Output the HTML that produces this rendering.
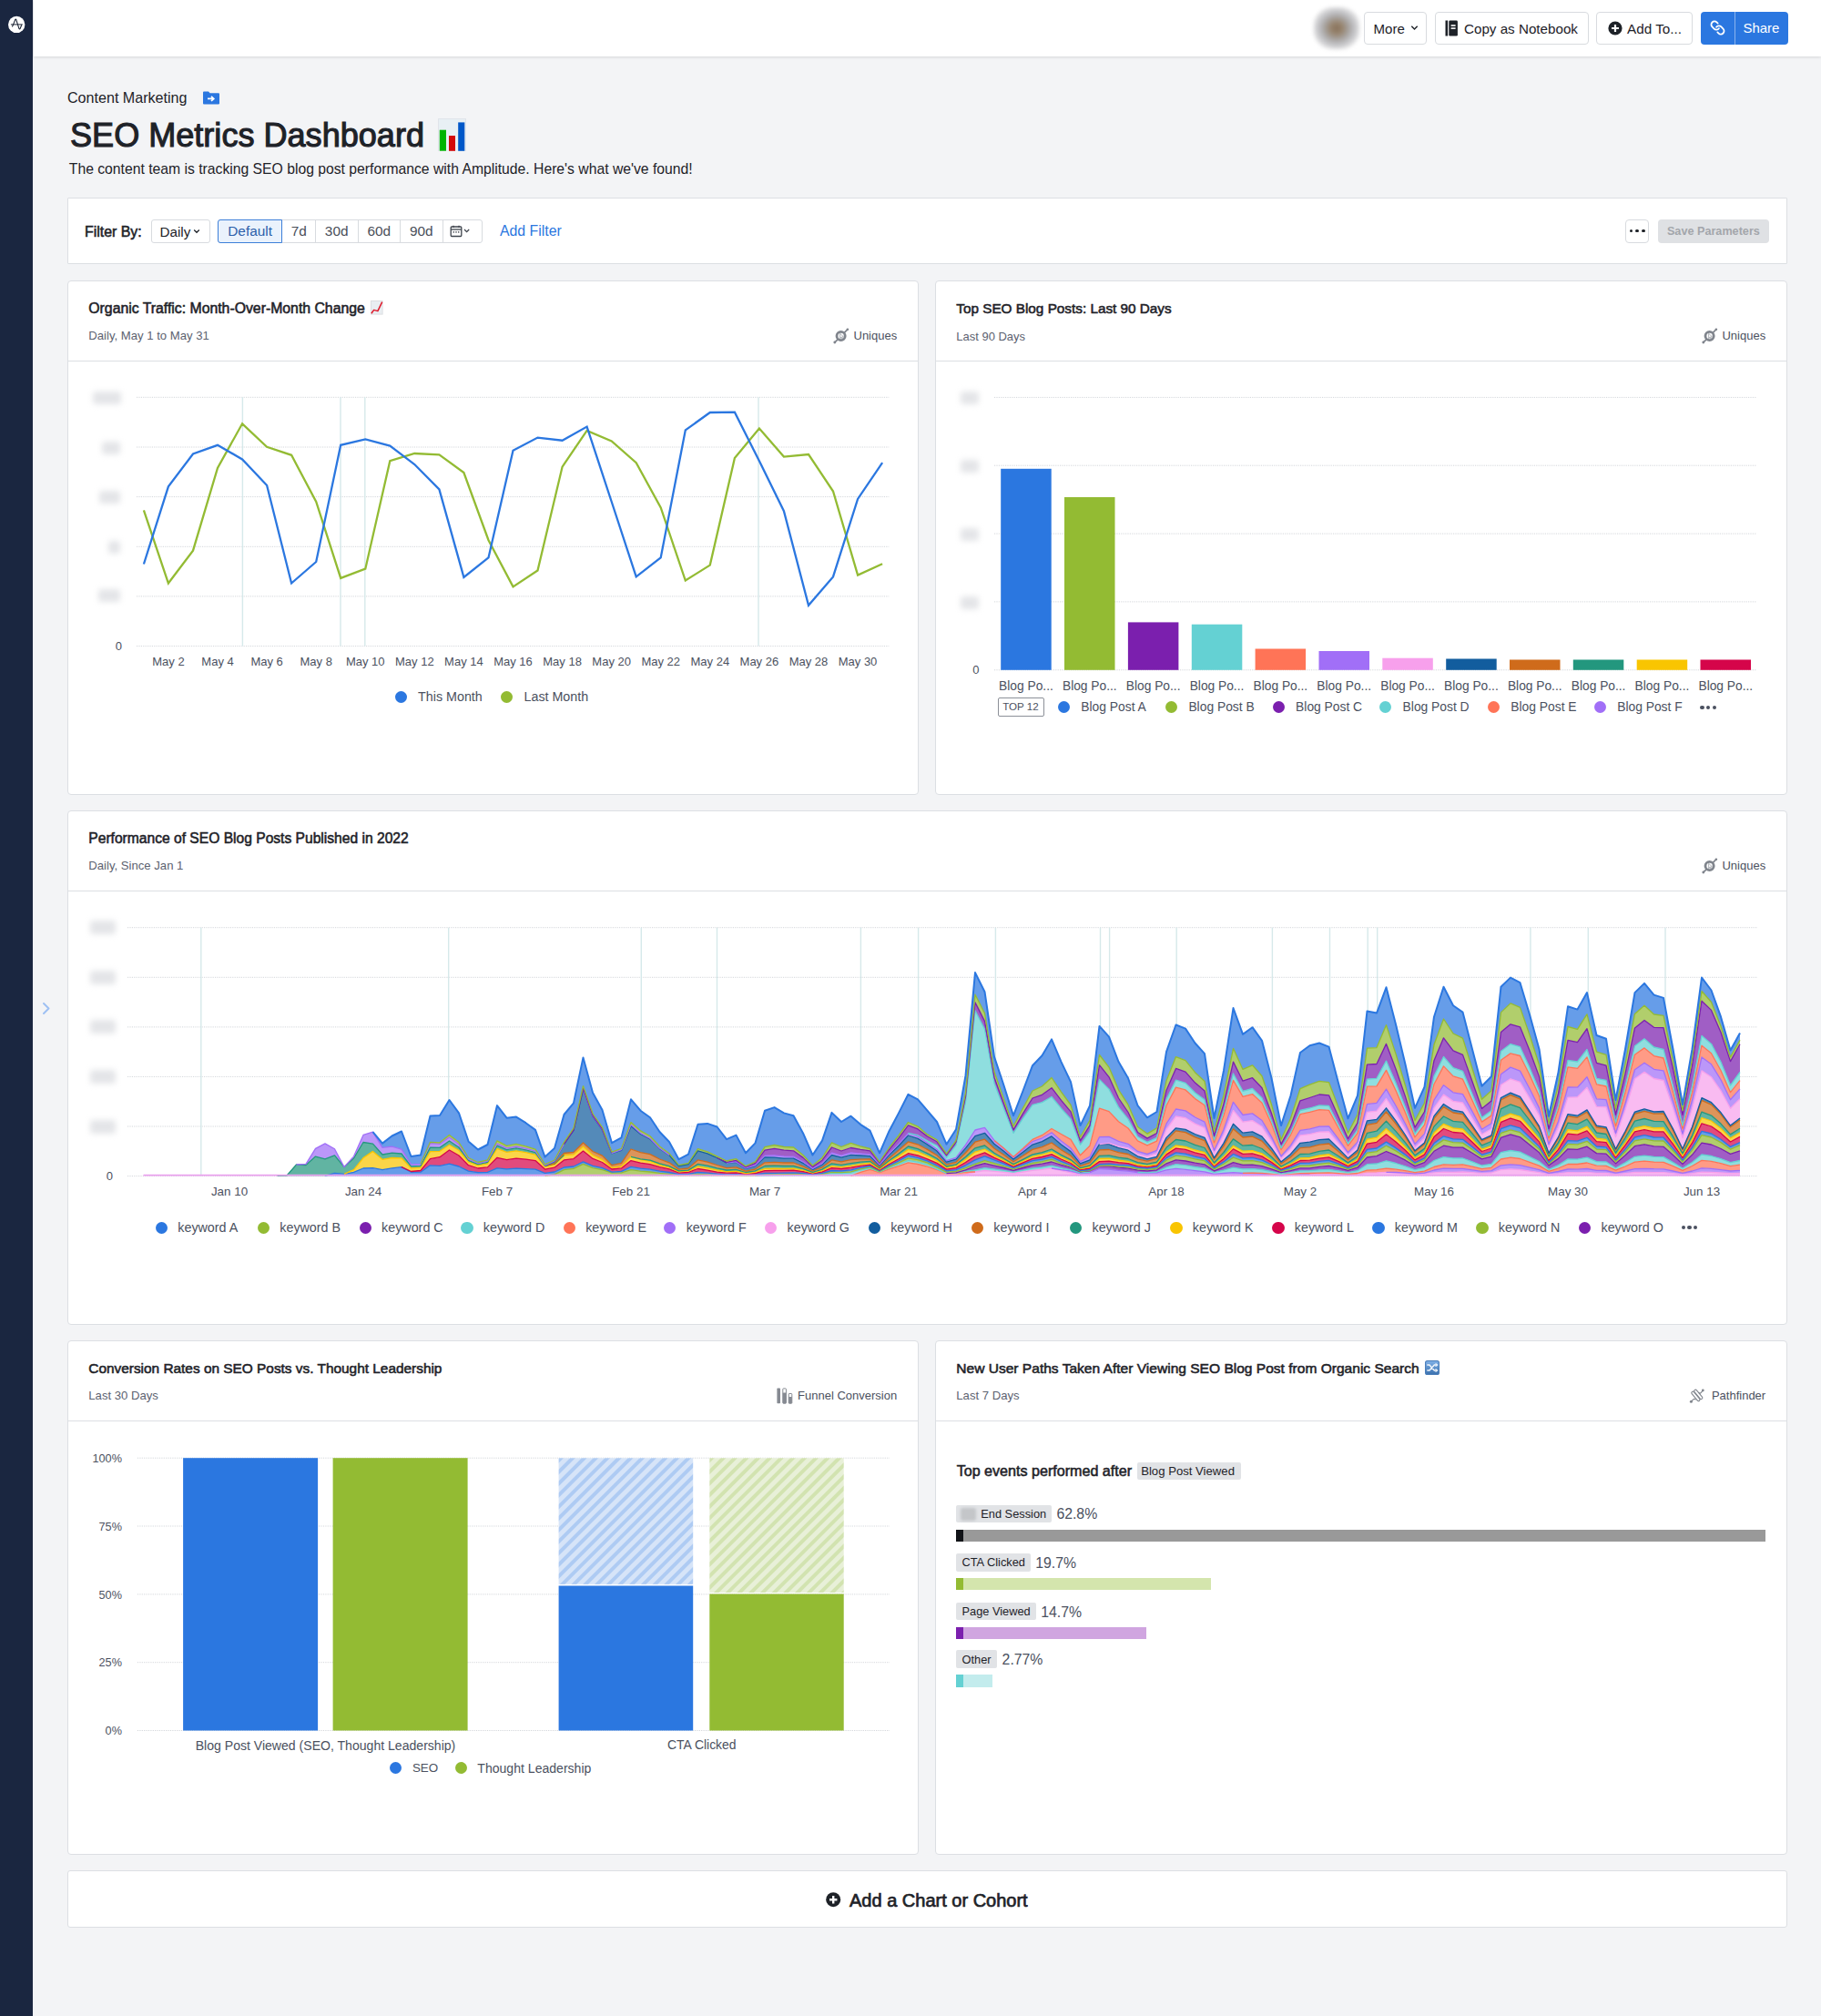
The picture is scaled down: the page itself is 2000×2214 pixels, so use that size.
<!DOCTYPE html>
<html><head><meta charset="utf-8"><title>SEO Metrics Dashboard</title>
<style>
html,body{margin:0;padding:0;}
body{width:2000px;height:2214px;position:relative;overflow:hidden;background:#f3f4f6;font-family:"Liberation Sans", sans-serif;}
.t{position:absolute;white-space:nowrap;font-family:"Liberation Sans", sans-serif;}
.b{position:absolute;}
</style></head><body>
<div class="b" style="left:0.00px;top:0.00px;width:36.00px;height:2214.00px;background:#1a2640;"></div><div class="b" style="left:36.00px;top:0.00px;width:1.00px;height:2214.00px;background:#eef0f3;"></div><svg class="b" style="left:8px;top:17px" width="21" height="21" viewBox="0 0 21 21"><circle cx="10.2" cy="9.9" r="9.2" fill="#fff"/><path d="M5.3 12.4 Q6.2 11.2 6.8 9.4 L8.7 4.6 Q9.2 3.6 9.8 4.6 L12.9 14.3 Q13.5 15.6 14.2 14.3 L15.8 10.2" fill="none" stroke="#1c2535" stroke-width="1.1" stroke-linejoin="round"/><path d="M3.9 9.9 H16.8" stroke="#1c2535" stroke-width="1.0"/></svg><svg class="b" style="left:46px;top:1100px" width="10" height="15" viewBox="0 0 10 15"><path d="M2 2 L7.5 7.5 L2 13" fill="none" stroke="#9ec0f3" stroke-width="2" stroke-linecap="round" stroke-linejoin="round"/></svg><div class="b" style="left:37.00px;top:0.00px;width:1963.00px;height:62.00px;background:#fff;box-shadow:0 1px 3px rgba(0,0,0,0.12);"></div><div class="b" style="left:1443.00px;top:8.00px;width:50.00px;height:46.00px;border-radius:42%;background:radial-gradient(ellipse at 50% 50%,#85705a 0%,#98846e 18%,#a39d97 34%,#b9b9bc 50%,#d6d6d8 66%,#f0f0f1 82%,#ffffff 100%);filter:blur(2px);"></div><div class="b" style="left:1498.00px;top:13.00px;width:69.00px;height:36.00px;background:#fff;border:1px solid #d8dbdf;border-radius:4px;box-sizing:border-box;"></div><div class="t" style="top:23.77px;font-size:15.04px;line-height:15.04px;font-weight:400;color:#1e2228;left:1508.50px;">More</div><svg class="b" style="left:1549px;top:27px" width="9" height="7" viewBox="0 0 9 7"><path d="M1.3 1.8 L4.5 5 L7.7 1.8" fill="none" stroke="#1e2228" stroke-width="1.4"/></svg><div class="b" style="left:1575.50px;top:13.00px;width:169.00px;height:36.00px;background:#fff;border:1px solid #d8dbdf;border-radius:4px;box-sizing:border-box;"></div><svg class="b" style="left:1587px;top:22px" width="15" height="18" viewBox="0 0 15 18"><rect x="0.5" y="0.5" width="2.6" height="17" fill="#1e2228"/><rect x="4.3" y="0.5" width="9.6" height="17" rx="1.3" fill="#1e2228"/><rect x="6.6" y="5.2" width="5" height="1.6" fill="#fff"/><rect x="6.6" y="8.3" width="5" height="1.6" fill="#fff"/></svg><div class="t" style="top:23.63px;font-size:15.2px;line-height:15.2px;font-weight:400;color:#1e2228;left:1608.00px;">Copy as Notebook</div><div class="b" style="left:1753.00px;top:13.00px;width:105.70px;height:36.00px;background:#fff;border:1px solid #d8dbdf;border-radius:4px;box-sizing:border-box;"></div><svg class="b" style="left:1766px;top:23px" width="16" height="16" viewBox="0 0 16 16"><circle cx="8" cy="8" r="7.6" fill="#1e2228"/><path d="M8 4 V12 M4 8 H12" stroke="#fff" stroke-width="2.2"/></svg><div class="t" style="top:23.57px;font-size:15.27px;line-height:15.27px;font-weight:400;color:#1e2228;left:1787.00px;">Add To...</div><div class="b" style="left:1868.00px;top:13.00px;width:96.00px;height:36.00px;background:#2b77e0;border-radius:4px;"></div><div class="b" style="left:1905.00px;top:13.00px;width:1.00px;height:36.00px;background:rgba(255,255,255,0.45);"></div><svg class="b" style="left:1878px;top:22px" width="17" height="17" viewBox="0 0 24 24"><g transform="translate(24 0) scale(-1 1)" fill="none" stroke="#fff" stroke-width="2.5" stroke-linecap="round" stroke-linejoin="round"><path d="M10 13a5 5 0 0 0 7.54.54l3-3a5 5 0 0 0-7.07-7.07l-1.72 1.71"/><path d="M14 11a5 5 0 0 0-7.54-.54l-3 3a5 5 0 0 0 7.07 7.07l1.71-1.71"/></g></svg><div class="t" style="top:23.84px;font-size:14.95px;line-height:14.95px;font-weight:400;color:#fff;left:1914.50px;">Share</div><div class="t" style="top:98.87px;font-size:16.1px;line-height:16.1px;font-weight:400;color:#1e2228;left:74.00px;">Content Marketing</div><svg class="b" style="left:222px;top:100px" width="20" height="15" viewBox="0 0 20 15"><path d="M1 1.5 Q1 0.5 2 0.5 H7 L8.6 2.3 H18 Q19 2.3 19 3.3 V13.5 Q19 14.5 18 14.5 H2 Q1 14.5 1 13.5 Z" fill="#2b77e0"/><path d="M6 8.4 H12.5 M10 5.8 L12.8 8.4 L10 11" fill="none" stroke="#fff" stroke-width="1.7"/></svg><div class="t" style="top:130.93px;font-size:36.1px;line-height:36.1px;font-weight:400;color:#1e2228;-webkit-text-stroke:1.1px #1e2228;left:77.00px;">SEO Metrics Dashboard</div><svg class="b" style="left:481px;top:130px" width="31" height="36" viewBox="0 0 31 36"><rect x="0" y="0" width="31" height="36" fill="#e0e4ea"/><rect x="1" y="1" width="29" height="35" fill="#e8f0f4"/><rect x="1.8" y="12.7" width="7.2" height="23" fill="#00b400"/><rect x="12" y="19" width="7" height="16.8" fill="#d40a0a"/><rect x="22.2" y="4.4" width="7.1" height="31.4" fill="#0057c8"/></svg><div class="t" style="top:177.69px;font-size:15.72px;line-height:15.72px;font-weight:400;color:#1e2228;left:75.80px;">The content team is tracking SEO blog post performance with Amplitude. Here's what we've found!</div><div class="b" style="left:74.00px;top:217.00px;width:1889.00px;height:73.00px;background:#fff;border:1px solid #dcdfe3;border-radius:1px;box-sizing:border-box;"></div><div class="t" style="top:246.54px;font-size:15.9px;line-height:15.9px;font-weight:400;color:#1e2228;-webkit-text-stroke:0.55px #1e2228;left:93.00px;">Filter By:</div><div class="b" style="left:165.50px;top:241.00px;width:65.20px;height:25.50px;border:1px solid #d8dbdf;border-radius:3px;box-sizing:border-box;"></div><div class="t" style="top:246.63px;font-size:15.2px;line-height:15.2px;font-weight:400;color:#1e2228;left:175.50px;">Daily</div><svg class="b" style="left:212px;top:251px" width="8" height="6" viewBox="0 0 8 6"><path d="M1.2 1.5 L4 4.3 L6.8 1.5" fill="none" stroke="#1e2228" stroke-width="1.3"/></svg><div class="b" style="left:239.30px;top:241.00px;width:290.70px;height:25.50px;border:1px solid #d8dbdf;border-radius:3px;box-sizing:border-box;"></div><div class="b" style="left:239.30px;top:241.00px;width:70.70px;height:25.50px;background:#eaf2fc;border:1px solid #3d7fd9;border-radius:3px 0 0 3px;box-sizing:border-box;"></div><div class="b" style="left:345.80px;top:241.00px;width:1.00px;height:25.50px;background:#d8dbdf;"></div><div class="b" style="left:392.50px;top:241.00px;width:1.00px;height:25.50px;background:#d8dbdf;"></div><div class="b" style="left:439.10px;top:241.00px;width:1.00px;height:25.50px;background:#d8dbdf;"></div><div class="b" style="left:485.50px;top:241.00px;width:1.00px;height:25.50px;background:#d8dbdf;"></div><div class="t" style="top:246.46px;font-size:15.4px;line-height:15.4px;font-weight:400;color:#2c5faa;left:-475.40px;width:1500px;text-align:center;">Default</div><div class="t" style="top:246.46px;font-size:15.4px;line-height:15.4px;font-weight:400;color:#4a4f59;left:-421.80px;width:1500px;text-align:center;">7d</div><div class="t" style="top:246.46px;font-size:15.4px;line-height:15.4px;font-weight:400;color:#4a4f59;left:-380.30px;width:1500px;text-align:center;">30d</div><div class="t" style="top:246.46px;font-size:15.4px;line-height:15.4px;font-weight:400;color:#4a4f59;left:-333.70px;width:1500px;text-align:center;">60d</div><div class="t" style="top:246.46px;font-size:15.4px;line-height:15.4px;font-weight:400;color:#4a4f59;left:-287.20px;width:1500px;text-align:center;">90d</div><svg class="b" style="left:494px;top:247px" width="28" height="14" viewBox="0 0 28 14"><rect x="1.2" y="2" width="11.6" height="10.5" rx="1" fill="none" stroke="#3f444d" stroke-width="1.3"/><path d="M1.2 5 H12.8" stroke="#3f444d" stroke-width="1.3"/><path d="M4 0.8 V3 M10 0.8 V3" stroke="#3f444d" stroke-width="1.2"/><rect x="3.6" y="7.2" width="1.4" height="1.4" fill="#3f444d"/><rect x="6.3" y="7.2" width="1.4" height="1.4" fill="#3f444d"/><rect x="9" y="7.2" width="1.4" height="1.4" fill="#3f444d"/><path d="M16 5 L18.6 7.6 L21.2 5" fill="none" stroke="#3f444d" stroke-width="1.3"/></svg><div class="t" style="top:246.09px;font-size:15.84px;line-height:15.84px;font-weight:400;color:#2b77e0;left:549.00px;">Add Filter</div><div class="b" style="left:1785.00px;top:240.50px;width:26.40px;height:26.00px;border:1px solid #d8dbdf;border-radius:4px;box-sizing:border-box;background:#fff;"></div><div class="b" style="left:1789.70px;top:251.60px;width:3.60px;height:3.60px;background:#1e2228;border-radius:50%;"></div><div class="b" style="left:1796.40px;top:251.60px;width:3.60px;height:3.60px;background:#1e2228;border-radius:50%;"></div><div class="b" style="left:1803.10px;top:251.60px;width:3.60px;height:3.60px;background:#1e2228;border-radius:50%;"></div><div class="b" style="left:1820.60px;top:241.00px;width:122.60px;height:25.50px;background:#dfe1e4;border-radius:4px;"></div><div class="t" style="top:248.09px;font-size:12.65px;line-height:12.65px;font-weight:700;color:#a3a6ab;left:1131.90px;width:1500px;text-align:center;">Save Parameters</div><div class="b" style="left:74.00px;top:308.00px;width:935.00px;height:565.00px;background:#fff;border:1px solid #dcdfe3;border-radius:4px;box-sizing:border-box;"></div><div class="b" style="left:75.00px;top:396.00px;width:933.00px;height:1.00px;background:#dcdfe3;"></div><div class="t" style="top:330.62px;font-size:15.8px;line-height:15.8px;font-weight:400;color:#1e2228;-webkit-text-stroke:0.55px #1e2228;left:97.30px;">Organic Traffic: Month-Over-Month Change</div><div class="t" style="top:362.47px;font-size:13.14px;line-height:13.14px;font-weight:400;color:#5c6270;left:97.30px;">Daily, May 1 to May 31</div><div class="t" style="top:361.79px;font-size:13.0px;line-height:13.0px;font-weight:400;color:#4b5160;left:-514.80px;width:1500px;text-align:right;">Uniques</div><svg class="b" style="left:915.0px;top:359.5px" width="18" height="18" viewBox="0 0 18 18"><circle cx="8.6" cy="9" r="4.6" fill="none" stroke="#80858d" stroke-width="2.8"/><path d="M2.2 15.6 L4.7 13.1 M12.5 5.1 L15.6 2.1" stroke="#80858d" stroke-width="1.7" stroke-linecap="round"/><circle cx="1.8" cy="16" r="1.4" fill="#80858d"/><circle cx="15.9" cy="1.8" r="1.3" fill="#80858d"/><path d="M7.6 6.2 L11.4 9.9 L9.5 10 L10.4 12 L9.5 12.4 L8.6 10.4 L7.6 11.6 Z" fill="#fff" stroke="#80858d" stroke-width="0.6"/></svg><div class="b" style="left:1027.00px;top:308.00px;width:936.00px;height:565.00px;background:#fff;border:1px solid #dcdfe3;border-radius:4px;box-sizing:border-box;"></div><div class="b" style="left:1028.00px;top:396.00px;width:934.00px;height:1.00px;background:#dcdfe3;"></div><div class="t" style="top:331.05px;font-size:15.3px;line-height:15.3px;font-weight:400;color:#1e2228;-webkit-text-stroke:0.55px #1e2228;left:1050.30px;">Top SEO Blog Posts: Last 90 Days</div><div class="t" style="top:362.61px;font-size:12.98px;line-height:12.98px;font-weight:400;color:#5c6270;left:1050.30px;">Last 90 Days</div><div class="t" style="top:361.79px;font-size:13.0px;line-height:13.0px;font-weight:400;color:#4b5160;left:439.20px;width:1500px;text-align:right;">Uniques</div><svg class="b" style="left:1869.0px;top:359.5px" width="18" height="18" viewBox="0 0 18 18"><circle cx="8.6" cy="9" r="4.6" fill="none" stroke="#80858d" stroke-width="2.8"/><path d="M2.2 15.6 L4.7 13.1 M12.5 5.1 L15.6 2.1" stroke="#80858d" stroke-width="1.7" stroke-linecap="round"/><circle cx="1.8" cy="16" r="1.4" fill="#80858d"/><circle cx="15.9" cy="1.8" r="1.3" fill="#80858d"/><path d="M7.6 6.2 L11.4 9.9 L9.5 10 L10.4 12 L9.5 12.4 L8.6 10.4 L7.6 11.6 Z" fill="#fff" stroke="#80858d" stroke-width="0.6"/></svg><div class="b" style="left:74.00px;top:890.00px;width:1889.00px;height:565.00px;background:#fff;border:1px solid #dcdfe3;border-radius:4px;box-sizing:border-box;"></div><div class="b" style="left:75.00px;top:978.00px;width:1887.00px;height:1.00px;background:#dcdfe3;"></div><div class="t" style="top:912.77px;font-size:15.62px;line-height:15.62px;font-weight:400;color:#1e2228;-webkit-text-stroke:0.55px #1e2228;left:97.30px;">Performance of SEO Blog Posts Published in 2022</div><div class="t" style="top:944.47px;font-size:13.14px;line-height:13.14px;font-weight:400;color:#5c6270;left:97.30px;">Daily, Since Jan 1</div><div class="t" style="top:943.79px;font-size:13.0px;line-height:13.0px;font-weight:400;color:#4b5160;left:439.20px;width:1500px;text-align:right;">Uniques</div><svg class="b" style="left:1869.0px;top:941.5px" width="18" height="18" viewBox="0 0 18 18"><circle cx="8.6" cy="9" r="4.6" fill="none" stroke="#80858d" stroke-width="2.8"/><path d="M2.2 15.6 L4.7 13.1 M12.5 5.1 L15.6 2.1" stroke="#80858d" stroke-width="1.7" stroke-linecap="round"/><circle cx="1.8" cy="16" r="1.4" fill="#80858d"/><circle cx="15.9" cy="1.8" r="1.3" fill="#80858d"/><path d="M7.6 6.2 L11.4 9.9 L9.5 10 L10.4 12 L9.5 12.4 L8.6 10.4 L7.6 11.6 Z" fill="#fff" stroke="#80858d" stroke-width="0.6"/></svg><div class="b" style="left:74.00px;top:1472.00px;width:935.00px;height:565.00px;background:#fff;border:1px solid #dcdfe3;border-radius:4px;box-sizing:border-box;"></div><div class="b" style="left:75.00px;top:1560.00px;width:933.00px;height:1.00px;background:#dcdfe3;"></div><div class="t" style="top:1494.96px;font-size:15.4px;line-height:15.4px;font-weight:400;color:#1e2228;-webkit-text-stroke:0.55px #1e2228;left:97.30px;">Conversion Rates on SEO Posts vs. Thought Leadership</div><div class="t" style="top:1526.47px;font-size:13.14px;line-height:13.14px;font-weight:400;color:#5c6270;left:97.30px;">Last 30 Days</div><div class="t" style="top:1525.79px;font-size:13.0px;line-height:13.0px;font-weight:400;color:#4b5160;left:-514.80px;width:1500px;text-align:right;">Funnel Conversion</div><svg class="b" style="left:852.5px;top:1523.8px" width="18" height="18" viewBox="0 0 18 18"><rect x="0.4" y="0.6" width="3.6" height="16.6" rx="0.6" fill="#868a92"/><rect x="6.8" y="0.9" width="3.6" height="16.3" rx="0.6" fill="none" stroke="#868a92" stroke-width="1"/><rect x="6.8" y="5.6" width="3.6" height="11.6" rx="0.6" fill="#868a92"/><rect x="13.2" y="6.5" width="3.6" height="10.7" rx="0.6" fill="none" stroke="#868a92" stroke-width="1"/><rect x="13.2" y="10" width="3.6" height="7.2" rx="0.6" fill="#868a92"/></svg><div class="b" style="left:1027.00px;top:1472.00px;width:936.00px;height:565.00px;background:#fff;border:1px solid #dcdfe3;border-radius:4px;box-sizing:border-box;"></div><div class="b" style="left:1028.00px;top:1560.00px;width:934.00px;height:1.00px;background:#dcdfe3;"></div><div class="t" style="top:1494.83px;font-size:15.55px;line-height:15.55px;font-weight:400;color:#1e2228;-webkit-text-stroke:0.55px #1e2228;left:1050.30px;">New User Paths Taken After Viewing SEO Blog Post from Organic Search</div><div class="t" style="top:1526.47px;font-size:13.14px;line-height:13.14px;font-weight:400;color:#5c6270;left:1050.30px;">Last 7 Days</div><div class="t" style="top:1525.79px;font-size:13.0px;line-height:13.0px;font-weight:400;color:#4b5160;left:439.20px;width:1500px;text-align:right;">Pathfinder</div><svg class="b" style="left:1850.0px;top:1520.0px" width="28" height="25" viewBox="0 0 28 25"><g transform="translate(13.9 12.5) rotate(50)" fill="none" stroke="#80858d" stroke-width="1.1"><rect x="-6.3" y="-3.2" width="12.6" height="2.9" rx="1.45"/><rect x="-6.6" y="0.3" width="12.6" height="2.9" rx="1.45"/></g><path d="M7.4 19.2 L10.1 16.6 Q10.8 16 11.5 16.6 L12.4 17.4 M15.5 9.3 L16.5 10 Q17.2 10.4 17.8 9.8 L20.5 6.8" fill="none" stroke="#80858d" stroke-width="1.15"/><circle cx="7.4" cy="19.2" r="1.5" fill="#80858d"/><circle cx="20.3" cy="6.9" r="1.4" fill="#80858d"/></svg><svg class="b" style="left:407px;top:329.5px" width="14" height="16" viewBox="0 0 14 16"><rect x="0" y="0" width="13.6" height="15.6" fill="#dcdee1"/><rect x="1" y="1" width="11.6" height="13.6" fill="#e9eef2"/><path d="M0.9 14.3 L3.6 10.4 L7.9 11.6 L12.7 1.6" fill="none" stroke="#de1a2c" stroke-width="1.5" stroke-linejoin="round"/></svg><svg class="b" style="left:1565px;top:1494px" width="16" height="16" viewBox="0 0 16 16"><defs><linearGradient id="shg" x1="0" y1="0" x2="0" y2="1"><stop offset="0" stop-color="#7fb0e6"/><stop offset="1" stop-color="#3d73b0"/></linearGradient></defs><rect x="0" y="0" width="16" height="16" rx="2.6" fill="#4a7db8"/><rect x="0.9" y="0.9" width="14.2" height="14.2" rx="2" fill="url(#shg)"/><path d="M2.3 5 H5 L10.3 11 H12.8 M2.3 11 H5 L10.3 5 H12.8" fill="none" stroke="#f2f6fb" stroke-width="1.4"/><path d="M11.6 3.4 L13.6 5 L11.6 6.6 M11.6 9.4 L13.6 11 L11.6 12.6" fill="none" stroke="#f2f6fb" stroke-width="1.2"/></svg><div class="b" style="left:74.00px;top:2054.00px;width:1889.00px;height:63.00px;background:#fff;border:1px solid #dcdfe3;border-radius:3px;box-sizing:border-box;"></div><svg class="b" style="left:907px;top:2078px" width="17" height="17" viewBox="0 0 17 17"><circle cx="8.2" cy="8.2" r="8" fill="#1e2228"/><path d="M8.2 4 V12.4 M4 8.2 H12.4" stroke="#fff" stroke-width="2.4"/></svg><div class="t" style="top:2076.77px;font-size:20.0px;line-height:20.0px;font-weight:400;color:#1e2228;-webkit-text-stroke:0.7px #1e2228;left:933.00px;">Add a Chart or Cohort</div><svg class="b" style="left:140px;top:420px" width="850" height="300" viewBox="140 420 850 300"><line x1="150" y1="436.3" x2="976.3" y2="436.3" stroke="#d3d6da" stroke-width="1" stroke-dasharray="1.2 1.2"/><line x1="150" y1="491.0" x2="976.3" y2="491.0" stroke="#d3d6da" stroke-width="1" stroke-dasharray="1.2 1.2"/><line x1="150" y1="545.6" x2="976.3" y2="545.6" stroke="#d3d6da" stroke-width="1" stroke-dasharray="1.2 1.2"/><line x1="150" y1="600.3" x2="976.3" y2="600.3" stroke="#d3d6da" stroke-width="1" stroke-dasharray="1.2 1.2"/><line x1="150" y1="654.9" x2="976.3" y2="654.9" stroke="#d3d6da" stroke-width="1" stroke-dasharray="1.2 1.2"/><line x1="150" y1="709.6" x2="976.3" y2="709.6" stroke="#d3d6da" stroke-width="1" stroke-dasharray="1.2 1.2"/><line x1="266.4" y1="436.3" x2="266.4" y2="709.6" stroke="#d6e9ea" stroke-width="1.4"/><line x1="374" y1="436.3" x2="374" y2="709.6" stroke="#d6e9ea" stroke-width="1.4"/><line x1="400.8" y1="436.3" x2="400.8" y2="709.6" stroke="#d6e9ea" stroke-width="1.4"/><line x1="833" y1="436.3" x2="833" y2="709.6" stroke="#d6e9ea" stroke-width="1.4"/><polyline points="157.9,560.4 184.9,640.5 212.0,604.7 239.0,513.9 266.1,465.3 293.1,490.8 320.1,499.8 347.2,551.0 374.2,634.9 401.3,624.7 428.3,506.2 455.3,498.0 482.4,499.3 509.4,519.0 536.5,593.2 563.5,644.4 590.5,626.5 617.6,512.6 644.6,472.9 671.7,484.4 698.7,508.2 725.7,557.4 752.8,637.5 779.8,620.6 806.9,503.1 833.9,470.6 860.9,501.6 888.0,499.0 915.0,539.5 942.1,631.6 969.1,619.3" fill="none" stroke="#93bb33" stroke-width="2.3" stroke-linejoin="miter"/><polyline points="157.9,619.5 184.9,534.3 212.0,498.5 239.0,488.8 266.1,504.4 293.1,533.0 320.1,640.5 347.2,617.0 374.2,488.8 401.3,482.4 428.3,489.6 455.3,510.0 482.4,537.4 509.4,634.0 536.5,612.4 563.5,494.7 590.5,480.6 617.6,483.7 644.6,468.6 671.7,551.0 698.7,633.4 725.7,612.4 752.8,472.4 779.8,453.0 806.9,452.7 833.9,506.2 860.9,561.2 888.0,664.8 915.0,633.4 942.1,547.9 969.1,508.2" fill="none" stroke="#2b77e0" stroke-width="2.3" stroke-linejoin="miter"/></svg><div class="b" style="left:102.00px;top:430.00px;width:30.50px;height:14.00px;background:#e4e5e8;border-radius:3px;filter:blur(3.2px);"></div><div class="b" style="left:112.30px;top:484.60px;width:20.20px;height:14.00px;background:#e4e5e8;border-radius:3px;filter:blur(3.2px);"></div><div class="b" style="left:109.20px;top:539.40px;width:23.30px;height:14.00px;background:#e4e5e8;border-radius:3px;filter:blur(3.2px);"></div><div class="b" style="left:118.70px;top:593.80px;width:13.80px;height:14.00px;background:#e4e5e8;border-radius:3px;filter:blur(3.2px);"></div><div class="b" style="left:108.40px;top:647.00px;width:24.10px;height:14.00px;background:#e4e5e8;border-radius:3px;filter:blur(3.2px);"></div><div class="t" style="top:702.69px;font-size:13.0px;line-height:13.0px;font-weight:400;color:#4b5160;left:-1366.00px;width:1500px;text-align:right;">0</div><div class="t" style="top:720.39px;font-size:13.0px;line-height:13.0px;font-weight:400;color:#4b5160;left:-565.06px;width:1500px;text-align:center;">May 2</div><div class="t" style="top:720.39px;font-size:13.0px;line-height:13.0px;font-weight:400;color:#4b5160;left:-510.98px;width:1500px;text-align:center;">May 4</div><div class="t" style="top:720.39px;font-size:13.0px;line-height:13.0px;font-weight:400;color:#4b5160;left:-456.90px;width:1500px;text-align:center;">May 6</div><div class="t" style="top:720.39px;font-size:13.0px;line-height:13.0px;font-weight:400;color:#4b5160;left:-402.82px;width:1500px;text-align:center;">May 8</div><div class="t" style="top:720.39px;font-size:13.0px;line-height:13.0px;font-weight:400;color:#4b5160;left:-348.74px;width:1500px;text-align:center;">May 10</div><div class="t" style="top:720.39px;font-size:13.0px;line-height:13.0px;font-weight:400;color:#4b5160;left:-294.66px;width:1500px;text-align:center;">May 12</div><div class="t" style="top:720.39px;font-size:13.0px;line-height:13.0px;font-weight:400;color:#4b5160;left:-240.58px;width:1500px;text-align:center;">May 14</div><div class="t" style="top:720.39px;font-size:13.0px;line-height:13.0px;font-weight:400;color:#4b5160;left:-186.50px;width:1500px;text-align:center;">May 16</div><div class="t" style="top:720.39px;font-size:13.0px;line-height:13.0px;font-weight:400;color:#4b5160;left:-132.42px;width:1500px;text-align:center;">May 18</div><div class="t" style="top:720.39px;font-size:13.0px;line-height:13.0px;font-weight:400;color:#4b5160;left:-78.34px;width:1500px;text-align:center;">May 20</div><div class="t" style="top:720.39px;font-size:13.0px;line-height:13.0px;font-weight:400;color:#4b5160;left:-24.26px;width:1500px;text-align:center;">May 22</div><div class="t" style="top:720.39px;font-size:13.0px;line-height:13.0px;font-weight:400;color:#4b5160;left:29.82px;width:1500px;text-align:center;">May 24</div><div class="t" style="top:720.39px;font-size:13.0px;line-height:13.0px;font-weight:400;color:#4b5160;left:83.90px;width:1500px;text-align:center;">May 26</div><div class="t" style="top:720.39px;font-size:13.0px;line-height:13.0px;font-weight:400;color:#4b5160;left:137.98px;width:1500px;text-align:center;">May 28</div><div class="t" style="top:720.39px;font-size:13.0px;line-height:13.0px;font-weight:400;color:#4b5160;left:192.06px;width:1500px;text-align:center;">May 30</div><div class="b" style="left:434.30px;top:759.20px;width:13.20px;height:13.20px;background:#2b77e0;border-radius:50%;"></div><div class="t" style="top:758.30px;font-size:14.29px;line-height:14.29px;font-weight:400;color:#4b5160;left:459.10px;">This Month</div><div class="b" style="left:550.30px;top:759.20px;width:13.20px;height:13.20px;background:#93bb33;border-radius:50%;"></div><div class="t" style="top:758.30px;font-size:14.29px;line-height:14.29px;font-weight:400;color:#4b5160;left:575.50px;">Last Month</div><svg class="b" style="left:1080px;top:420px" width="870" height="330" viewBox="1080 420 870 330"><line x1="1092" y1="436.4" x2="1929" y2="436.4" stroke="#d3d6da" stroke-width="1" stroke-dasharray="1.2 1.2"/><line x1="1092" y1="511.2" x2="1929" y2="511.2" stroke="#d3d6da" stroke-width="1" stroke-dasharray="1.2 1.2"/><line x1="1092" y1="586.1" x2="1929" y2="586.1" stroke="#d3d6da" stroke-width="1" stroke-dasharray="1.2 1.2"/><line x1="1092" y1="660.9" x2="1929" y2="660.9" stroke="#d3d6da" stroke-width="1" stroke-dasharray="1.2 1.2"/><line x1="1092" y1="735.8" x2="1929" y2="735.8" stroke="#d3d6da" stroke-width="1" stroke-dasharray="1.2 1.2"/><rect x="1099.2" y="514.8" width="55.5" height="221.0" fill="#2b77e0"/><rect x="1169.0" y="546" width="55.5" height="189.8" fill="#93bb33"/><rect x="1238.9" y="683.4" width="55.5" height="52.4" fill="#7b1fae"/><rect x="1308.8" y="685.7" width="55.5" height="50.1" fill="#64d1d3"/><rect x="1378.6" y="712.5" width="55.5" height="23.3" fill="#ff7457"/><rect x="1448.5" y="715" width="55.5" height="20.8" fill="#a16ff7"/><rect x="1518.3" y="722.7" width="55.5" height="13.1" fill="#f7a0ec"/><rect x="1588.2" y="723.5" width="55.5" height="12.3" fill="#125d9e"/><rect x="1658.0" y="724.5" width="55.5" height="11.3" fill="#cf6b1b"/><rect x="1727.8" y="724.5" width="55.5" height="11.3" fill="#23977e"/><rect x="1797.7" y="724.5" width="55.5" height="11.3" fill="#f9c501"/><rect x="1867.5" y="724.5" width="55.5" height="11.3" fill="#d5054a"/></svg><div class="b" style="left:1055.00px;top:430.00px;width:20.00px;height:14.00px;background:#e4e5e8;border-radius:3px;filter:blur(3.2px);"></div><div class="b" style="left:1055.00px;top:504.70px;width:20.00px;height:14.00px;background:#e4e5e8;border-radius:3px;filter:blur(3.2px);"></div><div class="b" style="left:1055.00px;top:580.00px;width:20.00px;height:14.00px;background:#e4e5e8;border-radius:3px;filter:blur(3.2px);"></div><div class="b" style="left:1055.00px;top:654.80px;width:20.00px;height:14.00px;background:#e4e5e8;border-radius:3px;filter:blur(3.2px);"></div><div class="t" style="top:729.29px;font-size:13.0px;line-height:13.0px;font-weight:400;color:#4b5160;left:-424.50px;width:1500px;text-align:right;">0</div><div class="t" style="top:746.54px;font-size:13.77px;line-height:13.77px;font-weight:400;color:#4b5160;left:376.95px;width:1500px;text-align:center;">Blog Po...</div><div class="t" style="top:746.54px;font-size:13.77px;line-height:13.77px;font-weight:400;color:#4b5160;left:446.80px;width:1500px;text-align:center;">Blog Po...</div><div class="t" style="top:746.54px;font-size:13.77px;line-height:13.77px;font-weight:400;color:#4b5160;left:516.65px;width:1500px;text-align:center;">Blog Po...</div><div class="t" style="top:746.54px;font-size:13.77px;line-height:13.77px;font-weight:400;color:#4b5160;left:586.50px;width:1500px;text-align:center;">Blog Po...</div><div class="t" style="top:746.54px;font-size:13.77px;line-height:13.77px;font-weight:400;color:#4b5160;left:656.35px;width:1500px;text-align:center;">Blog Po...</div><div class="t" style="top:746.54px;font-size:13.77px;line-height:13.77px;font-weight:400;color:#4b5160;left:726.20px;width:1500px;text-align:center;">Blog Po...</div><div class="t" style="top:746.54px;font-size:13.77px;line-height:13.77px;font-weight:400;color:#4b5160;left:796.05px;width:1500px;text-align:center;">Blog Po...</div><div class="t" style="top:746.54px;font-size:13.77px;line-height:13.77px;font-weight:400;color:#4b5160;left:865.90px;width:1500px;text-align:center;">Blog Po...</div><div class="t" style="top:746.54px;font-size:13.77px;line-height:13.77px;font-weight:400;color:#4b5160;left:935.75px;width:1500px;text-align:center;">Blog Po...</div><div class="t" style="top:746.54px;font-size:13.77px;line-height:13.77px;font-weight:400;color:#4b5160;left:1005.60px;width:1500px;text-align:center;">Blog Po...</div><div class="t" style="top:746.54px;font-size:13.77px;line-height:13.77px;font-weight:400;color:#4b5160;left:1075.45px;width:1500px;text-align:center;">Blog Po...</div><div class="t" style="top:746.54px;font-size:13.77px;line-height:13.77px;font-weight:400;color:#4b5160;left:1145.30px;width:1500px;text-align:center;">Blog Po...</div><div class="b" style="left:1096.00px;top:766.30px;width:51.00px;height:20.70px;border:1px solid #8c9098;border-radius:2px;box-sizing:border-box;"></div><div class="t" style="top:771.10px;font-size:11.58px;line-height:11.58px;font-weight:400;color:#4b5160;left:370.90px;width:1500px;text-align:center;">TOP 12</div><div class="b" style="left:1162.00px;top:770.00px;width:13.20px;height:13.20px;background:#2b77e0;border-radius:50%;"></div><div class="t" style="top:769.68px;font-size:13.84px;line-height:13.84px;font-weight:400;color:#4b5160;left:1187.30px;">Blog Post A</div><div class="b" style="left:1280.10px;top:770.00px;width:13.20px;height:13.20px;background:#93bb33;border-radius:50%;"></div><div class="t" style="top:769.68px;font-size:13.84px;line-height:13.84px;font-weight:400;color:#4b5160;left:1305.40px;">Blog Post B</div><div class="b" style="left:1397.80px;top:770.00px;width:13.20px;height:13.20px;background:#7b1fae;border-radius:50%;"></div><div class="t" style="top:769.68px;font-size:13.84px;line-height:13.84px;font-weight:400;color:#4b5160;left:1423.10px;">Blog Post C</div><div class="b" style="left:1515.30px;top:770.00px;width:13.20px;height:13.20px;background:#64d1d3;border-radius:50%;"></div><div class="t" style="top:769.68px;font-size:13.84px;line-height:13.84px;font-weight:400;color:#4b5160;left:1540.60px;">Blog Post D</div><div class="b" style="left:1634.00px;top:770.00px;width:13.20px;height:13.20px;background:#ff7457;border-radius:50%;"></div><div class="t" style="top:769.68px;font-size:13.84px;line-height:13.84px;font-weight:400;color:#4b5160;left:1659.30px;">Blog Post E</div><div class="b" style="left:1750.90px;top:770.00px;width:13.20px;height:13.20px;background:#a16ff7;border-radius:50%;"></div><div class="t" style="top:769.68px;font-size:13.84px;line-height:13.84px;font-weight:400;color:#4b5160;left:1776.20px;">Blog Post F</div><div class="b" style="left:1867.40px;top:774.60px;width:4.20px;height:4.20px;background:#4b5160;border-radius:50%;"></div><div class="b" style="left:1874.30px;top:774.60px;width:4.20px;height:4.20px;background:#4b5160;border-radius:50%;"></div><div class="b" style="left:1881.20px;top:774.60px;width:4.20px;height:4.20px;background:#4b5160;border-radius:50%;"></div><svg class="b" style="left:130px;top:1000px" width="1810" height="300" viewBox="130 1000 1810 300"><line x1="140" y1="1018.7" x2="1930.5" y2="1018.7" stroke="#d3d6da" stroke-width="1" stroke-dasharray="1.2 1.2"/><line x1="140" y1="1073.3" x2="1930.5" y2="1073.3" stroke="#d3d6da" stroke-width="1" stroke-dasharray="1.2 1.2"/><line x1="140" y1="1127.9" x2="1930.5" y2="1127.9" stroke="#d3d6da" stroke-width="1" stroke-dasharray="1.2 1.2"/><line x1="140" y1="1182.4" x2="1930.5" y2="1182.4" stroke="#d3d6da" stroke-width="1" stroke-dasharray="1.2 1.2"/><line x1="140" y1="1237.0" x2="1930.5" y2="1237.0" stroke="#d3d6da" stroke-width="1" stroke-dasharray="1.2 1.2"/><line x1="140" y1="1291.6" x2="1930.5" y2="1291.6" stroke="#d3d6da" stroke-width="1" stroke-dasharray="1.2 1.2"/><line x1="220.8" y1="1018.8" x2="220.8" y2="1291.4" stroke="#d6e9ea" stroke-width="1.4"/><line x1="492.7" y1="1018.8" x2="492.7" y2="1291.4" stroke="#d6e9ea" stroke-width="1.4"/><line x1="704.3" y1="1018.8" x2="704.3" y2="1291.4" stroke="#d6e9ea" stroke-width="1.4"/><line x1="787.5" y1="1018.8" x2="787.5" y2="1291.4" stroke="#d6e9ea" stroke-width="1.4"/><line x1="945.4" y1="1018.8" x2="945.4" y2="1291.4" stroke="#d6e9ea" stroke-width="1.4"/><line x1="1008.6" y1="1018.8" x2="1008.6" y2="1291.4" stroke="#d6e9ea" stroke-width="1.4"/><line x1="1093.4" y1="1018.8" x2="1093.4" y2="1291.4" stroke="#d6e9ea" stroke-width="1.4"/><line x1="1208.5" y1="1018.8" x2="1208.5" y2="1291.4" stroke="#d6e9ea" stroke-width="1.4"/><line x1="1218.6" y1="1018.8" x2="1218.6" y2="1291.4" stroke="#d6e9ea" stroke-width="1.4"/><line x1="1292.2" y1="1018.8" x2="1292.2" y2="1291.4" stroke="#d6e9ea" stroke-width="1.4"/><line x1="1397.4" y1="1018.8" x2="1397.4" y2="1291.4" stroke="#d6e9ea" stroke-width="1.4"/><line x1="1460.5" y1="1018.8" x2="1460.5" y2="1291.4" stroke="#d6e9ea" stroke-width="1.4"/><line x1="1502.2" y1="1018.8" x2="1502.2" y2="1291.4" stroke="#d6e9ea" stroke-width="1.4"/><line x1="1512.7" y1="1018.8" x2="1512.7" y2="1291.4" stroke="#d6e9ea" stroke-width="1.4"/><line x1="1680.9" y1="1018.8" x2="1680.9" y2="1291.4" stroke="#d6e9ea" stroke-width="1.4"/><line x1="1744.3" y1="1018.8" x2="1744.3" y2="1291.4" stroke="#d6e9ea" stroke-width="1.4"/><line x1="1829" y1="1018.8" x2="1829" y2="1291.4" stroke="#d6e9ea" stroke-width="1.4"/><polygon points="304.5,1291.4 315.0,1291.4 325.5,1291.4 336.0,1291.4 346.5,1291.4 357.0,1291.4 367.5,1291.4 378.0,1291.4 388.5,1291.4 399.0,1291.4 409.5,1291.4 420.0,1291.4 430.5,1291.4 441.0,1291.4 451.5,1291.4 462.0,1291.4 472.5,1291.4 483.0,1291.4 493.5,1291.4 504.0,1291.4 514.5,1291.4 525.0,1291.4 535.5,1291.4 546.0,1291.4 556.5,1291.4 567.0,1291.4 577.5,1291.4 588.0,1291.4 598.5,1291.4 609.0,1291.4 619.5,1291.4 630.0,1291.4 640.5,1291.4 651.0,1291.4 661.5,1291.4 672.0,1291.4 682.5,1291.4 693.0,1291.4 703.5,1291.4 714.0,1291.4 724.5,1291.4 735.0,1291.4 745.5,1291.4 756.0,1291.4 766.5,1291.4 777.0,1291.4 787.5,1291.4 798.0,1291.4 808.5,1291.4 819.0,1291.4 829.5,1291.4 840.0,1291.4 850.5,1291.4 861.0,1291.4 871.5,1291.4 882.0,1291.4 892.5,1291.4 903.0,1291.4 913.5,1291.4 924.0,1291.4 934.5,1291.4 945.0,1291.4 955.5,1291.4 966.0,1291.4 976.5,1291.4 987.0,1291.4 997.5,1291.4 1008.0,1291.4 1018.5,1291.4 1029.0,1291.4 1039.5,1291.4 1050.0,1291.1 1060.5,1290.0 1071.0,1287.0 1081.5,1285.5 1092.0,1286.4 1102.5,1287.3 1113.0,1288.5 1123.5,1287.0 1134.0,1285.3 1144.5,1284.4 1155.0,1283.0 1165.5,1285.7 1176.0,1287.9 1186.5,1290.1 1197.0,1290.5 1207.5,1291.4 1218.0,1291.4 1228.5,1291.4 1239.0,1291.4 1249.5,1291.4 1260.0,1291.4 1270.5,1291.4 1281.0,1291.4 1291.5,1291.4 1302.0,1291.4 1312.5,1291.4 1323.0,1291.4 1333.5,1291.4 1344.0,1291.4 1354.5,1291.4 1365.0,1291.2 1375.5,1291.0 1386.0,1290.8 1396.5,1290.9 1407.0,1291.1 1417.5,1290.7 1428.0,1290.2 1438.5,1290.0 1449.0,1289.8 1459.5,1289.6 1470.0,1290.0 1480.5,1290.5 1491.0,1290.0 1501.5,1288.2 1512.0,1288.0 1522.5,1287.3 1533.0,1288.1 1543.5,1289.0 1554.0,1289.9 1564.5,1289.4 1575.0,1287.9 1585.5,1287.2 1596.0,1287.3 1606.5,1287.0 1617.0,1287.7 1627.5,1288.6 1638.0,1288.0 1648.5,1284.6 1659.0,1283.8 1669.5,1284.5 1680.0,1286.1 1690.5,1287.6 1701.0,1289.8 1711.5,1288.9 1722.0,1287.7 1732.5,1287.8 1743.0,1287.4 1753.5,1288.4 1764.0,1288.5 1774.5,1289.8 1785.0,1288.7 1795.5,1287.5 1806.0,1287.3 1816.5,1287.6 1827.0,1287.6 1837.5,1288.7 1848.0,1289.9 1858.5,1288.7 1869.0,1287.1 1879.5,1287.4 1890.0,1288.0 1900.5,1288.7 1911.0,1288.3 1911.0,1291.4 1900.5,1291.4 1890.0,1291.4 1879.5,1291.4 1869.0,1291.4 1858.5,1291.4 1848.0,1291.4 1837.5,1291.4 1827.0,1291.4 1816.5,1291.4 1806.0,1291.4 1795.5,1291.4 1785.0,1291.4 1774.5,1291.4 1764.0,1291.4 1753.5,1291.4 1743.0,1291.4 1732.5,1291.4 1722.0,1291.4 1711.5,1291.4 1701.0,1291.4 1690.5,1291.4 1680.0,1291.4 1669.5,1291.4 1659.0,1291.4 1648.5,1291.4 1638.0,1291.4 1627.5,1291.4 1617.0,1291.4 1606.5,1291.4 1596.0,1291.4 1585.5,1291.4 1575.0,1291.4 1564.5,1291.4 1554.0,1291.4 1543.5,1291.4 1533.0,1291.4 1522.5,1291.4 1512.0,1291.4 1501.5,1291.4 1491.0,1291.4 1480.5,1291.4 1470.0,1291.4 1459.5,1291.4 1449.0,1291.4 1438.5,1291.4 1428.0,1291.4 1417.5,1291.4 1407.0,1291.4 1396.5,1291.4 1386.0,1291.4 1375.5,1291.4 1365.0,1291.4 1354.5,1291.4 1344.0,1291.4 1333.5,1291.4 1323.0,1291.4 1312.5,1291.4 1302.0,1291.4 1291.5,1291.4 1281.0,1291.4 1270.5,1291.4 1260.0,1291.4 1249.5,1291.4 1239.0,1291.4 1228.5,1291.4 1218.0,1291.4 1207.5,1291.4 1197.0,1291.4 1186.5,1291.4 1176.0,1291.4 1165.5,1291.4 1155.0,1291.4 1144.5,1291.4 1134.0,1291.4 1123.5,1291.4 1113.0,1291.4 1102.5,1291.4 1092.0,1291.4 1081.5,1291.4 1071.0,1291.4 1060.5,1291.4 1050.0,1291.4 1039.5,1291.4 1029.0,1291.4 1018.5,1291.4 1008.0,1291.4 997.5,1291.4 987.0,1291.4 976.5,1291.4 966.0,1291.4 955.5,1291.4 945.0,1291.4 934.5,1291.4 924.0,1291.4 913.5,1291.4 903.0,1291.4 892.5,1291.4 882.0,1291.4 871.5,1291.4 861.0,1291.4 850.5,1291.4 840.0,1291.4 829.5,1291.4 819.0,1291.4 808.5,1291.4 798.0,1291.4 787.5,1291.4 777.0,1291.4 766.5,1291.4 756.0,1291.4 745.5,1291.4 735.0,1291.4 724.5,1291.4 714.0,1291.4 703.5,1291.4 693.0,1291.4 682.5,1291.4 672.0,1291.4 661.5,1291.4 651.0,1291.4 640.5,1291.4 630.0,1291.4 619.5,1291.4 609.0,1291.4 598.5,1291.4 588.0,1291.4 577.5,1291.4 567.0,1291.4 556.5,1291.4 546.0,1291.4 535.5,1291.4 525.0,1291.4 514.5,1291.4 504.0,1291.4 493.5,1291.4 483.0,1291.4 472.5,1291.4 462.0,1291.4 451.5,1291.4 441.0,1291.4 430.5,1291.4 420.0,1291.4 409.5,1291.4 399.0,1291.4 388.5,1291.4 378.0,1291.4 367.5,1291.4 357.0,1291.4 346.5,1291.4 336.0,1291.4 325.5,1291.4 315.0,1291.4 304.5,1291.4" fill="#f9bbf1"/><polygon points="304.5,1291.4 315.0,1291.4 325.5,1291.4 336.0,1291.4 346.5,1291.4 357.0,1291.4 367.5,1291.4 378.0,1291.4 388.5,1291.4 399.0,1291.4 409.5,1291.4 420.0,1291.4 430.5,1291.4 441.0,1291.4 451.5,1291.4 462.0,1291.4 472.5,1291.4 483.0,1291.4 493.5,1291.4 504.0,1291.4 514.5,1291.4 525.0,1291.4 535.5,1291.4 546.0,1291.4 556.5,1291.4 567.0,1291.4 577.5,1291.4 588.0,1291.4 598.5,1291.4 609.0,1291.4 619.5,1291.4 630.0,1291.4 640.5,1291.4 651.0,1291.4 661.5,1291.4 672.0,1291.4 682.5,1291.4 693.0,1291.4 703.5,1291.4 714.0,1291.4 724.5,1291.4 735.0,1291.4 745.5,1291.4 756.0,1291.4 766.5,1291.4 777.0,1291.4 787.5,1291.4 798.0,1291.4 808.5,1291.4 819.0,1291.4 829.5,1291.4 840.0,1291.4 850.5,1291.4 861.0,1291.4 871.5,1291.4 882.0,1291.4 892.5,1291.4 903.0,1291.4 913.5,1291.4 924.0,1291.4 934.5,1291.4 945.0,1291.4 955.5,1291.4 966.0,1291.4 976.5,1291.4 987.0,1291.4 997.5,1291.4 1008.0,1291.4 1018.5,1291.4 1029.0,1291.4 1039.5,1291.4 1050.0,1291.1 1060.5,1290.0 1071.0,1287.0 1081.5,1285.5 1092.0,1286.4 1102.5,1287.3 1113.0,1288.5 1123.5,1287.0 1134.0,1285.3 1144.5,1284.4 1155.0,1283.0 1165.5,1284.6 1176.0,1285.9 1186.5,1288.6 1197.0,1287.6 1207.5,1283.5 1218.0,1284.0 1228.5,1285.3 1239.0,1286.1 1249.5,1287.5 1260.0,1288.2 1270.5,1287.9 1281.0,1284.8 1291.5,1283.4 1302.0,1284.4 1312.5,1285.7 1323.0,1286.8 1333.5,1289.5 1344.0,1288.5 1354.5,1287.7 1365.0,1288.5 1375.5,1288.5 1386.0,1289.0 1396.5,1289.8 1407.0,1290.6 1417.5,1290.3 1428.0,1289.9 1438.5,1290.0 1449.0,1289.8 1459.5,1289.6 1470.0,1290.0 1480.5,1290.5 1491.0,1290.0 1501.5,1288.2 1512.0,1288.0 1522.5,1287.3 1533.0,1287.5 1543.5,1288.1 1554.0,1289.2 1564.5,1288.1 1575.0,1285.0 1585.5,1283.1 1596.0,1283.4 1606.5,1283.3 1617.0,1284.8 1627.5,1286.4 1638.0,1285.6 1648.5,1279.9 1659.0,1278.8 1669.5,1279.7 1680.0,1282.2 1690.5,1284.6 1701.0,1288.4 1711.5,1286.5 1722.0,1284.0 1732.5,1284.2 1743.0,1283.5 1753.5,1285.3 1764.0,1285.5 1774.5,1288.2 1785.0,1286.0 1795.5,1283.6 1806.0,1283.3 1816.5,1283.7 1827.0,1283.8 1837.5,1286.0 1848.0,1288.4 1858.5,1286.0 1869.0,1282.9 1879.5,1283.4 1890.0,1284.6 1900.5,1286.0 1911.0,1285.3 1911.0,1288.3 1900.5,1288.7 1890.0,1288.0 1879.5,1287.4 1869.0,1287.1 1858.5,1288.7 1848.0,1289.9 1837.5,1288.7 1827.0,1287.6 1816.5,1287.6 1806.0,1287.3 1795.5,1287.5 1785.0,1288.7 1774.5,1289.8 1764.0,1288.5 1753.5,1288.4 1743.0,1287.4 1732.5,1287.8 1722.0,1287.7 1711.5,1288.9 1701.0,1289.8 1690.5,1287.6 1680.0,1286.1 1669.5,1284.5 1659.0,1283.8 1648.5,1284.6 1638.0,1288.0 1627.5,1288.6 1617.0,1287.7 1606.5,1287.0 1596.0,1287.3 1585.5,1287.2 1575.0,1287.9 1564.5,1289.4 1554.0,1289.9 1543.5,1289.0 1533.0,1288.1 1522.5,1287.3 1512.0,1288.0 1501.5,1288.2 1491.0,1290.0 1480.5,1290.5 1470.0,1290.0 1459.5,1289.6 1449.0,1289.8 1438.5,1290.0 1428.0,1290.2 1417.5,1290.7 1407.0,1291.1 1396.5,1290.9 1386.0,1290.8 1375.5,1291.0 1365.0,1291.2 1354.5,1291.4 1344.0,1291.4 1333.5,1291.4 1323.0,1291.4 1312.5,1291.4 1302.0,1291.4 1291.5,1291.4 1281.0,1291.4 1270.5,1291.4 1260.0,1291.4 1249.5,1291.4 1239.0,1291.4 1228.5,1291.4 1218.0,1291.4 1207.5,1291.4 1197.0,1290.5 1186.5,1290.1 1176.0,1287.9 1165.5,1285.7 1155.0,1283.0 1144.5,1284.4 1134.0,1285.3 1123.5,1287.0 1113.0,1288.5 1102.5,1287.3 1092.0,1286.4 1081.5,1285.5 1071.0,1287.0 1060.5,1290.0 1050.0,1291.1 1039.5,1291.4 1029.0,1291.4 1018.5,1291.4 1008.0,1291.4 997.5,1291.4 987.0,1291.4 976.5,1291.4 966.0,1291.4 955.5,1291.4 945.0,1291.4 934.5,1291.4 924.0,1291.4 913.5,1291.4 903.0,1291.4 892.5,1291.4 882.0,1291.4 871.5,1291.4 861.0,1291.4 850.5,1291.4 840.0,1291.4 829.5,1291.4 819.0,1291.4 808.5,1291.4 798.0,1291.4 787.5,1291.4 777.0,1291.4 766.5,1291.4 756.0,1291.4 745.5,1291.4 735.0,1291.4 724.5,1291.4 714.0,1291.4 703.5,1291.4 693.0,1291.4 682.5,1291.4 672.0,1291.4 661.5,1291.4 651.0,1291.4 640.5,1291.4 630.0,1291.4 619.5,1291.4 609.0,1291.4 598.5,1291.4 588.0,1291.4 577.5,1291.4 567.0,1291.4 556.5,1291.4 546.0,1291.4 535.5,1291.4 525.0,1291.4 514.5,1291.4 504.0,1291.4 493.5,1291.4 483.0,1291.4 472.5,1291.4 462.0,1291.4 451.5,1291.4 441.0,1291.4 430.5,1291.4 420.0,1291.4 409.5,1291.4 399.0,1291.4 388.5,1291.4 378.0,1291.4 367.5,1291.4 357.0,1291.4 346.5,1291.4 336.0,1291.4 325.5,1291.4 315.0,1291.4 304.5,1291.4" fill="#bb97f9"/><polygon points="304.5,1291.4 315.0,1291.4 325.5,1291.4 336.0,1291.4 346.5,1291.4 357.0,1291.4 367.5,1291.4 378.0,1291.4 388.5,1291.4 399.0,1291.4 409.5,1291.4 420.0,1291.4 430.5,1291.4 441.0,1291.4 451.5,1291.4 462.0,1291.4 472.5,1291.4 483.0,1291.4 493.5,1291.4 504.0,1291.4 514.5,1291.4 525.0,1291.4 535.5,1291.4 546.0,1291.4 556.5,1291.4 567.0,1291.4 577.5,1291.4 588.0,1291.4 598.5,1291.4 609.0,1291.4 619.5,1291.4 630.0,1291.4 640.5,1291.4 651.0,1291.4 661.5,1291.4 672.0,1291.4 682.5,1291.4 693.0,1291.4 703.5,1291.4 714.0,1291.4 724.5,1291.4 735.0,1291.4 745.5,1291.4 756.0,1291.4 766.5,1291.4 777.0,1291.4 787.5,1291.4 798.0,1291.4 808.5,1291.4 819.0,1291.4 829.5,1291.4 840.0,1291.4 850.5,1291.4 861.0,1291.4 871.5,1291.4 882.0,1291.4 892.5,1291.4 903.0,1291.4 913.5,1291.4 924.0,1291.4 934.5,1291.4 945.0,1287.3 955.5,1284.3 966.0,1287.7 976.5,1283.9 987.0,1280.6 997.5,1276.9 1008.0,1278.5 1018.5,1281.1 1029.0,1284.7 1039.5,1288.6 1050.0,1288.4 1060.5,1287.0 1071.0,1287.0 1081.5,1285.5 1092.0,1286.4 1102.5,1287.3 1113.0,1288.5 1123.5,1287.0 1134.0,1285.3 1144.5,1284.4 1155.0,1283.0 1165.5,1284.6 1176.0,1285.9 1186.5,1288.6 1197.0,1287.6 1207.5,1283.5 1218.0,1284.0 1228.5,1285.3 1239.0,1286.1 1249.5,1287.5 1260.0,1288.2 1270.5,1287.9 1281.0,1284.8 1291.5,1283.4 1302.0,1284.4 1312.5,1285.7 1323.0,1286.8 1333.5,1289.5 1344.0,1288.5 1354.5,1287.7 1365.0,1288.3 1375.5,1288.1 1386.0,1288.4 1396.5,1289.3 1407.0,1290.3 1417.5,1289.6 1428.0,1288.7 1438.5,1288.5 1449.0,1288.1 1459.5,1287.9 1470.0,1288.6 1480.5,1289.5 1491.0,1288.5 1501.5,1285.1 1512.0,1284.7 1522.5,1283.1 1533.0,1284.2 1543.5,1285.7 1554.0,1287.7 1564.5,1286.2 1575.0,1281.5 1585.5,1278.9 1596.0,1279.3 1606.5,1278.9 1617.0,1281.1 1627.5,1283.6 1638.0,1282.3 1648.5,1273.0 1659.0,1271.1 1669.5,1272.5 1680.0,1276.3 1690.5,1280.1 1701.0,1286.3 1711.5,1283.0 1722.0,1278.5 1732.5,1278.5 1743.0,1277.0 1753.5,1280.2 1764.0,1280.4 1774.5,1285.2 1785.0,1281.0 1795.5,1276.1 1806.0,1275.2 1816.5,1276.1 1827.0,1276.3 1837.5,1280.6 1848.0,1285.3 1858.5,1280.5 1869.0,1274.4 1879.5,1275.4 1890.0,1277.7 1900.5,1280.6 1911.0,1279.1 1911.0,1285.3 1900.5,1286.0 1890.0,1284.6 1879.5,1283.4 1869.0,1282.9 1858.5,1286.0 1848.0,1288.4 1837.5,1286.0 1827.0,1283.8 1816.5,1283.7 1806.0,1283.3 1795.5,1283.6 1785.0,1286.0 1774.5,1288.2 1764.0,1285.5 1753.5,1285.3 1743.0,1283.5 1732.5,1284.2 1722.0,1284.0 1711.5,1286.5 1701.0,1288.4 1690.5,1284.6 1680.0,1282.2 1669.5,1279.7 1659.0,1278.8 1648.5,1279.9 1638.0,1285.6 1627.5,1286.4 1617.0,1284.8 1606.5,1283.3 1596.0,1283.4 1585.5,1283.1 1575.0,1285.0 1564.5,1288.1 1554.0,1289.2 1543.5,1288.1 1533.0,1287.5 1522.5,1287.3 1512.0,1288.0 1501.5,1288.2 1491.0,1290.0 1480.5,1290.5 1470.0,1290.0 1459.5,1289.6 1449.0,1289.8 1438.5,1290.0 1428.0,1289.9 1417.5,1290.3 1407.0,1290.6 1396.5,1289.8 1386.0,1289.0 1375.5,1288.5 1365.0,1288.5 1354.5,1287.7 1344.0,1288.5 1333.5,1289.5 1323.0,1286.8 1312.5,1285.7 1302.0,1284.4 1291.5,1283.4 1281.0,1284.8 1270.5,1287.9 1260.0,1288.2 1249.5,1287.5 1239.0,1286.1 1228.5,1285.3 1218.0,1284.0 1207.5,1283.5 1197.0,1287.6 1186.5,1288.6 1176.0,1285.9 1165.5,1284.6 1155.0,1283.0 1144.5,1284.4 1134.0,1285.3 1123.5,1287.0 1113.0,1288.5 1102.5,1287.3 1092.0,1286.4 1081.5,1285.5 1071.0,1287.0 1060.5,1290.0 1050.0,1291.1 1039.5,1291.4 1029.0,1291.4 1018.5,1291.4 1008.0,1291.4 997.5,1291.4 987.0,1291.4 976.5,1291.4 966.0,1291.4 955.5,1291.4 945.0,1291.4 934.5,1291.4 924.0,1291.4 913.5,1291.4 903.0,1291.4 892.5,1291.4 882.0,1291.4 871.5,1291.4 861.0,1291.4 850.5,1291.4 840.0,1291.4 829.5,1291.4 819.0,1291.4 808.5,1291.4 798.0,1291.4 787.5,1291.4 777.0,1291.4 766.5,1291.4 756.0,1291.4 745.5,1291.4 735.0,1291.4 724.5,1291.4 714.0,1291.4 703.5,1291.4 693.0,1291.4 682.5,1291.4 672.0,1291.4 661.5,1291.4 651.0,1291.4 640.5,1291.4 630.0,1291.4 619.5,1291.4 609.0,1291.4 598.5,1291.4 588.0,1291.4 577.5,1291.4 567.0,1291.4 556.5,1291.4 546.0,1291.4 535.5,1291.4 525.0,1291.4 514.5,1291.4 504.0,1291.4 493.5,1291.4 483.0,1291.4 472.5,1291.4 462.0,1291.4 451.5,1291.4 441.0,1291.4 430.5,1291.4 420.0,1291.4 409.5,1291.4 399.0,1291.4 388.5,1291.4 378.0,1291.4 367.5,1291.4 357.0,1291.4 346.5,1291.4 336.0,1291.4 325.5,1291.4 315.0,1291.4 304.5,1291.4" fill="#ff9b86"/><polygon points="304.5,1291.4 315.0,1291.4 325.5,1291.4 336.0,1291.4 346.5,1291.4 357.0,1291.4 367.5,1291.4 378.0,1291.4 388.5,1291.4 399.0,1291.4 409.5,1291.4 420.0,1291.4 430.5,1291.4 441.0,1291.4 451.5,1291.4 462.0,1291.4 472.5,1291.4 483.0,1291.4 493.5,1291.4 504.0,1291.4 514.5,1291.4 525.0,1291.4 535.5,1291.4 546.0,1291.4 556.5,1291.4 567.0,1291.4 577.5,1291.4 588.0,1291.4 598.5,1291.4 609.0,1291.4 619.5,1291.4 630.0,1291.4 640.5,1291.4 651.0,1291.4 661.5,1291.4 672.0,1291.4 682.5,1291.4 693.0,1291.4 703.5,1291.4 714.0,1291.4 724.5,1291.4 735.0,1291.4 745.5,1291.4 756.0,1291.4 766.5,1291.4 777.0,1291.4 787.5,1291.4 798.0,1291.3 808.5,1291.3 819.0,1291.3 829.5,1291.2 840.0,1290.8 850.5,1290.6 861.0,1290.4 871.5,1290.1 882.0,1290.2 892.5,1290.7 903.0,1290.0 913.5,1288.6 924.0,1288.7 934.5,1288.1 945.0,1285.0 955.5,1282.9 966.0,1287.0 976.5,1282.5 987.0,1278.6 997.5,1274.3 1008.0,1276.1 1018.5,1279.0 1029.0,1283.8 1039.5,1288.6 1050.0,1288.2 1060.5,1286.3 1071.0,1284.8 1081.5,1282.6 1092.0,1283.9 1102.5,1285.4 1113.0,1287.2 1123.5,1285.2 1134.0,1283.0 1144.5,1281.9 1155.0,1280.2 1165.5,1282.7 1176.0,1284.8 1186.5,1288.1 1197.0,1287.3 1207.5,1283.5 1218.0,1284.0 1228.5,1285.3 1239.0,1286.1 1249.5,1287.5 1260.0,1287.8 1270.5,1286.9 1281.0,1281.8 1291.5,1278.6 1302.0,1279.7 1312.5,1281.5 1323.0,1282.8 1333.5,1287.6 1344.0,1285.1 1354.5,1282.2 1365.0,1283.8 1375.5,1283.6 1386.0,1284.5 1396.5,1286.6 1407.0,1289.0 1417.5,1287.7 1428.0,1285.8 1438.5,1285.7 1449.0,1284.8 1459.5,1284.3 1470.0,1285.8 1480.5,1287.6 1491.0,1285.7 1501.5,1278.7 1512.0,1278.0 1522.5,1274.8 1533.0,1277.5 1543.5,1280.8 1554.0,1284.7 1564.5,1282.3 1575.0,1274.5 1585.5,1270.6 1596.0,1271.9 1606.5,1272.0 1617.0,1275.8 1627.5,1280.0 1638.0,1278.3 1648.5,1265.6 1659.0,1263.5 1669.5,1265.2 1680.0,1270.4 1690.5,1275.6 1701.0,1284.3 1711.5,1279.6 1722.0,1272.9 1732.5,1273.1 1743.0,1271.1 1753.5,1275.7 1764.0,1276.0 1774.5,1282.8 1785.0,1276.9 1795.5,1270.3 1806.0,1269.1 1816.5,1270.3 1827.0,1270.6 1837.5,1276.6 1848.0,1283.0 1858.5,1276.5 1869.0,1268.0 1879.5,1269.5 1890.0,1272.6 1900.5,1276.6 1911.0,1274.5 1911.0,1279.1 1900.5,1280.6 1890.0,1277.7 1879.5,1275.4 1869.0,1274.4 1858.5,1280.5 1848.0,1285.3 1837.5,1280.6 1827.0,1276.3 1816.5,1276.1 1806.0,1275.2 1795.5,1276.1 1785.0,1281.0 1774.5,1285.2 1764.0,1280.4 1753.5,1280.2 1743.0,1277.0 1732.5,1278.5 1722.0,1278.5 1711.5,1283.0 1701.0,1286.3 1690.5,1280.1 1680.0,1276.3 1669.5,1272.5 1659.0,1271.1 1648.5,1273.0 1638.0,1282.3 1627.5,1283.6 1617.0,1281.1 1606.5,1278.9 1596.0,1279.3 1585.5,1278.9 1575.0,1281.5 1564.5,1286.2 1554.0,1287.7 1543.5,1285.7 1533.0,1284.2 1522.5,1283.1 1512.0,1284.7 1501.5,1285.1 1491.0,1288.5 1480.5,1289.5 1470.0,1288.6 1459.5,1287.9 1449.0,1288.1 1438.5,1288.5 1428.0,1288.7 1417.5,1289.6 1407.0,1290.3 1396.5,1289.3 1386.0,1288.4 1375.5,1288.1 1365.0,1288.3 1354.5,1287.7 1344.0,1288.5 1333.5,1289.5 1323.0,1286.8 1312.5,1285.7 1302.0,1284.4 1291.5,1283.4 1281.0,1284.8 1270.5,1287.9 1260.0,1288.2 1249.5,1287.5 1239.0,1286.1 1228.5,1285.3 1218.0,1284.0 1207.5,1283.5 1197.0,1287.6 1186.5,1288.6 1176.0,1285.9 1165.5,1284.6 1155.0,1283.0 1144.5,1284.4 1134.0,1285.3 1123.5,1287.0 1113.0,1288.5 1102.5,1287.3 1092.0,1286.4 1081.5,1285.5 1071.0,1287.0 1060.5,1287.0 1050.0,1288.4 1039.5,1288.6 1029.0,1284.7 1018.5,1281.1 1008.0,1278.5 997.5,1276.9 987.0,1280.6 976.5,1283.9 966.0,1287.7 955.5,1284.3 945.0,1287.3 934.5,1291.4 924.0,1291.4 913.5,1291.4 903.0,1291.4 892.5,1291.4 882.0,1291.4 871.5,1291.4 861.0,1291.4 850.5,1291.4 840.0,1291.4 829.5,1291.4 819.0,1291.4 808.5,1291.4 798.0,1291.4 787.5,1291.4 777.0,1291.4 766.5,1291.4 756.0,1291.4 745.5,1291.4 735.0,1291.4 724.5,1291.4 714.0,1291.4 703.5,1291.4 693.0,1291.4 682.5,1291.4 672.0,1291.4 661.5,1291.4 651.0,1291.4 640.5,1291.4 630.0,1291.4 619.5,1291.4 609.0,1291.4 598.5,1291.4 588.0,1291.4 577.5,1291.4 567.0,1291.4 556.5,1291.4 546.0,1291.4 535.5,1291.4 525.0,1291.4 514.5,1291.4 504.0,1291.4 493.5,1291.4 483.0,1291.4 472.5,1291.4 462.0,1291.4 451.5,1291.4 441.0,1291.4 430.5,1291.4 420.0,1291.4 409.5,1291.4 399.0,1291.4 388.5,1291.4 378.0,1291.4 367.5,1291.4 357.0,1291.4 346.5,1291.4 336.0,1291.4 325.5,1291.4 315.0,1291.4 304.5,1291.4" fill="#8fdedf"/><polygon points="304.5,1291.4 315.0,1291.4 325.5,1291.4 336.0,1291.4 346.5,1291.4 357.0,1291.4 367.5,1291.4 378.0,1291.4 388.5,1291.4 399.0,1291.4 409.5,1291.4 420.0,1291.4 430.5,1291.4 441.0,1291.4 451.5,1291.4 462.0,1291.4 472.5,1291.4 483.0,1291.4 493.5,1291.4 504.0,1291.4 514.5,1291.4 525.0,1291.4 535.5,1291.4 546.0,1291.4 556.5,1291.4 567.0,1291.4 577.5,1291.4 588.0,1291.4 598.5,1291.4 609.0,1291.4 619.5,1291.4 630.0,1291.4 640.5,1291.4 651.0,1291.4 661.5,1291.4 672.0,1291.4 682.5,1291.4 693.0,1291.4 703.5,1291.4 714.0,1291.4 724.5,1291.4 735.0,1291.4 745.5,1291.4 756.0,1291.4 766.5,1291.4 777.0,1291.4 787.5,1291.4 798.0,1291.3 808.5,1291.3 819.0,1291.3 829.5,1291.2 840.0,1290.8 850.5,1290.6 861.0,1290.4 871.5,1290.1 882.0,1290.2 892.5,1290.7 903.0,1290.0 913.5,1288.6 924.0,1288.7 934.5,1288.1 945.0,1285.0 955.5,1282.9 966.0,1287.0 976.5,1282.5 987.0,1278.6 997.5,1274.3 1008.0,1276.1 1018.5,1279.0 1029.0,1283.8 1039.5,1288.6 1050.0,1287.8 1060.5,1284.9 1071.0,1280.5 1081.5,1277.7 1092.0,1280.1 1102.5,1282.5 1113.0,1285.3 1123.5,1282.5 1134.0,1279.6 1144.5,1278.2 1155.0,1276.0 1165.5,1279.4 1176.0,1282.2 1186.5,1286.9 1197.0,1285.6 1207.5,1280.3 1218.0,1280.7 1228.5,1282.2 1239.0,1283.2 1249.5,1285.2 1260.0,1285.8 1270.5,1284.8 1281.0,1277.8 1291.5,1273.9 1302.0,1275.0 1312.5,1277.2 1323.0,1278.9 1333.5,1285.8 1344.0,1281.6 1354.5,1276.7 1365.0,1279.3 1375.5,1279.2 1386.0,1280.6 1396.5,1283.9 1407.0,1287.7 1417.5,1285.7 1428.0,1282.9 1438.5,1282.8 1449.0,1281.4 1459.5,1280.4 1470.0,1282.6 1480.5,1285.4 1491.0,1282.2 1501.5,1271.0 1512.0,1269.7 1522.5,1264.5 1533.0,1268.9 1543.5,1274.2 1554.0,1280.6 1564.5,1276.7 1575.0,1264.3 1585.5,1258.2 1596.0,1260.1 1606.5,1260.1 1617.0,1266.2 1627.5,1272.9 1638.0,1270.1 1648.5,1249.4 1659.0,1245.8 1669.5,1248.8 1680.0,1257.3 1690.5,1265.8 1701.0,1279.9 1711.5,1272.4 1722.0,1261.8 1732.5,1262.3 1743.0,1259.2 1753.5,1266.6 1764.0,1267.1 1774.5,1277.9 1785.0,1268.8 1795.5,1258.7 1806.0,1256.9 1816.5,1258.9 1827.0,1259.3 1837.5,1268.5 1848.0,1278.5 1858.5,1268.3 1869.0,1255.2 1879.5,1257.0 1890.0,1261.5 1900.5,1267.4 1911.0,1263.8 1911.0,1274.5 1900.5,1276.6 1890.0,1272.6 1879.5,1269.5 1869.0,1268.0 1858.5,1276.5 1848.0,1283.0 1837.5,1276.6 1827.0,1270.6 1816.5,1270.3 1806.0,1269.1 1795.5,1270.3 1785.0,1276.9 1774.5,1282.8 1764.0,1276.0 1753.5,1275.7 1743.0,1271.1 1732.5,1273.1 1722.0,1272.9 1711.5,1279.6 1701.0,1284.3 1690.5,1275.6 1680.0,1270.4 1669.5,1265.2 1659.0,1263.5 1648.5,1265.6 1638.0,1278.3 1627.5,1280.0 1617.0,1275.8 1606.5,1272.0 1596.0,1271.9 1585.5,1270.6 1575.0,1274.5 1564.5,1282.3 1554.0,1284.7 1543.5,1280.8 1533.0,1277.5 1522.5,1274.8 1512.0,1278.0 1501.5,1278.7 1491.0,1285.7 1480.5,1287.6 1470.0,1285.8 1459.5,1284.3 1449.0,1284.8 1438.5,1285.7 1428.0,1285.8 1417.5,1287.7 1407.0,1289.0 1396.5,1286.6 1386.0,1284.5 1375.5,1283.6 1365.0,1283.8 1354.5,1282.2 1344.0,1285.1 1333.5,1287.6 1323.0,1282.8 1312.5,1281.5 1302.0,1279.7 1291.5,1278.6 1281.0,1281.8 1270.5,1286.9 1260.0,1287.8 1249.5,1287.5 1239.0,1286.1 1228.5,1285.3 1218.0,1284.0 1207.5,1283.5 1197.0,1287.3 1186.5,1288.1 1176.0,1284.8 1165.5,1282.7 1155.0,1280.2 1144.5,1281.9 1134.0,1283.0 1123.5,1285.2 1113.0,1287.2 1102.5,1285.4 1092.0,1283.9 1081.5,1282.6 1071.0,1284.8 1060.5,1286.3 1050.0,1288.2 1039.5,1288.6 1029.0,1283.8 1018.5,1279.0 1008.0,1276.1 997.5,1274.3 987.0,1278.6 976.5,1282.5 966.0,1287.0 955.5,1282.9 945.0,1285.0 934.5,1288.1 924.0,1288.7 913.5,1288.6 903.0,1290.0 892.5,1290.7 882.0,1290.2 871.5,1290.1 861.0,1290.4 850.5,1290.6 840.0,1290.8 829.5,1291.2 819.0,1291.3 808.5,1291.3 798.0,1291.3 787.5,1291.4 777.0,1291.4 766.5,1291.4 756.0,1291.4 745.5,1291.4 735.0,1291.4 724.5,1291.4 714.0,1291.4 703.5,1291.4 693.0,1291.4 682.5,1291.4 672.0,1291.4 661.5,1291.4 651.0,1291.4 640.5,1291.4 630.0,1291.4 619.5,1291.4 609.0,1291.4 598.5,1291.4 588.0,1291.4 577.5,1291.4 567.0,1291.4 556.5,1291.4 546.0,1291.4 535.5,1291.4 525.0,1291.4 514.5,1291.4 504.0,1291.4 493.5,1291.4 483.0,1291.4 472.5,1291.4 462.0,1291.4 451.5,1291.4 441.0,1291.4 430.5,1291.4 420.0,1291.4 409.5,1291.4 399.0,1291.4 388.5,1291.4 378.0,1291.4 367.5,1291.4 357.0,1291.4 346.5,1291.4 336.0,1291.4 325.5,1291.4 315.0,1291.4 304.5,1291.4" fill="#a05ec5"/><polygon points="304.5,1291.4 315.0,1291.4 325.5,1291.4 336.0,1291.4 346.5,1291.4 357.0,1291.4 367.5,1291.4 378.0,1291.4 388.5,1291.4 399.0,1291.4 409.5,1291.4 420.0,1291.4 430.5,1291.4 441.0,1291.4 451.5,1291.4 462.0,1291.4 472.5,1291.4 483.0,1291.4 493.5,1291.4 504.0,1291.4 514.5,1291.4 525.0,1291.4 535.5,1291.4 546.0,1291.4 556.5,1291.4 567.0,1291.4 577.5,1291.4 588.0,1291.4 598.5,1291.4 609.0,1289.9 619.5,1284.7 630.0,1283.4 640.5,1278.4 651.0,1282.6 661.5,1284.7 672.0,1288.2 682.5,1287.9 693.0,1284.7 703.5,1286.1 714.0,1287.0 724.5,1288.4 735.0,1289.3 745.5,1290.5 756.0,1290.4 766.5,1289.4 777.0,1289.8 787.5,1290.3 798.0,1290.6 808.5,1290.5 819.0,1290.9 829.5,1290.7 840.0,1290.0 850.5,1289.9 861.0,1289.6 871.5,1289.2 882.0,1289.6 892.5,1290.4 903.0,1289.4 913.5,1287.4 924.0,1287.6 934.5,1286.8 945.0,1283.9 955.5,1281.9 966.0,1286.4 976.5,1281.3 987.0,1276.8 997.5,1271.8 1008.0,1273.7 1018.5,1276.9 1029.0,1281.8 1039.5,1287.2 1050.0,1286.3 1060.5,1282.7 1071.0,1278.3 1081.5,1274.7 1092.0,1277.6 1102.5,1280.6 1113.0,1284.0 1123.5,1280.8 1134.0,1277.3 1144.5,1275.7 1155.0,1273.2 1165.5,1277.5 1176.0,1281.1 1186.5,1286.5 1197.0,1285.3 1207.5,1280.3 1218.0,1279.9 1228.5,1281.0 1239.0,1281.6 1249.5,1283.7 1260.0,1284.4 1270.5,1283.1 1281.0,1274.2 1291.5,1269.1 1302.0,1270.3 1312.5,1272.9 1323.0,1274.9 1333.5,1283.9 1344.0,1278.2 1354.5,1271.1 1365.0,1274.9 1375.5,1274.7 1386.0,1276.7 1396.5,1281.2 1407.0,1286.4 1417.5,1283.7 1428.0,1280.1 1438.5,1280.0 1449.0,1278.3 1459.5,1277.2 1470.0,1280.2 1480.5,1283.8 1491.0,1279.9 1501.5,1266.1 1512.0,1264.6 1522.5,1258.3 1533.0,1263.9 1543.5,1270.6 1554.0,1278.4 1564.5,1273.8 1575.0,1259.1 1585.5,1251.9 1596.0,1254.7 1606.5,1255.1 1617.0,1262.4 1627.5,1270.3 1638.0,1267.4 1648.5,1244.4 1659.0,1240.8 1669.5,1243.7 1680.0,1252.8 1690.5,1262.1 1701.0,1278.1 1711.5,1269.1 1722.0,1256.3 1732.5,1256.8 1743.0,1253.3 1753.5,1262.1 1764.0,1262.7 1774.5,1275.5 1785.0,1264.8 1795.5,1252.8 1806.0,1250.8 1816.5,1252.8 1827.0,1253.0 1837.5,1263.7 1848.0,1275.7 1858.5,1263.1 1869.0,1246.6 1879.5,1249.0 1890.0,1254.6 1900.5,1262.1 1911.0,1257.6 1911.0,1263.8 1900.5,1267.4 1890.0,1261.5 1879.5,1257.0 1869.0,1255.2 1858.5,1268.3 1848.0,1278.5 1837.5,1268.5 1827.0,1259.3 1816.5,1258.9 1806.0,1256.9 1795.5,1258.7 1785.0,1268.8 1774.5,1277.9 1764.0,1267.1 1753.5,1266.6 1743.0,1259.2 1732.5,1262.3 1722.0,1261.8 1711.5,1272.4 1701.0,1279.9 1690.5,1265.8 1680.0,1257.3 1669.5,1248.8 1659.0,1245.8 1648.5,1249.4 1638.0,1270.1 1627.5,1272.9 1617.0,1266.2 1606.5,1260.1 1596.0,1260.1 1585.5,1258.2 1575.0,1264.3 1564.5,1276.7 1554.0,1280.6 1543.5,1274.2 1533.0,1268.9 1522.5,1264.5 1512.0,1269.7 1501.5,1271.0 1491.0,1282.2 1480.5,1285.4 1470.0,1282.6 1459.5,1280.4 1449.0,1281.4 1438.5,1282.8 1428.0,1282.9 1417.5,1285.7 1407.0,1287.7 1396.5,1283.9 1386.0,1280.6 1375.5,1279.2 1365.0,1279.3 1354.5,1276.7 1344.0,1281.6 1333.5,1285.8 1323.0,1278.9 1312.5,1277.2 1302.0,1275.0 1291.5,1273.9 1281.0,1277.8 1270.5,1284.8 1260.0,1285.8 1249.5,1285.2 1239.0,1283.2 1228.5,1282.2 1218.0,1280.7 1207.5,1280.3 1197.0,1285.6 1186.5,1286.9 1176.0,1282.2 1165.5,1279.4 1155.0,1276.0 1144.5,1278.2 1134.0,1279.6 1123.5,1282.5 1113.0,1285.3 1102.5,1282.5 1092.0,1280.1 1081.5,1277.7 1071.0,1280.5 1060.5,1284.9 1050.0,1287.8 1039.5,1288.6 1029.0,1283.8 1018.5,1279.0 1008.0,1276.1 997.5,1274.3 987.0,1278.6 976.5,1282.5 966.0,1287.0 955.5,1282.9 945.0,1285.0 934.5,1288.1 924.0,1288.7 913.5,1288.6 903.0,1290.0 892.5,1290.7 882.0,1290.2 871.5,1290.1 861.0,1290.4 850.5,1290.6 840.0,1290.8 829.5,1291.2 819.0,1291.3 808.5,1291.3 798.0,1291.3 787.5,1291.4 777.0,1291.4 766.5,1291.4 756.0,1291.4 745.5,1291.4 735.0,1291.4 724.5,1291.4 714.0,1291.4 703.5,1291.4 693.0,1291.4 682.5,1291.4 672.0,1291.4 661.5,1291.4 651.0,1291.4 640.5,1291.4 630.0,1291.4 619.5,1291.4 609.0,1291.4 598.5,1291.4 588.0,1291.4 577.5,1291.4 567.0,1291.4 556.5,1291.4 546.0,1291.4 535.5,1291.4 525.0,1291.4 514.5,1291.4 504.0,1291.4 493.5,1291.4 483.0,1291.4 472.5,1291.4 462.0,1291.4 451.5,1291.4 441.0,1291.4 430.5,1291.4 420.0,1291.4 409.5,1291.4 399.0,1291.4 388.5,1291.4 378.0,1291.4 367.5,1291.4 357.0,1291.4 346.5,1291.4 336.0,1291.4 325.5,1291.4 315.0,1291.4 304.5,1291.4" fill="#b1ce6c"/><polygon points="304.5,1291.4 315.0,1291.4 325.5,1291.4 336.0,1291.4 346.5,1291.4 357.0,1291.4 367.5,1288.4 378.0,1289.4 388.5,1287.3 399.0,1283.0 409.5,1282.7 420.0,1284.7 430.5,1282.9 441.0,1281.6 451.5,1287.3 462.0,1287.2 472.5,1279.8 483.0,1280.3 493.5,1278.1 504.0,1281.0 514.5,1286.1 525.0,1287.6 535.5,1287.3 546.0,1282.9 556.5,1283.9 567.0,1283.2 577.5,1283.6 588.0,1284.2 598.5,1288.3 609.0,1287.0 619.5,1282.0 630.0,1281.0 640.5,1275.8 651.0,1280.4 661.5,1282.7 672.0,1287.1 682.5,1286.3 693.0,1281.3 703.5,1283.1 714.0,1284.2 724.5,1286.2 735.0,1287.5 745.5,1289.6 756.0,1289.4 766.5,1287.4 777.0,1288.2 787.5,1289.2 798.0,1289.8 808.5,1289.6 819.0,1290.4 829.5,1290.0 840.0,1288.5 850.5,1288.4 861.0,1288.1 871.5,1287.8 882.0,1288.5 892.5,1289.8 903.0,1288.4 913.5,1285.5 924.0,1285.9 934.5,1284.8 945.0,1282.3 955.5,1280.5 966.0,1285.7 976.5,1279.9 987.0,1274.8 997.5,1269.2 1008.0,1271.3 1018.5,1274.9 1029.0,1279.8 1039.5,1285.8 1050.0,1284.6 1060.5,1279.8 1071.0,1273.9 1081.5,1269.8 1092.0,1273.8 1102.5,1277.9 1113.0,1282.4 1123.5,1278.6 1134.0,1274.6 1144.5,1273.0 1155.0,1270.4 1165.5,1275.4 1176.0,1279.5 1186.5,1285.7 1197.0,1284.5 1207.5,1278.7 1218.0,1278.1 1228.5,1279.1 1239.0,1279.7 1249.5,1282.1 1260.0,1283.1 1270.5,1281.7 1281.0,1271.6 1291.5,1265.9 1302.0,1267.1 1312.5,1270.1 1323.0,1272.3 1333.5,1282.6 1344.0,1275.9 1354.5,1267.4 1365.0,1271.8 1375.5,1271.4 1386.0,1273.8 1396.5,1279.0 1407.0,1285.2 1417.5,1281.9 1428.0,1277.4 1438.5,1277.1 1449.0,1275.4 1459.5,1274.4 1470.0,1278.2 1480.5,1282.6 1491.0,1278.2 1501.5,1262.4 1512.0,1261.0 1522.5,1254.1 1533.0,1260.6 1543.5,1268.1 1554.0,1276.9 1564.5,1271.8 1575.0,1255.6 1585.5,1247.8 1596.0,1250.9 1606.5,1251.3 1617.0,1259.5 1627.5,1268.1 1638.0,1264.9 1648.5,1239.7 1659.0,1235.8 1669.5,1238.9 1680.0,1248.9 1690.5,1259.1 1701.0,1276.7 1711.5,1266.8 1722.0,1252.6 1732.5,1253.2 1743.0,1249.3 1753.5,1259.0 1764.0,1259.8 1774.5,1273.9 1785.0,1262.1 1795.5,1249.0 1806.0,1246.7 1816.5,1249.0 1827.0,1249.2 1837.5,1261.1 1848.0,1274.1 1858.5,1260.4 1869.0,1242.4 1879.5,1245.0 1890.0,1251.2 1900.5,1259.4 1911.0,1254.6 1911.0,1257.6 1900.5,1262.1 1890.0,1254.6 1879.5,1249.0 1869.0,1246.6 1858.5,1263.1 1848.0,1275.7 1837.5,1263.7 1827.0,1253.0 1816.5,1252.8 1806.0,1250.8 1795.5,1252.8 1785.0,1264.8 1774.5,1275.5 1764.0,1262.7 1753.5,1262.1 1743.0,1253.3 1732.5,1256.8 1722.0,1256.3 1711.5,1269.1 1701.0,1278.1 1690.5,1262.1 1680.0,1252.8 1669.5,1243.7 1659.0,1240.8 1648.5,1244.4 1638.0,1267.4 1627.5,1270.3 1617.0,1262.4 1606.5,1255.1 1596.0,1254.7 1585.5,1251.9 1575.0,1259.1 1564.5,1273.8 1554.0,1278.4 1543.5,1270.6 1533.0,1263.9 1522.5,1258.3 1512.0,1264.6 1501.5,1266.1 1491.0,1279.9 1480.5,1283.8 1470.0,1280.2 1459.5,1277.2 1449.0,1278.3 1438.5,1280.0 1428.0,1280.1 1417.5,1283.7 1407.0,1286.4 1396.5,1281.2 1386.0,1276.7 1375.5,1274.7 1365.0,1274.9 1354.5,1271.1 1344.0,1278.2 1333.5,1283.9 1323.0,1274.9 1312.5,1272.9 1302.0,1270.3 1291.5,1269.1 1281.0,1274.2 1270.5,1283.1 1260.0,1284.4 1249.5,1283.7 1239.0,1281.6 1228.5,1281.0 1218.0,1279.9 1207.5,1280.3 1197.0,1285.3 1186.5,1286.5 1176.0,1281.1 1165.5,1277.5 1155.0,1273.2 1144.5,1275.7 1134.0,1277.3 1123.5,1280.8 1113.0,1284.0 1102.5,1280.6 1092.0,1277.6 1081.5,1274.7 1071.0,1278.3 1060.5,1282.7 1050.0,1286.3 1039.5,1287.2 1029.0,1281.8 1018.5,1276.9 1008.0,1273.7 997.5,1271.8 987.0,1276.8 976.5,1281.3 966.0,1286.4 955.5,1281.9 945.0,1283.9 934.5,1286.8 924.0,1287.6 913.5,1287.4 903.0,1289.4 892.5,1290.4 882.0,1289.6 871.5,1289.2 861.0,1289.6 850.5,1289.9 840.0,1290.0 829.5,1290.7 819.0,1290.9 808.5,1290.5 798.0,1290.6 787.5,1290.3 777.0,1289.8 766.5,1289.4 756.0,1290.4 745.5,1290.5 735.0,1289.3 724.5,1288.4 714.0,1287.0 703.5,1286.1 693.0,1284.7 682.5,1287.9 672.0,1288.2 661.5,1284.7 651.0,1282.6 640.5,1278.4 630.0,1283.4 619.5,1284.7 609.0,1289.9 598.5,1291.4 588.0,1291.4 577.5,1291.4 567.0,1291.4 556.5,1291.4 546.0,1291.4 535.5,1291.4 525.0,1291.4 514.5,1291.4 504.0,1291.4 493.5,1291.4 483.0,1291.4 472.5,1291.4 462.0,1291.4 451.5,1291.4 441.0,1291.4 430.5,1291.4 420.0,1291.4 409.5,1291.4 399.0,1291.4 388.5,1291.4 378.0,1291.4 367.5,1291.4 357.0,1291.4 346.5,1291.4 336.0,1291.4 325.5,1291.4 315.0,1291.4 304.5,1291.4" fill="#669de9"/><polygon points="304.5,1291.4 315.0,1291.4 325.5,1291.4 336.0,1291.4 346.5,1291.4 357.0,1291.4 367.5,1288.4 378.0,1289.4 388.5,1287.3 399.0,1283.0 409.5,1282.7 420.0,1284.7 430.5,1282.9 441.0,1281.6 451.5,1286.5 462.0,1285.5 472.5,1272.7 483.0,1270.7 493.5,1263.0 504.0,1269.0 514.5,1279.7 525.0,1283.0 535.5,1281.9 546.0,1271.3 556.5,1273.7 567.0,1272.2 577.5,1273.1 588.0,1274.6 598.5,1284.1 609.0,1282.2 619.5,1273.9 630.0,1272.6 640.5,1264.1 651.0,1272.4 661.5,1276.5 672.0,1284.0 682.5,1282.9 693.0,1274.6 703.5,1277.1 714.0,1278.6 724.5,1281.7 735.0,1283.9 745.5,1287.8 756.0,1287.4 766.5,1283.5 777.0,1285.1 787.5,1287.1 798.0,1288.2 808.5,1287.8 819.0,1289.4 829.5,1288.5 840.0,1285.7 850.5,1285.4 861.0,1285.4 871.5,1285.1 882.0,1286.6 892.5,1288.9 903.0,1286.8 913.5,1282.7 924.0,1283.5 934.5,1282.2 945.0,1280.4 955.5,1279.1 966.0,1285.0 976.5,1278.5 987.0,1272.8 997.5,1266.7 1008.0,1268.9 1018.5,1272.8 1029.0,1277.4 1039.5,1284.1 1050.0,1282.6 1060.5,1276.5 1071.0,1269.5 1081.5,1265.9 1092.0,1271.3 1102.5,1276.0 1113.0,1281.1 1123.5,1276.8 1134.0,1272.3 1144.5,1270.5 1155.0,1267.6 1165.5,1273.0 1176.0,1277.5 1186.5,1284.7 1197.0,1283.0 1207.5,1275.6 1218.0,1275.1 1228.5,1276.7 1239.0,1277.6 1249.5,1280.6 1260.0,1281.7 1270.5,1280.0 1281.0,1267.9 1291.5,1261.1 1302.0,1262.4 1312.5,1265.8 1323.0,1268.4 1333.5,1280.7 1344.0,1272.4 1354.5,1261.9 1365.0,1267.3 1375.5,1266.9 1386.0,1269.9 1396.5,1276.4 1407.0,1283.9 1417.5,1279.9 1428.0,1274.5 1438.5,1274.2 1449.0,1272.1 1459.5,1270.8 1470.0,1275.4 1480.5,1280.7 1491.0,1275.3 1501.5,1256.1 1512.0,1254.3 1522.5,1245.8 1533.0,1253.9 1543.5,1263.2 1554.0,1273.9 1564.5,1267.9 1575.0,1248.6 1585.5,1239.5 1596.0,1243.5 1606.5,1244.4 1617.0,1254.2 1627.5,1264.5 1638.0,1261.0 1648.5,1232.3 1659.0,1228.2 1669.5,1231.3 1680.0,1242.5 1690.5,1253.9 1701.0,1274.2 1711.5,1262.4 1722.0,1245.2 1732.5,1246.2 1743.0,1241.9 1753.5,1253.6 1764.0,1254.7 1774.5,1271.1 1785.0,1257.7 1795.5,1242.9 1806.0,1240.7 1816.5,1242.9 1827.0,1242.9 1837.5,1256.3 1848.0,1271.4 1858.5,1255.2 1869.0,1233.9 1879.5,1237.0 1890.0,1244.4 1900.5,1254.0 1911.0,1248.4 1911.0,1254.6 1900.5,1259.4 1890.0,1251.2 1879.5,1245.0 1869.0,1242.4 1858.5,1260.4 1848.0,1274.1 1837.5,1261.1 1827.0,1249.2 1816.5,1249.0 1806.0,1246.7 1795.5,1249.0 1785.0,1262.1 1774.5,1273.9 1764.0,1259.8 1753.5,1259.0 1743.0,1249.3 1732.5,1253.2 1722.0,1252.6 1711.5,1266.8 1701.0,1276.7 1690.5,1259.1 1680.0,1248.9 1669.5,1238.9 1659.0,1235.8 1648.5,1239.7 1638.0,1264.9 1627.5,1268.1 1617.0,1259.5 1606.5,1251.3 1596.0,1250.9 1585.5,1247.8 1575.0,1255.6 1564.5,1271.8 1554.0,1276.9 1543.5,1268.1 1533.0,1260.6 1522.5,1254.1 1512.0,1261.0 1501.5,1262.4 1491.0,1278.2 1480.5,1282.6 1470.0,1278.2 1459.5,1274.4 1449.0,1275.4 1438.5,1277.1 1428.0,1277.4 1417.5,1281.9 1407.0,1285.2 1396.5,1279.0 1386.0,1273.8 1375.5,1271.4 1365.0,1271.8 1354.5,1267.4 1344.0,1275.9 1333.5,1282.6 1323.0,1272.3 1312.5,1270.1 1302.0,1267.1 1291.5,1265.9 1281.0,1271.6 1270.5,1281.7 1260.0,1283.1 1249.5,1282.1 1239.0,1279.7 1228.5,1279.1 1218.0,1278.1 1207.5,1278.7 1197.0,1284.5 1186.5,1285.7 1176.0,1279.5 1165.5,1275.4 1155.0,1270.4 1144.5,1273.0 1134.0,1274.6 1123.5,1278.6 1113.0,1282.4 1102.5,1277.9 1092.0,1273.8 1081.5,1269.8 1071.0,1273.9 1060.5,1279.8 1050.0,1284.6 1039.5,1285.8 1029.0,1279.8 1018.5,1274.9 1008.0,1271.3 997.5,1269.2 987.0,1274.8 976.5,1279.9 966.0,1285.7 955.5,1280.5 945.0,1282.3 934.5,1284.8 924.0,1285.9 913.5,1285.5 903.0,1288.4 892.5,1289.8 882.0,1288.5 871.5,1287.8 861.0,1288.1 850.5,1288.4 840.0,1288.5 829.5,1290.0 819.0,1290.4 808.5,1289.6 798.0,1289.8 787.5,1289.2 777.0,1288.2 766.5,1287.4 756.0,1289.4 745.5,1289.6 735.0,1287.5 724.5,1286.2 714.0,1284.2 703.5,1283.1 693.0,1281.3 682.5,1286.3 672.0,1287.1 661.5,1282.7 651.0,1280.4 640.5,1275.8 630.0,1281.0 619.5,1282.0 609.0,1287.0 598.5,1288.3 588.0,1284.2 577.5,1283.6 567.0,1283.2 556.5,1283.9 546.0,1282.9 535.5,1287.3 525.0,1287.6 514.5,1286.1 504.0,1281.0 493.5,1278.1 483.0,1280.3 472.5,1279.8 462.0,1287.2 451.5,1287.3 441.0,1281.6 430.5,1282.9 420.0,1284.7 409.5,1282.7 399.0,1283.0 388.5,1287.3 378.0,1289.4 367.5,1288.4 357.0,1291.4 346.5,1291.4 336.0,1291.4 325.5,1291.4 315.0,1291.4 304.5,1291.4" fill="#e14b7d"/><polygon points="304.5,1291.4 315.0,1291.4 325.5,1291.4 336.0,1291.4 346.5,1291.4 357.0,1291.4 367.5,1288.4 378.0,1289.4 388.5,1284.6 399.0,1271.6 409.5,1264.4 420.0,1273.3 430.5,1271.5 441.0,1271.8 451.5,1282.8 462.0,1282.1 472.5,1264.7 483.0,1264.3 493.5,1257.2 504.0,1263.3 514.5,1276.1 525.0,1279.9 535.5,1277.8 546.0,1261.3 556.5,1265.4 567.0,1263.8 577.5,1265.6 588.0,1268.1 598.5,1281.4 609.0,1279.0 619.5,1268.5 630.0,1267.8 640.5,1258.9 651.0,1268.5 661.5,1273.3 672.0,1282.4 682.5,1280.9 693.0,1270.4 703.5,1273.5 714.0,1275.4 724.5,1279.3 735.0,1282.1 745.5,1286.8 756.0,1286.2 766.5,1280.9 777.0,1282.6 787.5,1284.9 798.0,1286.6 808.5,1286.2 819.0,1288.5 829.5,1287.3 840.0,1283.4 850.5,1283.1 861.0,1283.3 871.5,1283.1 882.0,1285.2 892.5,1288.2 903.0,1285.7 913.5,1280.6 924.0,1281.7 934.5,1280.2 945.0,1278.4 955.5,1277.2 966.0,1284.0 976.5,1276.4 987.0,1269.7 997.5,1262.4 1008.0,1264.8 1018.5,1269.3 1029.0,1274.5 1039.5,1282.4 1050.0,1280.6 1060.5,1273.3 1071.0,1265.1 1081.5,1262.0 1092.0,1268.8 1102.5,1274.1 1113.0,1279.8 1123.5,1275.0 1134.0,1270.1 1144.5,1268.0 1155.0,1264.8 1165.5,1270.7 1176.0,1275.6 1186.5,1283.6 1197.0,1281.5 1207.5,1272.4 1218.0,1272.1 1228.5,1274.2 1239.0,1275.4 1249.5,1279.0 1260.0,1280.5 1270.5,1278.6 1281.0,1265.3 1291.5,1257.9 1302.0,1259.3 1312.5,1263.0 1323.0,1265.7 1333.5,1279.5 1344.0,1270.1 1354.5,1258.2 1365.0,1264.2 1375.5,1263.7 1386.0,1266.9 1396.5,1274.2 1407.0,1282.8 1417.5,1278.2 1428.0,1271.8 1438.5,1271.4 1449.0,1269.0 1459.5,1267.6 1470.0,1272.9 1480.5,1279.1 1491.0,1273.0 1501.5,1251.1 1512.0,1249.2 1522.5,1239.6 1533.0,1249.1 1543.5,1259.8 1554.0,1271.8 1564.5,1265.3 1575.0,1244.1 1585.5,1234.3 1596.0,1238.9 1606.5,1240.0 1617.0,1250.8 1627.5,1262.1 1638.0,1258.4 1648.5,1227.5 1659.0,1223.2 1669.5,1226.3 1680.0,1238.3 1690.5,1250.6 1701.0,1272.6 1711.5,1259.6 1722.0,1240.6 1732.5,1241.8 1743.0,1237.1 1753.5,1250.1 1764.0,1251.3 1774.5,1269.4 1785.0,1254.9 1795.5,1238.9 1806.0,1236.6 1816.5,1238.8 1827.0,1238.5 1837.5,1253.0 1848.0,1269.3 1858.5,1251.4 1869.0,1227.5 1879.5,1231.0 1890.0,1239.3 1900.5,1249.9 1911.0,1243.8 1911.0,1248.4 1900.5,1254.0 1890.0,1244.4 1879.5,1237.0 1869.0,1233.9 1858.5,1255.2 1848.0,1271.4 1837.5,1256.3 1827.0,1242.9 1816.5,1242.9 1806.0,1240.7 1795.5,1242.9 1785.0,1257.7 1774.5,1271.1 1764.0,1254.7 1753.5,1253.6 1743.0,1241.9 1732.5,1246.2 1722.0,1245.2 1711.5,1262.4 1701.0,1274.2 1690.5,1253.9 1680.0,1242.5 1669.5,1231.3 1659.0,1228.2 1648.5,1232.3 1638.0,1261.0 1627.5,1264.5 1617.0,1254.2 1606.5,1244.4 1596.0,1243.5 1585.5,1239.5 1575.0,1248.6 1564.5,1267.9 1554.0,1273.9 1543.5,1263.2 1533.0,1253.9 1522.5,1245.8 1512.0,1254.3 1501.5,1256.1 1491.0,1275.3 1480.5,1280.7 1470.0,1275.4 1459.5,1270.8 1449.0,1272.1 1438.5,1274.2 1428.0,1274.5 1417.5,1279.9 1407.0,1283.9 1396.5,1276.4 1386.0,1269.9 1375.5,1266.9 1365.0,1267.3 1354.5,1261.9 1344.0,1272.4 1333.5,1280.7 1323.0,1268.4 1312.5,1265.8 1302.0,1262.4 1291.5,1261.1 1281.0,1267.9 1270.5,1280.0 1260.0,1281.7 1249.5,1280.6 1239.0,1277.6 1228.5,1276.7 1218.0,1275.1 1207.5,1275.6 1197.0,1283.0 1186.5,1284.7 1176.0,1277.5 1165.5,1273.0 1155.0,1267.6 1144.5,1270.5 1134.0,1272.3 1123.5,1276.8 1113.0,1281.1 1102.5,1276.0 1092.0,1271.3 1081.5,1265.9 1071.0,1269.5 1060.5,1276.5 1050.0,1282.6 1039.5,1284.1 1029.0,1277.4 1018.5,1272.8 1008.0,1268.9 997.5,1266.7 987.0,1272.8 976.5,1278.5 966.0,1285.0 955.5,1279.1 945.0,1280.4 934.5,1282.2 924.0,1283.5 913.5,1282.7 903.0,1286.8 892.5,1288.9 882.0,1286.6 871.5,1285.1 861.0,1285.4 850.5,1285.4 840.0,1285.7 829.5,1288.5 819.0,1289.4 808.5,1287.8 798.0,1288.2 787.5,1287.1 777.0,1285.1 766.5,1283.5 756.0,1287.4 745.5,1287.8 735.0,1283.9 724.5,1281.7 714.0,1278.6 703.5,1277.1 693.0,1274.6 682.5,1282.9 672.0,1284.0 661.5,1276.5 651.0,1272.4 640.5,1264.1 630.0,1272.6 619.5,1273.9 609.0,1282.2 598.5,1284.1 588.0,1274.6 577.5,1273.1 567.0,1272.2 556.5,1273.7 546.0,1271.3 535.5,1281.9 525.0,1283.0 514.5,1279.7 504.0,1269.0 493.5,1263.0 483.0,1270.7 472.5,1272.7 462.0,1285.5 451.5,1286.5 441.0,1281.6 430.5,1282.9 420.0,1284.7 409.5,1282.7 399.0,1283.0 388.5,1287.3 378.0,1289.4 367.5,1288.4 357.0,1291.4 346.5,1291.4 336.0,1291.4 325.5,1291.4 315.0,1291.4 304.5,1291.4" fill="#fbd548"/><polygon points="304.5,1291.4 315.0,1291.0 325.5,1279.0 336.0,1279.6 346.5,1270.1 357.0,1272.9 367.5,1268.9 378.0,1281.6 388.5,1272.0 399.0,1254.5 409.5,1256.1 420.0,1268.0 430.5,1266.1 441.0,1267.0 451.5,1280.9 462.0,1280.3 472.5,1260.1 483.0,1260.4 493.5,1253.0 504.0,1260.0 514.5,1274.4 525.0,1278.6 535.5,1276.4 546.0,1258.2 556.5,1262.7 567.0,1260.9 577.5,1262.9 588.0,1265.6 598.5,1280.4 609.0,1278.2 619.5,1268.5 630.0,1267.8 640.5,1258.9 651.0,1268.5 661.5,1273.3 672.0,1282.4 682.5,1280.9 693.0,1270.4 703.5,1272.8 714.0,1274.1 724.5,1277.8 735.0,1280.6 745.5,1285.9 756.0,1285.1 766.5,1278.4 777.0,1280.2 787.5,1282.8 798.0,1285.0 808.5,1284.4 819.0,1287.5 829.5,1285.9 840.0,1280.5 850.5,1280.1 861.0,1280.5 871.5,1280.5 882.0,1283.3 892.5,1287.3 903.0,1284.1 913.5,1277.8 924.0,1279.4 934.5,1277.6 945.0,1276.2 955.5,1275.3 966.0,1283.0 976.5,1274.5 987.0,1267.1 997.5,1259.0 1008.0,1261.6 1018.5,1266.6 1029.0,1272.2 1039.5,1281.0 1050.0,1278.9 1060.5,1270.4 1071.0,1260.8 1081.5,1258.0 1092.0,1266.2 1102.5,1272.2 1113.0,1278.6 1123.5,1273.3 1134.0,1267.8 1144.5,1265.6 1155.0,1262.0 1165.5,1268.3 1176.0,1273.6 1186.5,1282.6 1197.0,1280.0 1207.5,1269.3 1218.0,1268.8 1228.5,1271.1 1239.0,1272.5 1249.5,1276.7 1260.0,1278.4 1270.5,1276.2 1281.0,1260.3 1291.5,1251.5 1302.0,1253.0 1312.5,1257.3 1323.0,1260.5 1333.5,1277.0 1344.0,1265.5 1354.5,1250.9 1365.0,1258.2 1375.5,1257.5 1386.0,1261.5 1396.5,1270.5 1407.0,1281.0 1417.5,1275.3 1428.0,1267.5 1438.5,1267.1 1449.0,1264.4 1459.5,1263.0 1470.0,1269.5 1480.5,1276.9 1491.0,1269.8 1501.5,1244.3 1512.0,1242.2 1522.5,1231.3 1533.0,1242.4 1543.5,1254.9 1554.0,1268.9 1564.5,1261.4 1575.0,1237.1 1585.5,1226.0 1596.0,1231.3 1606.5,1232.4 1617.0,1244.8 1627.5,1257.8 1638.0,1253.5 1648.5,1217.9 1659.0,1212.9 1669.5,1216.6 1680.0,1230.4 1690.5,1244.6 1701.0,1269.8 1711.5,1254.9 1722.0,1233.2 1732.5,1234.6 1743.0,1229.2 1753.5,1244.0 1764.0,1245.5 1774.5,1266.1 1785.0,1249.5 1795.5,1231.1 1806.0,1228.5 1816.5,1231.4 1827.0,1231.6 1837.5,1248.2 1848.0,1266.8 1858.5,1247.1 1869.0,1221.1 1879.5,1225.1 1890.0,1234.1 1900.5,1245.9 1911.0,1239.2 1911.0,1243.8 1900.5,1249.9 1890.0,1239.3 1879.5,1231.0 1869.0,1227.5 1858.5,1251.4 1848.0,1269.3 1837.5,1253.0 1827.0,1238.5 1816.5,1238.8 1806.0,1236.6 1795.5,1238.9 1785.0,1254.9 1774.5,1269.4 1764.0,1251.3 1753.5,1250.1 1743.0,1237.1 1732.5,1241.8 1722.0,1240.6 1711.5,1259.6 1701.0,1272.6 1690.5,1250.6 1680.0,1238.3 1669.5,1226.3 1659.0,1223.2 1648.5,1227.5 1638.0,1258.4 1627.5,1262.1 1617.0,1250.8 1606.5,1240.0 1596.0,1238.9 1585.5,1234.3 1575.0,1244.1 1564.5,1265.3 1554.0,1271.8 1543.5,1259.8 1533.0,1249.1 1522.5,1239.6 1512.0,1249.2 1501.5,1251.1 1491.0,1273.0 1480.5,1279.1 1470.0,1272.9 1459.5,1267.6 1449.0,1269.0 1438.5,1271.4 1428.0,1271.8 1417.5,1278.2 1407.0,1282.8 1396.5,1274.2 1386.0,1266.9 1375.5,1263.7 1365.0,1264.2 1354.5,1258.2 1344.0,1270.1 1333.5,1279.5 1323.0,1265.7 1312.5,1263.0 1302.0,1259.3 1291.5,1257.9 1281.0,1265.3 1270.5,1278.6 1260.0,1280.5 1249.5,1279.0 1239.0,1275.4 1228.5,1274.2 1218.0,1272.1 1207.5,1272.4 1197.0,1281.5 1186.5,1283.6 1176.0,1275.6 1165.5,1270.7 1155.0,1264.8 1144.5,1268.0 1134.0,1270.1 1123.5,1275.0 1113.0,1279.8 1102.5,1274.1 1092.0,1268.8 1081.5,1262.0 1071.0,1265.1 1060.5,1273.3 1050.0,1280.6 1039.5,1282.4 1029.0,1274.5 1018.5,1269.3 1008.0,1264.8 997.5,1262.4 987.0,1269.7 976.5,1276.4 966.0,1284.0 955.5,1277.2 945.0,1278.4 934.5,1280.2 924.0,1281.7 913.5,1280.6 903.0,1285.7 892.5,1288.2 882.0,1285.2 871.5,1283.1 861.0,1283.3 850.5,1283.1 840.0,1283.4 829.5,1287.3 819.0,1288.5 808.5,1286.2 798.0,1286.6 787.5,1284.9 777.0,1282.6 766.5,1280.9 756.0,1286.2 745.5,1286.8 735.0,1282.1 724.5,1279.3 714.0,1275.4 703.5,1273.5 693.0,1270.4 682.5,1280.9 672.0,1282.4 661.5,1273.3 651.0,1268.5 640.5,1258.9 630.0,1267.8 619.5,1268.5 609.0,1279.0 598.5,1281.4 588.0,1268.1 577.5,1265.6 567.0,1263.8 556.5,1265.4 546.0,1261.3 535.5,1277.8 525.0,1279.9 514.5,1276.1 504.0,1263.3 493.5,1257.2 483.0,1264.3 472.5,1264.7 462.0,1282.1 451.5,1282.8 441.0,1271.8 430.5,1271.5 420.0,1273.3 409.5,1264.4 399.0,1271.6 388.5,1284.6 378.0,1289.4 367.5,1288.4 357.0,1291.4 346.5,1291.4 336.0,1291.4 325.5,1291.4 315.0,1291.4 304.5,1291.4" fill="#61b4a2"/><polygon points="304.5,1291.4 315.0,1291.0 325.5,1279.0 336.0,1279.6 346.5,1270.1 357.0,1272.9 367.5,1268.9 378.0,1281.6 388.5,1272.0 399.0,1254.5 409.5,1256.1 420.0,1268.0 430.5,1266.1 441.0,1267.0 451.5,1280.9 462.0,1280.3 472.5,1260.1 483.0,1260.4 493.5,1253.0 504.0,1260.0 514.5,1274.4 525.0,1278.6 535.5,1276.4 546.0,1258.2 556.5,1262.7 567.0,1260.9 577.5,1262.9 588.0,1265.6 598.5,1280.4 609.0,1277.8 619.5,1266.5 630.0,1265.4 640.5,1255.0 651.0,1264.5 661.5,1269.1 672.0,1279.7 682.5,1277.3 693.0,1262.0 703.5,1265.6 714.0,1267.7 724.5,1273.0 735.0,1276.8 745.5,1284.1 756.0,1283.0 766.5,1273.9 777.0,1276.2 787.5,1279.5 798.0,1282.7 808.5,1281.8 819.0,1286.1 829.5,1284.0 840.0,1276.8 850.5,1276.3 861.0,1277.0 871.5,1277.0 882.0,1280.8 892.5,1286.0 903.0,1281.9 913.5,1273.9 924.0,1275.9 934.5,1273.7 945.0,1273.2 955.5,1272.9 966.0,1281.8 976.5,1272.0 987.0,1263.3 997.5,1253.9 1008.0,1256.8 1018.5,1262.4 1029.0,1268.7 1039.5,1278.9 1050.0,1276.3 1060.5,1266.0 1071.0,1254.2 1081.5,1251.2 1092.0,1261.2 1102.5,1268.3 1113.0,1275.8 1123.5,1269.3 1134.0,1262.4 1144.5,1259.6 1155.0,1255.0 1165.5,1262.7 1176.0,1269.1 1186.5,1280.3 1197.0,1276.9 1207.5,1262.9 1218.0,1262.5 1228.5,1265.6 1239.0,1267.5 1249.5,1272.9 1260.0,1275.1 1270.5,1272.4 1281.0,1252.7 1291.5,1241.9 1302.0,1243.6 1312.5,1248.8 1323.0,1252.6 1333.5,1273.2 1344.0,1258.6 1354.5,1239.8 1365.0,1249.0 1375.5,1248.2 1386.0,1253.1 1396.5,1264.6 1407.0,1278.0 1417.5,1270.7 1428.0,1260.6 1438.5,1259.9 1449.0,1257.1 1459.5,1256.0 1470.0,1264.4 1480.5,1273.8 1491.0,1265.4 1501.5,1235.3 1512.0,1233.3 1522.5,1221.0 1533.0,1234.1 1543.5,1248.7 1554.0,1265.1 1564.5,1256.5 1575.0,1228.4 1585.5,1215.6 1596.0,1222.0 1606.5,1223.6 1617.0,1238.1 1627.5,1253.0 1638.0,1248.2 1648.5,1208.0 1659.0,1202.7 1669.5,1206.9 1680.0,1222.5 1690.5,1238.5 1701.0,1267.1 1711.5,1250.2 1722.0,1225.8 1732.5,1227.3 1743.0,1221.3 1753.5,1238.0 1764.0,1239.6 1774.5,1262.9 1785.0,1244.1 1795.5,1223.4 1806.0,1220.4 1816.5,1223.1 1827.0,1222.8 1837.5,1241.5 1848.0,1262.7 1858.5,1239.4 1869.0,1208.3 1879.5,1213.1 1890.0,1223.9 1900.5,1237.8 1911.0,1230.0 1911.0,1239.2 1900.5,1245.9 1890.0,1234.1 1879.5,1225.1 1869.0,1221.1 1858.5,1247.1 1848.0,1266.8 1837.5,1248.2 1827.0,1231.6 1816.5,1231.4 1806.0,1228.5 1795.5,1231.1 1785.0,1249.5 1774.5,1266.1 1764.0,1245.5 1753.5,1244.0 1743.0,1229.2 1732.5,1234.6 1722.0,1233.2 1711.5,1254.9 1701.0,1269.8 1690.5,1244.6 1680.0,1230.4 1669.5,1216.6 1659.0,1212.9 1648.5,1217.9 1638.0,1253.5 1627.5,1257.8 1617.0,1244.8 1606.5,1232.4 1596.0,1231.3 1585.5,1226.0 1575.0,1237.1 1564.5,1261.4 1554.0,1268.9 1543.5,1254.9 1533.0,1242.4 1522.5,1231.3 1512.0,1242.2 1501.5,1244.3 1491.0,1269.8 1480.5,1276.9 1470.0,1269.5 1459.5,1263.0 1449.0,1264.4 1438.5,1267.1 1428.0,1267.5 1417.5,1275.3 1407.0,1281.0 1396.5,1270.5 1386.0,1261.5 1375.5,1257.5 1365.0,1258.2 1354.5,1250.9 1344.0,1265.5 1333.5,1277.0 1323.0,1260.5 1312.5,1257.3 1302.0,1253.0 1291.5,1251.5 1281.0,1260.3 1270.5,1276.2 1260.0,1278.4 1249.5,1276.7 1239.0,1272.5 1228.5,1271.1 1218.0,1268.8 1207.5,1269.3 1197.0,1280.0 1186.5,1282.6 1176.0,1273.6 1165.5,1268.3 1155.0,1262.0 1144.5,1265.6 1134.0,1267.8 1123.5,1273.3 1113.0,1278.6 1102.5,1272.2 1092.0,1266.2 1081.5,1258.0 1071.0,1260.8 1060.5,1270.4 1050.0,1278.9 1039.5,1281.0 1029.0,1272.2 1018.5,1266.6 1008.0,1261.6 997.5,1259.0 987.0,1267.1 976.5,1274.5 966.0,1283.0 955.5,1275.3 945.0,1276.2 934.5,1277.6 924.0,1279.4 913.5,1277.8 903.0,1284.1 892.5,1287.3 882.0,1283.3 871.5,1280.5 861.0,1280.5 850.5,1280.1 840.0,1280.5 829.5,1285.9 819.0,1287.5 808.5,1284.4 798.0,1285.0 787.5,1282.8 777.0,1280.2 766.5,1278.4 756.0,1285.1 745.5,1285.9 735.0,1280.6 724.5,1277.8 714.0,1274.1 703.5,1272.8 693.0,1270.4 682.5,1280.9 672.0,1282.4 661.5,1273.3 651.0,1268.5 640.5,1258.9 630.0,1267.8 619.5,1268.5 609.0,1278.2 598.5,1280.4 588.0,1265.6 577.5,1262.9 567.0,1260.9 556.5,1262.7 546.0,1258.2 535.5,1276.4 525.0,1278.6 514.5,1274.4 504.0,1260.0 493.5,1253.0 483.0,1260.4 472.5,1260.1 462.0,1280.3 451.5,1280.9 441.0,1267.0 430.5,1266.1 420.0,1268.0 409.5,1256.1 399.0,1254.5 388.5,1272.0 378.0,1281.6 367.5,1268.9 357.0,1272.9 346.5,1270.1 336.0,1279.6 325.5,1279.0 315.0,1291.0 304.5,1291.4" fill="#dc945b"/><polygon points="304.5,1291.4 315.0,1291.0 325.5,1279.0 336.0,1279.6 346.5,1270.1 357.0,1272.9 367.5,1268.9 378.0,1281.6 388.5,1272.0 399.0,1254.5 409.5,1256.1 420.0,1268.0 430.5,1266.1 441.0,1267.0 451.5,1280.9 462.0,1280.3 472.5,1260.1 483.0,1260.4 493.5,1253.0 504.0,1260.0 514.5,1274.4 525.0,1278.6 535.5,1276.4 546.0,1258.2 556.5,1262.7 567.0,1260.9 577.5,1262.9 588.0,1265.6 598.5,1280.4 609.0,1275.5 619.5,1256.4 630.0,1241.3 640.5,1196.5 651.0,1226.1 661.5,1240.9 672.0,1266.7 682.5,1263.4 693.0,1236.7 703.5,1245.5 714.0,1251.0 724.5,1261.4 735.0,1268.6 745.5,1280.5 756.0,1278.5 766.5,1263.9 777.0,1266.8 787.5,1271.5 798.0,1277.2 808.5,1276.3 819.0,1283.4 829.5,1280.5 840.0,1270.8 850.5,1271.1 861.0,1272.1 871.5,1272.2 882.0,1277.3 892.5,1284.3 903.0,1279.0 913.5,1268.5 924.0,1271.2 934.5,1268.4 945.0,1269.0 955.5,1269.6 966.0,1280.0 976.5,1268.4 987.0,1258.2 997.5,1247.0 1008.0,1250.4 1018.5,1256.9 1029.0,1264.0 1039.5,1276.1 1050.0,1273.1 1060.5,1260.9 1071.0,1247.6 1081.5,1244.3 1092.0,1256.2 1102.5,1264.3 1113.0,1273.1 1123.5,1265.3 1134.0,1257.1 1144.5,1253.6 1155.0,1247.9 1165.5,1257.0 1176.0,1264.6 1186.5,1277.9 1197.0,1273.8 1207.5,1256.6 1218.0,1256.6 1228.5,1260.7 1239.0,1263.2 1249.5,1269.8 1260.0,1272.8 1270.5,1270.3 1281.0,1249.4 1291.5,1238.8 1302.0,1240.3 1312.5,1245.5 1323.0,1249.3 1333.5,1271.6 1344.0,1255.4 1354.5,1234.3 1365.0,1244.2 1375.5,1242.8 1386.0,1248.1 1396.5,1260.8 1407.0,1276.0 1417.5,1267.4 1428.0,1255.3 1438.5,1254.2 1449.0,1251.6 1459.5,1251.0 1470.0,1261.1 1480.5,1271.9 1491.0,1263.0 1501.5,1230.8 1512.0,1229.3 1522.5,1216.8 1533.0,1230.9 1543.5,1246.5 1554.0,1263.8 1564.5,1254.9 1575.0,1225.6 1585.5,1212.5 1596.0,1219.2 1606.5,1221.1 1617.0,1236.2 1627.5,1251.7 1638.0,1246.8 1648.5,1205.5 1659.0,1200.1 1669.5,1204.4 1680.0,1220.3 1690.5,1236.9 1701.0,1266.3 1711.5,1248.9 1722.0,1223.6 1732.5,1225.2 1743.0,1218.9 1753.5,1236.1 1764.0,1237.8 1774.5,1261.9 1785.0,1242.5 1795.5,1221.1 1806.0,1217.9 1816.5,1220.8 1827.0,1220.5 1837.5,1239.9 1848.0,1261.8 1858.5,1237.7 1869.0,1205.7 1879.5,1210.7 1890.0,1221.8 1900.5,1236.1 1911.0,1228.1 1911.0,1230.0 1900.5,1237.8 1890.0,1223.9 1879.5,1213.1 1869.0,1208.3 1858.5,1239.4 1848.0,1262.7 1837.5,1241.5 1827.0,1222.8 1816.5,1223.1 1806.0,1220.4 1795.5,1223.4 1785.0,1244.1 1774.5,1262.9 1764.0,1239.6 1753.5,1238.0 1743.0,1221.3 1732.5,1227.3 1722.0,1225.8 1711.5,1250.2 1701.0,1267.1 1690.5,1238.5 1680.0,1222.5 1669.5,1206.9 1659.0,1202.7 1648.5,1208.0 1638.0,1248.2 1627.5,1253.0 1617.0,1238.1 1606.5,1223.6 1596.0,1222.0 1585.5,1215.6 1575.0,1228.4 1564.5,1256.5 1554.0,1265.1 1543.5,1248.7 1533.0,1234.1 1522.5,1221.0 1512.0,1233.3 1501.5,1235.3 1491.0,1265.4 1480.5,1273.8 1470.0,1264.4 1459.5,1256.0 1449.0,1257.1 1438.5,1259.9 1428.0,1260.6 1417.5,1270.7 1407.0,1278.0 1396.5,1264.6 1386.0,1253.1 1375.5,1248.2 1365.0,1249.0 1354.5,1239.8 1344.0,1258.6 1333.5,1273.2 1323.0,1252.6 1312.5,1248.8 1302.0,1243.6 1291.5,1241.9 1281.0,1252.7 1270.5,1272.4 1260.0,1275.1 1249.5,1272.9 1239.0,1267.5 1228.5,1265.6 1218.0,1262.5 1207.5,1262.9 1197.0,1276.9 1186.5,1280.3 1176.0,1269.1 1165.5,1262.7 1155.0,1255.0 1144.5,1259.6 1134.0,1262.4 1123.5,1269.3 1113.0,1275.8 1102.5,1268.3 1092.0,1261.2 1081.5,1251.2 1071.0,1254.2 1060.5,1266.0 1050.0,1276.3 1039.5,1278.9 1029.0,1268.7 1018.5,1262.4 1008.0,1256.8 997.5,1253.9 987.0,1263.3 976.5,1272.0 966.0,1281.8 955.5,1272.9 945.0,1273.2 934.5,1273.7 924.0,1275.9 913.5,1273.9 903.0,1281.9 892.5,1286.0 882.0,1280.8 871.5,1277.0 861.0,1277.0 850.5,1276.3 840.0,1276.8 829.5,1284.0 819.0,1286.1 808.5,1281.8 798.0,1282.7 787.5,1279.5 777.0,1276.2 766.5,1273.9 756.0,1283.0 745.5,1284.1 735.0,1276.8 724.5,1273.0 714.0,1267.7 703.5,1265.6 693.0,1262.0 682.5,1277.3 672.0,1279.7 661.5,1269.1 651.0,1264.5 640.5,1255.0 630.0,1265.4 619.5,1266.5 609.0,1277.8 598.5,1280.4 588.0,1265.6 577.5,1262.9 567.0,1260.9 556.5,1262.7 546.0,1258.2 535.5,1276.4 525.0,1278.6 514.5,1274.4 504.0,1260.0 493.5,1253.0 483.0,1260.4 472.5,1260.1 462.0,1280.3 451.5,1280.9 441.0,1267.0 430.5,1266.1 420.0,1268.0 409.5,1256.1 399.0,1254.5 388.5,1272.0 378.0,1281.6 367.5,1268.9 357.0,1272.9 346.5,1270.1 336.0,1279.6 325.5,1279.0 315.0,1291.0 304.5,1291.4" fill="#548ab9"/><polygon points="304.5,1291.4 315.0,1291.0 325.5,1279.0 336.0,1279.6 346.5,1270.1 357.0,1272.9 367.5,1268.9 378.0,1281.6 388.5,1272.0 399.0,1254.5 409.5,1256.1 420.0,1268.0 430.5,1266.1 441.0,1267.0 451.5,1280.9 462.0,1280.3 472.5,1260.1 483.0,1260.4 493.5,1253.0 504.0,1260.0 514.5,1274.4 525.0,1278.6 535.5,1276.4 546.0,1258.2 556.5,1262.7 567.0,1260.9 577.5,1262.9 588.0,1265.6 598.5,1280.4 609.0,1275.5 619.5,1256.4 630.0,1241.3 640.5,1196.5 651.0,1226.1 661.5,1240.9 672.0,1266.7 682.5,1263.4 693.0,1236.7 703.5,1245.5 714.0,1251.0 724.5,1261.4 735.0,1268.6 745.5,1280.5 756.0,1278.5 766.5,1263.9 777.0,1266.8 787.5,1271.5 798.0,1277.2 808.5,1276.3 819.0,1283.4 829.5,1280.5 840.0,1270.8 850.5,1271.1 861.0,1272.1 871.5,1272.2 882.0,1277.3 892.5,1284.3 903.0,1279.0 913.5,1268.5 924.0,1271.2 934.5,1268.4 945.0,1269.0 955.5,1269.6 966.0,1280.0 976.5,1268.4 987.0,1258.2 997.5,1247.0 1008.0,1250.4 1018.5,1256.9 1029.0,1264.0 1039.5,1276.1 1050.0,1273.1 1060.5,1260.9 1071.0,1247.6 1081.5,1244.3 1092.0,1256.2 1102.5,1264.3 1113.0,1273.1 1123.5,1265.3 1134.0,1257.1 1144.5,1253.6 1155.0,1247.9 1165.5,1257.0 1176.0,1264.6 1186.5,1277.9 1197.0,1273.8 1207.5,1256.6 1218.0,1255.4 1228.5,1258.8 1239.0,1260.8 1249.5,1267.5 1260.0,1270.1 1270.5,1266.6 1281.0,1240.5 1291.5,1226.0 1302.0,1227.7 1312.5,1234.1 1323.0,1238.7 1333.5,1266.5 1344.0,1246.2 1354.5,1219.5 1365.0,1232.1 1375.5,1230.6 1386.0,1237.3 1396.5,1253.3 1407.0,1272.3 1417.5,1261.6 1428.0,1246.9 1438.5,1245.6 1449.0,1243.1 1459.5,1242.8 1470.0,1255.4 1480.5,1268.4 1491.0,1258.2 1501.5,1221.3 1512.0,1220.1 1522.5,1206.5 1533.0,1222.6 1543.5,1240.4 1554.0,1260.1 1564.5,1250.0 1575.0,1216.9 1585.5,1202.1 1596.0,1209.4 1606.5,1211.0 1617.0,1228.0 1627.5,1245.7 1638.0,1239.8 1648.5,1191.5 1659.0,1184.8 1669.5,1188.4 1680.0,1206.2 1690.5,1225.1 1701.0,1260.4 1711.5,1238.1 1722.0,1205.1 1732.5,1204.8 1743.0,1194.1 1753.5,1215.3 1764.0,1215.8 1774.5,1248.7 1785.0,1218.9 1795.5,1184.7 1806.0,1177.3 1816.5,1184.5 1827.0,1186.5 1837.5,1216.9 1848.0,1249.6 1858.5,1217.4 1869.0,1175.9 1879.5,1182.8 1890.0,1197.9 1900.5,1217.3 1911.0,1206.7 1911.0,1228.1 1900.5,1236.1 1890.0,1221.8 1879.5,1210.7 1869.0,1205.7 1858.5,1237.7 1848.0,1261.8 1837.5,1239.9 1827.0,1220.5 1816.5,1220.8 1806.0,1217.9 1795.5,1221.1 1785.0,1242.5 1774.5,1261.9 1764.0,1237.8 1753.5,1236.1 1743.0,1218.9 1732.5,1225.2 1722.0,1223.6 1711.5,1248.9 1701.0,1266.3 1690.5,1236.9 1680.0,1220.3 1669.5,1204.4 1659.0,1200.1 1648.5,1205.5 1638.0,1246.8 1627.5,1251.7 1617.0,1236.2 1606.5,1221.1 1596.0,1219.2 1585.5,1212.5 1575.0,1225.6 1564.5,1254.9 1554.0,1263.8 1543.5,1246.5 1533.0,1230.9 1522.5,1216.8 1512.0,1229.3 1501.5,1230.8 1491.0,1263.0 1480.5,1271.9 1470.0,1261.1 1459.5,1251.0 1449.0,1251.6 1438.5,1254.2 1428.0,1255.3 1417.5,1267.4 1407.0,1276.0 1396.5,1260.8 1386.0,1248.1 1375.5,1242.8 1365.0,1244.2 1354.5,1234.3 1344.0,1255.4 1333.5,1271.6 1323.0,1249.3 1312.5,1245.5 1302.0,1240.3 1291.5,1238.8 1281.0,1249.4 1270.5,1270.3 1260.0,1272.8 1249.5,1269.8 1239.0,1263.2 1228.5,1260.7 1218.0,1256.6 1207.5,1256.6 1197.0,1273.8 1186.5,1277.9 1176.0,1264.6 1165.5,1257.0 1155.0,1247.9 1144.5,1253.6 1134.0,1257.1 1123.5,1265.3 1113.0,1273.1 1102.5,1264.3 1092.0,1256.2 1081.5,1244.3 1071.0,1247.6 1060.5,1260.9 1050.0,1273.1 1039.5,1276.1 1029.0,1264.0 1018.5,1256.9 1008.0,1250.4 997.5,1247.0 987.0,1258.2 976.5,1268.4 966.0,1280.0 955.5,1269.6 945.0,1269.0 934.5,1268.4 924.0,1271.2 913.5,1268.5 903.0,1279.0 892.5,1284.3 882.0,1277.3 871.5,1272.2 861.0,1272.1 850.5,1271.1 840.0,1270.8 829.5,1280.5 819.0,1283.4 808.5,1276.3 798.0,1277.2 787.5,1271.5 777.0,1266.8 766.5,1263.9 756.0,1278.5 745.5,1280.5 735.0,1268.6 724.5,1261.4 714.0,1251.0 703.5,1245.5 693.0,1236.7 682.5,1263.4 672.0,1266.7 661.5,1240.9 651.0,1226.1 640.5,1196.5 630.0,1241.3 619.5,1256.4 609.0,1275.5 598.5,1280.4 588.0,1265.6 577.5,1262.9 567.0,1260.9 556.5,1262.7 546.0,1258.2 535.5,1276.4 525.0,1278.6 514.5,1274.4 504.0,1260.0 493.5,1253.0 483.0,1260.4 472.5,1260.1 462.0,1280.3 451.5,1280.9 441.0,1267.0 430.5,1266.1 420.0,1268.0 409.5,1256.1 399.0,1254.5 388.5,1272.0 378.0,1281.6 367.5,1268.9 357.0,1272.9 346.5,1270.1 336.0,1279.6 325.5,1279.0 315.0,1291.0 304.5,1291.4" fill="#f9bbf1"/><polygon points="304.5,1291.4 315.0,1291.0 325.5,1279.0 336.0,1278.3 346.5,1261.4 357.0,1255.9 367.5,1261.8 378.0,1281.6 388.5,1270.1 399.0,1246.4 409.5,1243.1 420.0,1260.4 430.5,1259.2 441.0,1262.1 451.5,1278.9 462.0,1278.4 472.5,1255.5 483.0,1256.4 493.5,1248.9 504.0,1256.8 514.5,1272.8 525.0,1277.5 535.5,1275.2 546.0,1255.8 556.5,1260.8 567.0,1259.0 577.5,1261.1 588.0,1264.1 598.5,1279.8 609.0,1275.0 619.5,1256.4 630.0,1241.3 640.5,1196.5 651.0,1225.7 661.5,1240.3 672.0,1266.3 682.5,1262.7 693.0,1235.1 703.5,1244.4 714.0,1250.2 724.5,1261.0 735.0,1268.4 745.5,1280.5 756.0,1278.5 766.5,1263.9 777.0,1266.8 787.5,1271.5 798.0,1277.0 808.5,1275.9 819.0,1283.0 829.5,1279.8 840.0,1269.1 850.5,1268.8 861.0,1269.9 871.5,1270.1 882.0,1275.7 892.5,1283.5 903.0,1277.6 913.5,1265.9 924.0,1268.9 934.5,1265.8 945.0,1266.8 955.5,1267.7 966.0,1279.1 976.5,1266.8 987.0,1256.1 997.5,1244.5 1008.0,1247.9 1018.5,1254.9 1029.0,1262.0 1039.5,1274.7 1050.0,1271.3 1060.5,1257.3 1071.0,1241.0 1081.5,1238.4 1092.0,1252.4 1102.5,1261.4 1113.0,1271.2 1123.5,1262.6 1134.0,1253.7 1144.5,1249.8 1155.0,1243.7 1165.5,1253.0 1176.0,1260.9 1186.5,1275.7 1197.0,1270.4 1207.5,1248.7 1218.0,1248.4 1228.5,1253.3 1239.0,1256.3 1249.5,1264.4 1260.0,1267.4 1270.5,1263.4 1281.0,1234.2 1291.5,1218.0 1302.0,1219.9 1312.5,1227.0 1323.0,1232.1 1333.5,1263.4 1344.0,1240.4 1354.5,1210.3 1365.0,1224.5 1375.5,1222.9 1386.0,1230.5 1396.5,1248.4 1407.0,1269.8 1417.5,1257.9 1428.0,1241.3 1438.5,1239.9 1449.0,1237.1 1459.5,1236.8 1470.0,1250.9 1480.5,1265.6 1491.0,1254.1 1501.5,1212.7 1512.0,1211.4 1522.5,1196.1 1533.0,1214.3 1543.5,1234.2 1554.0,1256.4 1564.5,1245.1 1575.0,1208.1 1585.5,1191.7 1596.0,1199.8 1606.5,1201.6 1617.0,1220.6 1627.5,1240.3 1638.0,1233.7 1648.5,1179.7 1659.0,1172.1 1669.5,1176.1 1680.0,1195.8 1690.5,1216.9 1701.0,1256.5 1711.5,1231.4 1722.0,1194.0 1732.5,1194.2 1743.0,1182.7 1753.5,1206.8 1764.0,1207.7 1774.5,1244.4 1785.0,1211.8 1795.5,1174.7 1806.0,1167.2 1816.5,1174.3 1827.0,1175.8 1837.5,1208.9 1848.0,1244.8 1858.5,1208.3 1869.0,1161.0 1879.5,1168.8 1890.0,1185.9 1900.5,1207.8 1911.0,1195.9 1911.0,1206.7 1900.5,1217.3 1890.0,1197.9 1879.5,1182.8 1869.0,1175.9 1858.5,1217.4 1848.0,1249.6 1837.5,1216.9 1827.0,1186.5 1816.5,1184.5 1806.0,1177.3 1795.5,1184.7 1785.0,1218.9 1774.5,1248.7 1764.0,1215.8 1753.5,1215.3 1743.0,1194.1 1732.5,1204.8 1722.0,1205.1 1711.5,1238.1 1701.0,1260.4 1690.5,1225.1 1680.0,1206.2 1669.5,1188.4 1659.0,1184.8 1648.5,1191.5 1638.0,1239.8 1627.5,1245.7 1617.0,1228.0 1606.5,1211.0 1596.0,1209.4 1585.5,1202.1 1575.0,1216.9 1564.5,1250.0 1554.0,1260.1 1543.5,1240.4 1533.0,1222.6 1522.5,1206.5 1512.0,1220.1 1501.5,1221.3 1491.0,1258.2 1480.5,1268.4 1470.0,1255.4 1459.5,1242.8 1449.0,1243.1 1438.5,1245.6 1428.0,1246.9 1417.5,1261.6 1407.0,1272.3 1396.5,1253.3 1386.0,1237.3 1375.5,1230.6 1365.0,1232.1 1354.5,1219.5 1344.0,1246.2 1333.5,1266.5 1323.0,1238.7 1312.5,1234.1 1302.0,1227.7 1291.5,1226.0 1281.0,1240.5 1270.5,1266.6 1260.0,1270.1 1249.5,1267.5 1239.0,1260.8 1228.5,1258.8 1218.0,1255.4 1207.5,1256.6 1197.0,1273.8 1186.5,1277.9 1176.0,1264.6 1165.5,1257.0 1155.0,1247.9 1144.5,1253.6 1134.0,1257.1 1123.5,1265.3 1113.0,1273.1 1102.5,1264.3 1092.0,1256.2 1081.5,1244.3 1071.0,1247.6 1060.5,1260.9 1050.0,1273.1 1039.5,1276.1 1029.0,1264.0 1018.5,1256.9 1008.0,1250.4 997.5,1247.0 987.0,1258.2 976.5,1268.4 966.0,1280.0 955.5,1269.6 945.0,1269.0 934.5,1268.4 924.0,1271.2 913.5,1268.5 903.0,1279.0 892.5,1284.3 882.0,1277.3 871.5,1272.2 861.0,1272.1 850.5,1271.1 840.0,1270.8 829.5,1280.5 819.0,1283.4 808.5,1276.3 798.0,1277.2 787.5,1271.5 777.0,1266.8 766.5,1263.9 756.0,1278.5 745.5,1280.5 735.0,1268.6 724.5,1261.4 714.0,1251.0 703.5,1245.5 693.0,1236.7 682.5,1263.4 672.0,1266.7 661.5,1240.9 651.0,1226.1 640.5,1196.5 630.0,1241.3 619.5,1256.4 609.0,1275.5 598.5,1280.4 588.0,1265.6 577.5,1262.9 567.0,1260.9 556.5,1262.7 546.0,1258.2 535.5,1276.4 525.0,1278.6 514.5,1274.4 504.0,1260.0 493.5,1253.0 483.0,1260.4 472.5,1260.1 462.0,1280.3 451.5,1280.9 441.0,1267.0 430.5,1266.1 420.0,1268.0 409.5,1256.1 399.0,1254.5 388.5,1272.0 378.0,1281.6 367.5,1268.9 357.0,1272.9 346.5,1270.1 336.0,1279.6 325.5,1279.0 315.0,1291.0 304.5,1291.4" fill="#bb97f9"/><polygon points="304.5,1291.4 315.0,1291.0 325.5,1279.0 336.0,1278.3 346.5,1261.4 357.0,1255.9 367.5,1261.8 378.0,1281.6 388.5,1270.1 399.0,1246.4 409.5,1243.1 420.0,1260.4 430.5,1259.2 441.0,1262.1 451.5,1278.9 462.0,1278.4 472.5,1255.5 483.0,1256.4 493.5,1248.9 504.0,1256.8 514.5,1272.8 525.0,1277.5 535.5,1275.2 546.0,1255.8 556.5,1260.8 567.0,1259.0 577.5,1261.1 588.0,1264.1 598.5,1279.8 609.0,1275.0 619.5,1256.4 630.0,1241.3 640.5,1196.5 651.0,1225.7 661.5,1240.3 672.0,1266.3 682.5,1262.7 693.0,1235.1 703.5,1244.4 714.0,1250.2 724.5,1261.0 735.0,1268.4 745.5,1280.5 756.0,1278.5 766.5,1263.9 777.0,1266.8 787.5,1271.5 798.0,1277.0 808.5,1275.9 819.0,1283.0 829.5,1279.8 840.0,1269.1 850.5,1268.8 861.0,1269.9 871.5,1270.1 882.0,1275.7 892.5,1283.5 903.0,1277.6 913.5,1265.9 924.0,1268.9 934.5,1265.8 945.0,1266.8 955.5,1267.7 966.0,1279.1 976.5,1266.8 987.0,1256.1 997.5,1244.5 1008.0,1247.9 1018.5,1254.9 1029.0,1262.0 1039.5,1274.7 1050.0,1271.3 1060.5,1257.3 1071.0,1241.0 1081.5,1238.4 1092.0,1252.4 1102.5,1261.0 1113.0,1270.6 1123.5,1261.3 1134.0,1251.4 1144.5,1246.7 1155.0,1239.5 1165.5,1245.5 1176.0,1251.4 1186.5,1268.8 1197.0,1258.2 1207.5,1217.1 1218.0,1220.6 1228.5,1231.8 1239.0,1239.0 1249.5,1252.8 1260.0,1257.9 1270.5,1253.1 1281.0,1214.3 1291.5,1194.1 1302.0,1196.9 1312.5,1206.6 1323.0,1213.7 1333.5,1254.8 1344.0,1225.1 1354.5,1186.3 1365.0,1204.3 1375.5,1201.6 1386.0,1211.2 1396.5,1234.5 1407.0,1262.6 1417.5,1246.4 1428.0,1223.7 1438.5,1221.3 1449.0,1218.6 1459.5,1219.4 1470.0,1238.8 1480.5,1258.3 1491.0,1244.3 1501.5,1193.2 1512.0,1192.8 1522.5,1175.4 1533.0,1197.6 1543.5,1222.0 1554.0,1248.9 1564.5,1235.3 1575.0,1190.7 1585.5,1170.9 1596.0,1181.9 1606.5,1185.2 1617.0,1208.4 1627.5,1232.1 1638.0,1225.1 1648.5,1164.2 1659.0,1156.9 1669.5,1159.5 1680.0,1180.5 1690.5,1203.7 1701.0,1249.8 1711.5,1218.8 1722.0,1171.8 1732.5,1173.4 1743.0,1160.9 1753.5,1190.9 1764.0,1193.0 1774.5,1236.7 1785.0,1199.7 1795.5,1158.2 1806.0,1150.9 1816.5,1159.6 1827.0,1162.0 1837.5,1199.4 1848.0,1239.7 1858.5,1199.7 1869.0,1148.2 1879.5,1156.8 1890.0,1175.7 1900.5,1199.7 1911.0,1186.7 1911.0,1195.9 1900.5,1207.8 1890.0,1185.9 1879.5,1168.8 1869.0,1161.0 1858.5,1208.3 1848.0,1244.8 1837.5,1208.9 1827.0,1175.8 1816.5,1174.3 1806.0,1167.2 1795.5,1174.7 1785.0,1211.8 1774.5,1244.4 1764.0,1207.7 1753.5,1206.8 1743.0,1182.7 1732.5,1194.2 1722.0,1194.0 1711.5,1231.4 1701.0,1256.5 1690.5,1216.9 1680.0,1195.8 1669.5,1176.1 1659.0,1172.1 1648.5,1179.7 1638.0,1233.7 1627.5,1240.3 1617.0,1220.6 1606.5,1201.6 1596.0,1199.8 1585.5,1191.7 1575.0,1208.1 1564.5,1245.1 1554.0,1256.4 1543.5,1234.2 1533.0,1214.3 1522.5,1196.1 1512.0,1211.4 1501.5,1212.7 1491.0,1254.1 1480.5,1265.6 1470.0,1250.9 1459.5,1236.8 1449.0,1237.1 1438.5,1239.9 1428.0,1241.3 1417.5,1257.9 1407.0,1269.8 1396.5,1248.4 1386.0,1230.5 1375.5,1222.9 1365.0,1224.5 1354.5,1210.3 1344.0,1240.4 1333.5,1263.4 1323.0,1232.1 1312.5,1227.0 1302.0,1219.9 1291.5,1218.0 1281.0,1234.2 1270.5,1263.4 1260.0,1267.4 1249.5,1264.4 1239.0,1256.3 1228.5,1253.3 1218.0,1248.4 1207.5,1248.7 1197.0,1270.4 1186.5,1275.7 1176.0,1260.9 1165.5,1253.0 1155.0,1243.7 1144.5,1249.8 1134.0,1253.7 1123.5,1262.6 1113.0,1271.2 1102.5,1261.4 1092.0,1252.4 1081.5,1238.4 1071.0,1241.0 1060.5,1257.3 1050.0,1271.3 1039.5,1274.7 1029.0,1262.0 1018.5,1254.9 1008.0,1247.9 997.5,1244.5 987.0,1256.1 976.5,1266.8 966.0,1279.1 955.5,1267.7 945.0,1266.8 934.5,1265.8 924.0,1268.9 913.5,1265.9 903.0,1277.6 892.5,1283.5 882.0,1275.7 871.5,1270.1 861.0,1269.9 850.5,1268.8 840.0,1269.1 829.5,1279.8 819.0,1283.0 808.5,1275.9 798.0,1277.0 787.5,1271.5 777.0,1266.8 766.5,1263.9 756.0,1278.5 745.5,1280.5 735.0,1268.4 724.5,1261.0 714.0,1250.2 703.5,1244.4 693.0,1235.1 682.5,1262.7 672.0,1266.3 661.5,1240.3 651.0,1225.7 640.5,1196.5 630.0,1241.3 619.5,1256.4 609.0,1275.0 598.5,1279.8 588.0,1264.1 577.5,1261.1 567.0,1259.0 556.5,1260.8 546.0,1255.8 535.5,1275.2 525.0,1277.5 514.5,1272.8 504.0,1256.8 493.5,1248.9 483.0,1256.4 472.5,1255.5 462.0,1278.4 451.5,1278.9 441.0,1262.1 430.5,1259.2 420.0,1260.4 409.5,1243.1 399.0,1246.4 388.5,1270.1 378.0,1281.6 367.5,1261.8 357.0,1255.9 346.5,1261.4 336.0,1278.3 325.5,1279.0 315.0,1291.0 304.5,1291.4" fill="#ff9b86"/><polygon points="304.5,1291.4 315.0,1291.0 325.5,1279.0 336.0,1278.3 346.5,1261.4 357.0,1255.9 367.5,1261.8 378.0,1281.6 388.5,1270.1 399.0,1246.4 409.5,1243.1 420.0,1260.4 430.5,1259.2 441.0,1262.1 451.5,1278.9 462.0,1278.4 472.5,1255.5 483.0,1256.4 493.5,1248.9 504.0,1256.8 514.5,1272.8 525.0,1277.5 535.5,1275.2 546.0,1255.8 556.5,1260.8 567.0,1259.0 577.5,1261.1 588.0,1264.1 598.5,1279.8 609.0,1275.0 619.5,1256.4 630.0,1241.3 640.5,1196.5 651.0,1225.7 661.5,1240.3 672.0,1266.3 682.5,1262.7 693.0,1235.1 703.5,1244.4 714.0,1250.2 724.5,1261.0 735.0,1268.4 745.5,1280.5 756.0,1278.5 766.5,1263.9 777.0,1266.8 787.5,1271.5 798.0,1277.0 808.5,1275.9 819.0,1283.0 829.5,1279.8 840.0,1269.1 850.5,1268.8 861.0,1269.9 871.5,1270.1 882.0,1275.7 892.5,1283.5 903.0,1277.6 913.5,1265.9 924.0,1268.9 934.5,1265.8 945.0,1266.8 955.5,1267.7 966.0,1279.1 976.5,1266.8 987.0,1256.1 997.5,1244.5 1008.0,1246.7 1018.5,1252.8 1029.0,1258.2 1039.5,1271.3 1050.0,1257.7 1060.5,1210.2 1071.0,1109.7 1081.5,1130.4 1092.0,1189.5 1102.5,1217.4 1113.0,1244.3 1123.5,1228.1 1134.0,1213.3 1144.5,1210.6 1155.0,1204.5 1165.5,1217.2 1176.0,1228.9 1186.5,1257.2 1197.0,1242.7 1207.5,1185.4 1218.0,1196.1 1228.5,1215.9 1239.0,1228.9 1249.5,1248.2 1260.0,1254.3 1270.5,1249.3 1281.0,1207.4 1291.5,1186.1 1302.0,1189.4 1312.5,1200.0 1323.0,1207.8 1333.5,1252.1 1344.0,1220.3 1354.5,1179.0 1365.0,1198.3 1375.5,1195.5 1386.0,1205.8 1396.5,1230.7 1407.0,1260.8 1417.5,1243.6 1428.0,1219.5 1438.5,1217.0 1449.0,1213.9 1459.5,1214.5 1470.0,1235.0 1480.5,1255.8 1491.0,1240.6 1501.5,1185.1 1512.0,1184.3 1522.5,1165.1 1533.0,1189.3 1543.5,1215.9 1554.0,1245.2 1564.5,1230.4 1575.0,1181.9 1585.5,1160.5 1596.0,1172.6 1606.5,1176.3 1617.0,1201.6 1627.5,1227.3 1638.0,1219.9 1648.5,1154.4 1659.0,1146.6 1669.5,1149.7 1680.0,1172.6 1690.5,1197.7 1701.0,1247.0 1711.5,1214.1 1722.0,1164.4 1732.5,1166.0 1743.0,1152.5 1753.5,1184.3 1764.0,1186.4 1774.5,1232.9 1785.0,1193.3 1795.5,1148.8 1806.0,1140.8 1816.5,1150.0 1827.0,1152.5 1837.5,1192.7 1848.0,1235.9 1858.5,1192.9 1869.0,1137.5 1879.5,1146.4 1890.0,1166.3 1900.5,1192.0 1911.0,1177.5 1911.0,1186.7 1900.5,1199.7 1890.0,1175.7 1879.5,1156.8 1869.0,1148.2 1858.5,1199.7 1848.0,1239.7 1837.5,1199.4 1827.0,1162.0 1816.5,1159.6 1806.0,1150.9 1795.5,1158.2 1785.0,1199.7 1774.5,1236.7 1764.0,1193.0 1753.5,1190.9 1743.0,1160.9 1732.5,1173.4 1722.0,1171.8 1711.5,1218.8 1701.0,1249.8 1690.5,1203.7 1680.0,1180.5 1669.5,1159.5 1659.0,1156.9 1648.5,1164.2 1638.0,1225.1 1627.5,1232.1 1617.0,1208.4 1606.5,1185.2 1596.0,1181.9 1585.5,1170.9 1575.0,1190.7 1564.5,1235.3 1554.0,1248.9 1543.5,1222.0 1533.0,1197.6 1522.5,1175.4 1512.0,1192.8 1501.5,1193.2 1491.0,1244.3 1480.5,1258.3 1470.0,1238.8 1459.5,1219.4 1449.0,1218.6 1438.5,1221.3 1428.0,1223.7 1417.5,1246.4 1407.0,1262.6 1396.5,1234.5 1386.0,1211.2 1375.5,1201.6 1365.0,1204.3 1354.5,1186.3 1344.0,1225.1 1333.5,1254.8 1323.0,1213.7 1312.5,1206.6 1302.0,1196.9 1291.5,1194.1 1281.0,1214.3 1270.5,1253.1 1260.0,1257.9 1249.5,1252.8 1239.0,1239.0 1228.5,1231.8 1218.0,1220.6 1207.5,1217.1 1197.0,1258.2 1186.5,1268.8 1176.0,1251.4 1165.5,1245.5 1155.0,1239.5 1144.5,1246.7 1134.0,1251.4 1123.5,1261.3 1113.0,1270.6 1102.5,1261.0 1092.0,1252.4 1081.5,1238.4 1071.0,1241.0 1060.5,1257.3 1050.0,1271.3 1039.5,1274.7 1029.0,1262.0 1018.5,1254.9 1008.0,1247.9 997.5,1244.5 987.0,1256.1 976.5,1266.8 966.0,1279.1 955.5,1267.7 945.0,1266.8 934.5,1265.8 924.0,1268.9 913.5,1265.9 903.0,1277.6 892.5,1283.5 882.0,1275.7 871.5,1270.1 861.0,1269.9 850.5,1268.8 840.0,1269.1 829.5,1279.8 819.0,1283.0 808.5,1275.9 798.0,1277.0 787.5,1271.5 777.0,1266.8 766.5,1263.9 756.0,1278.5 745.5,1280.5 735.0,1268.4 724.5,1261.0 714.0,1250.2 703.5,1244.4 693.0,1235.1 682.5,1262.7 672.0,1266.3 661.5,1240.3 651.0,1225.7 640.5,1196.5 630.0,1241.3 619.5,1256.4 609.0,1275.0 598.5,1279.8 588.0,1264.1 577.5,1261.1 567.0,1259.0 556.5,1260.8 546.0,1255.8 535.5,1275.2 525.0,1277.5 514.5,1272.8 504.0,1256.8 493.5,1248.9 483.0,1256.4 472.5,1255.5 462.0,1278.4 451.5,1278.9 441.0,1262.1 430.5,1259.2 420.0,1260.4 409.5,1243.1 399.0,1246.4 388.5,1270.1 378.0,1281.6 367.5,1261.8 357.0,1255.9 346.5,1261.4 336.0,1278.3 325.5,1279.0 315.0,1291.0 304.5,1291.4" fill="#8fdedf"/><polygon points="304.5,1291.4 315.0,1291.0 325.5,1279.0 336.0,1278.3 346.5,1261.4 357.0,1255.9 367.5,1261.8 378.0,1281.6 388.5,1270.1 399.0,1246.4 409.5,1243.1 420.0,1260.4 430.5,1259.2 441.0,1262.1 451.5,1278.9 462.0,1278.4 472.5,1255.5 483.0,1256.4 493.5,1248.9 504.0,1256.8 514.5,1272.8 525.0,1277.5 535.5,1275.2 546.0,1255.8 556.5,1260.8 567.0,1259.0 577.5,1261.1 588.0,1264.1 598.5,1279.8 609.0,1275.0 619.5,1256.4 630.0,1240.9 640.5,1195.2 651.0,1225.0 661.5,1239.9 672.0,1266.1 682.5,1262.6 693.0,1235.1 703.5,1244.4 714.0,1250.2 724.5,1261.0 735.0,1268.4 745.5,1280.5 756.0,1278.5 766.5,1263.9 777.0,1266.8 787.5,1271.5 798.0,1276.3 808.5,1274.4 819.0,1281.7 829.5,1277.4 840.0,1263.1 850.5,1261.3 861.0,1263.2 871.5,1263.8 882.0,1271.4 892.5,1281.4 903.0,1274.2 913.5,1260.0 924.0,1264.0 934.5,1260.5 945.0,1262.4 955.5,1263.9 966.0,1277.1 976.5,1262.6 987.0,1249.8 997.5,1235.9 1008.0,1239.9 1018.5,1248.0 1029.0,1253.8 1039.5,1268.5 1050.0,1254.3 1060.5,1204.4 1071.0,1100.9 1081.5,1121.6 1092.0,1183.2 1102.5,1212.3 1113.0,1240.8 1123.5,1222.8 1134.0,1206.0 1144.5,1202.3 1155.0,1194.7 1165.5,1208.3 1176.0,1220.9 1186.5,1252.6 1197.0,1235.8 1207.5,1169.6 1218.0,1182.8 1228.5,1206.0 1239.0,1221.5 1249.5,1243.5 1260.0,1250.1 1270.5,1244.5 1281.0,1197.4 1291.5,1173.4 1302.0,1177.1 1312.5,1189.1 1323.0,1197.9 1333.5,1247.5 1344.0,1212.1 1354.5,1166.1 1365.0,1187.2 1375.5,1183.7 1386.0,1194.8 1396.5,1222.7 1407.0,1256.6 1417.5,1236.7 1428.0,1208.8 1438.5,1205.5 1449.0,1202.0 1459.5,1202.8 1470.0,1226.4 1480.5,1250.5 1491.0,1233.0 1501.5,1169.2 1512.0,1168.5 1522.5,1146.4 1533.0,1174.0 1543.5,1204.4 1554.0,1238.1 1564.5,1221.0 1575.0,1164.7 1585.5,1139.8 1596.0,1153.9 1606.5,1158.4 1617.0,1187.7 1627.5,1217.5 1638.0,1209.0 1648.5,1133.6 1659.0,1124.8 1669.5,1127.8 1680.0,1153.7 1690.5,1182.4 1701.0,1239.6 1711.5,1200.9 1722.0,1142.3 1732.5,1144.7 1743.0,1129.7 1753.5,1167.3 1764.0,1170.2 1774.5,1224.2 1785.0,1179.1 1795.5,1128.9 1806.0,1120.5 1816.5,1128.3 1827.0,1128.6 1837.5,1173.8 1848.0,1224.3 1858.5,1170.3 1869.0,1099.2 1879.5,1109.4 1890.0,1133.8 1900.5,1165.6 1911.0,1146.8 1911.0,1177.5 1900.5,1192.0 1890.0,1166.3 1879.5,1146.4 1869.0,1137.5 1858.5,1192.9 1848.0,1235.9 1837.5,1192.7 1827.0,1152.5 1816.5,1150.0 1806.0,1140.8 1795.5,1148.8 1785.0,1193.3 1774.5,1232.9 1764.0,1186.4 1753.5,1184.3 1743.0,1152.5 1732.5,1166.0 1722.0,1164.4 1711.5,1214.1 1701.0,1247.0 1690.5,1197.7 1680.0,1172.6 1669.5,1149.7 1659.0,1146.6 1648.5,1154.4 1638.0,1219.9 1627.5,1227.3 1617.0,1201.6 1606.5,1176.3 1596.0,1172.6 1585.5,1160.5 1575.0,1181.9 1564.5,1230.4 1554.0,1245.2 1543.5,1215.9 1533.0,1189.3 1522.5,1165.1 1512.0,1184.3 1501.5,1185.1 1491.0,1240.6 1480.5,1255.8 1470.0,1235.0 1459.5,1214.5 1449.0,1213.9 1438.5,1217.0 1428.0,1219.5 1417.5,1243.6 1407.0,1260.8 1396.5,1230.7 1386.0,1205.8 1375.5,1195.5 1365.0,1198.3 1354.5,1179.0 1344.0,1220.3 1333.5,1252.1 1323.0,1207.8 1312.5,1200.0 1302.0,1189.4 1291.5,1186.1 1281.0,1207.4 1270.5,1249.3 1260.0,1254.3 1249.5,1248.2 1239.0,1228.9 1228.5,1215.9 1218.0,1196.1 1207.5,1185.4 1197.0,1242.7 1186.5,1257.2 1176.0,1228.9 1165.5,1217.2 1155.0,1204.5 1144.5,1210.6 1134.0,1213.3 1123.5,1228.1 1113.0,1244.3 1102.5,1217.4 1092.0,1189.5 1081.5,1130.4 1071.0,1109.7 1060.5,1210.2 1050.0,1257.7 1039.5,1271.3 1029.0,1258.2 1018.5,1252.8 1008.0,1246.7 997.5,1244.5 987.0,1256.1 976.5,1266.8 966.0,1279.1 955.5,1267.7 945.0,1266.8 934.5,1265.8 924.0,1268.9 913.5,1265.9 903.0,1277.6 892.5,1283.5 882.0,1275.7 871.5,1270.1 861.0,1269.9 850.5,1268.8 840.0,1269.1 829.5,1279.8 819.0,1283.0 808.5,1275.9 798.0,1277.0 787.5,1271.5 777.0,1266.8 766.5,1263.9 756.0,1278.5 745.5,1280.5 735.0,1268.4 724.5,1261.0 714.0,1250.2 703.5,1244.4 693.0,1235.1 682.5,1262.7 672.0,1266.3 661.5,1240.3 651.0,1225.7 640.5,1196.5 630.0,1241.3 619.5,1256.4 609.0,1275.0 598.5,1279.8 588.0,1264.1 577.5,1261.1 567.0,1259.0 556.5,1260.8 546.0,1255.8 535.5,1275.2 525.0,1277.5 514.5,1272.8 504.0,1256.8 493.5,1248.9 483.0,1256.4 472.5,1255.5 462.0,1278.4 451.5,1278.9 441.0,1262.1 430.5,1259.2 420.0,1260.4 409.5,1243.1 399.0,1246.4 388.5,1270.1 378.0,1281.6 367.5,1261.8 357.0,1255.9 346.5,1261.4 336.0,1278.3 325.5,1279.0 315.0,1291.0 304.5,1291.4" fill="#a05ec5"/><polygon points="304.5,1291.4 315.0,1291.0 325.5,1279.0 336.0,1278.3 346.5,1261.4 357.0,1255.9 367.5,1261.8 378.0,1281.6 388.5,1270.1 399.0,1246.4 409.5,1243.1 420.0,1260.4 430.5,1259.2 441.0,1262.1 451.5,1278.8 462.0,1278.2 472.5,1254.3 483.0,1254.8 493.5,1246.4 504.0,1254.6 514.5,1271.5 525.0,1276.5 535.5,1273.9 546.0,1252.8 556.5,1258.3 567.0,1256.4 577.5,1258.8 588.0,1262.1 598.5,1278.9 609.0,1274.0 619.5,1254.3 630.0,1238.9 640.5,1192.6 651.0,1223.0 661.5,1238.1 672.0,1265.2 682.5,1261.4 693.0,1232.5 703.5,1241.9 714.0,1247.8 724.5,1259.0 735.0,1266.7 745.5,1279.6 756.0,1277.5 766.5,1261.7 777.0,1264.8 787.5,1269.8 798.0,1275.0 808.5,1272.7 819.0,1280.7 829.5,1275.8 840.0,1259.7 850.5,1257.5 861.0,1259.5 871.5,1260.0 882.0,1268.5 892.5,1280.0 903.0,1271.5 913.5,1254.9 924.0,1259.5 934.5,1255.3 945.0,1258.8 955.5,1261.5 966.0,1276.0 976.5,1260.5 987.0,1247.0 997.5,1232.5 1008.0,1237.1 1018.5,1245.9 1029.0,1251.8 1039.5,1267.1 1050.0,1252.3 1060.5,1200.0 1071.0,1092.2 1081.5,1112.8 1092.0,1177.0 1102.5,1207.1 1113.0,1237.0 1123.5,1217.0 1134.0,1198.0 1144.5,1193.0 1155.0,1183.5 1165.5,1199.1 1176.0,1213.5 1186.5,1248.7 1197.0,1230.4 1207.5,1158.5 1218.0,1172.1 1228.5,1196.8 1239.0,1213.2 1249.5,1237.4 1260.0,1245.1 1270.5,1238.9 1281.0,1186.9 1291.5,1160.6 1302.0,1164.6 1312.5,1177.7 1323.0,1187.4 1333.5,1242.5 1344.0,1202.9 1354.5,1151.3 1365.0,1174.4 1375.5,1169.8 1386.0,1181.8 1396.5,1213.0 1407.0,1251.4 1417.5,1228.3 1428.0,1195.6 1438.5,1191.2 1449.0,1187.4 1459.5,1188.6 1470.0,1216.2 1480.5,1244.2 1491.0,1224.1 1501.5,1151.1 1512.0,1150.6 1522.5,1125.7 1533.0,1157.4 1543.5,1192.2 1554.0,1230.7 1564.5,1211.2 1575.0,1147.3 1585.5,1119.0 1596.0,1135.0 1606.5,1140.1 1617.0,1173.5 1627.5,1207.3 1638.0,1197.7 1648.5,1111.9 1659.0,1101.9 1669.5,1106.4 1680.0,1136.6 1690.5,1169.5 1701.0,1233.9 1711.5,1191.4 1722.0,1127.5 1732.5,1130.3 1743.0,1113.9 1753.5,1155.2 1764.0,1158.4 1774.5,1217.7 1785.0,1168.4 1795.5,1113.4 1806.0,1104.3 1816.5,1114.0 1827.0,1115.4 1837.5,1165.0 1848.0,1219.7 1858.5,1162.8 1869.0,1088.5 1879.5,1100.5 1890.0,1127.0 1900.5,1160.9 1911.0,1142.2 1911.0,1146.8 1900.5,1165.6 1890.0,1133.8 1879.5,1109.4 1869.0,1099.2 1858.5,1170.3 1848.0,1224.3 1837.5,1173.8 1827.0,1128.6 1816.5,1128.3 1806.0,1120.5 1795.5,1128.9 1785.0,1179.1 1774.5,1224.2 1764.0,1170.2 1753.5,1167.3 1743.0,1129.7 1732.5,1144.7 1722.0,1142.3 1711.5,1200.9 1701.0,1239.6 1690.5,1182.4 1680.0,1153.7 1669.5,1127.8 1659.0,1124.8 1648.5,1133.6 1638.0,1209.0 1627.5,1217.5 1617.0,1187.7 1606.5,1158.4 1596.0,1153.9 1585.5,1139.8 1575.0,1164.7 1564.5,1221.0 1554.0,1238.1 1543.5,1204.4 1533.0,1174.0 1522.5,1146.4 1512.0,1168.5 1501.5,1169.2 1491.0,1233.0 1480.5,1250.5 1470.0,1226.4 1459.5,1202.8 1449.0,1202.0 1438.5,1205.5 1428.0,1208.8 1417.5,1236.7 1407.0,1256.6 1396.5,1222.7 1386.0,1194.8 1375.5,1183.7 1365.0,1187.2 1354.5,1166.1 1344.0,1212.1 1333.5,1247.5 1323.0,1197.9 1312.5,1189.1 1302.0,1177.1 1291.5,1173.4 1281.0,1197.4 1270.5,1244.5 1260.0,1250.1 1249.5,1243.5 1239.0,1221.5 1228.5,1206.0 1218.0,1182.8 1207.5,1169.6 1197.0,1235.8 1186.5,1252.6 1176.0,1220.9 1165.5,1208.3 1155.0,1194.7 1144.5,1202.3 1134.0,1206.0 1123.5,1222.8 1113.0,1240.8 1102.5,1212.3 1092.0,1183.2 1081.5,1121.6 1071.0,1100.9 1060.5,1204.4 1050.0,1254.3 1039.5,1268.5 1029.0,1253.8 1018.5,1248.0 1008.0,1239.9 997.5,1235.9 987.0,1249.8 976.5,1262.6 966.0,1277.1 955.5,1263.9 945.0,1262.4 934.5,1260.5 924.0,1264.0 913.5,1260.0 903.0,1274.2 892.5,1281.4 882.0,1271.4 871.5,1263.8 861.0,1263.2 850.5,1261.3 840.0,1263.1 829.5,1277.4 819.0,1281.7 808.5,1274.4 798.0,1276.3 787.5,1271.5 777.0,1266.8 766.5,1263.9 756.0,1278.5 745.5,1280.5 735.0,1268.4 724.5,1261.0 714.0,1250.2 703.5,1244.4 693.0,1235.1 682.5,1262.6 672.0,1266.1 661.5,1239.9 651.0,1225.0 640.5,1195.2 630.0,1240.9 619.5,1256.4 609.0,1275.0 598.5,1279.8 588.0,1264.1 577.5,1261.1 567.0,1259.0 556.5,1260.8 546.0,1255.8 535.5,1275.2 525.0,1277.5 514.5,1272.8 504.0,1256.8 493.5,1248.9 483.0,1256.4 472.5,1255.5 462.0,1278.4 451.5,1278.9 441.0,1262.1 430.5,1259.2 420.0,1260.4 409.5,1243.1 399.0,1246.4 388.5,1270.1 378.0,1281.6 367.5,1261.8 357.0,1255.9 346.5,1261.4 336.0,1278.3 325.5,1279.0 315.0,1291.0 304.5,1291.4" fill="#b1ce6c"/><polygon points="304.5,1291.4 315.0,1291.0 325.5,1279.0 336.0,1278.3 346.5,1261.4 357.0,1255.9 367.5,1261.8 378.0,1281.6 388.5,1270.1 399.0,1246.4 409.5,1243.1 420.0,1255.6 430.5,1247.5 441.0,1242.5 451.5,1270.0 462.0,1268.4 472.5,1225.6 483.0,1225.1 493.5,1208.0 504.0,1222.3 514.5,1253.4 525.0,1262.5 535.5,1257.0 546.0,1214.1 556.5,1227.7 567.0,1226.6 577.5,1233.2 588.0,1240.9 598.5,1270.6 609.0,1261.1 619.5,1224.0 630.0,1211.3 640.5,1161.4 651.0,1199.9 661.5,1219.0 672.0,1255.2 682.5,1249.3 693.0,1207.3 703.5,1219.7 714.0,1227.3 724.5,1243.0 735.0,1254.0 745.5,1273.2 756.0,1267.7 766.5,1234.8 777.0,1233.9 787.5,1237.5 798.0,1251.2 808.5,1246.6 819.0,1266.3 829.5,1255.4 840.0,1219.7 850.5,1216.1 861.0,1222.4 871.5,1225.2 882.0,1244.4 892.5,1268.5 903.0,1252.6 913.5,1221.9 924.0,1232.0 934.5,1225.7 945.0,1234.8 955.5,1241.6 966.0,1266.3 976.5,1242.2 987.0,1222.4 997.5,1201.8 1008.0,1207.3 1018.5,1219.7 1029.0,1232.0 1039.5,1256.7 1050.0,1240.3 1060.5,1181.2 1071.0,1068.1 1081.5,1089.2 1092.0,1160.6 1102.5,1192.0 1113.0,1225.2 1123.5,1198.0 1134.0,1170.2 1144.5,1159.3 1155.0,1141.4 1165.5,1166.1 1176.0,1188.1 1186.5,1236.1 1197.0,1214.2 1207.5,1126.9 1218.0,1138.7 1228.5,1166.1 1239.0,1184.0 1249.5,1214.2 1260.0,1227.3 1270.5,1221.0 1281.0,1155.1 1291.5,1125.5 1302.0,1129.6 1312.5,1145.5 1323.0,1157.1 1333.5,1227.9 1344.0,1175.7 1354.5,1107.1 1365.0,1135.9 1375.5,1128.2 1386.0,1142.8 1396.5,1184.0 1407.0,1236.1 1417.5,1203.2 1428.0,1156.0 1438.5,1148.3 1449.0,1145.5 1459.5,1149.6 1470.0,1189.5 1480.5,1228.4 1491.0,1203.2 1501.5,1110.4 1512.0,1112.6 1522.5,1084.3 1533.0,1124.9 1543.5,1168.9 1554.0,1216.9 1564.5,1193.6 1575.0,1116.7 1585.5,1083.7 1596.0,1104.3 1606.5,1111.6 1617.0,1152.2 1627.5,1192.8 1638.0,1182.2 1648.5,1083.7 1659.0,1073.6 1669.5,1079.2 1680.0,1114.2 1690.5,1152.2 1701.0,1225.8 1711.5,1177.6 1722.0,1105.3 1732.5,1108.6 1743.0,1090.1 1753.5,1137.0 1764.0,1140.8 1774.5,1208.0 1785.0,1152.2 1795.5,1090.1 1806.0,1079.9 1816.5,1092.6 1827.0,1095.9 1837.5,1152.2 1848.0,1213.1 1858.5,1152.2 1869.0,1073.6 1879.5,1087.5 1890.0,1116.7 1900.5,1153.5 1911.0,1134.5 1911.0,1142.2 1900.5,1160.9 1890.0,1127.0 1879.5,1100.5 1869.0,1088.5 1858.5,1162.8 1848.0,1219.7 1837.5,1165.0 1827.0,1115.4 1816.5,1114.0 1806.0,1104.3 1795.5,1113.4 1785.0,1168.4 1774.5,1217.7 1764.0,1158.4 1753.5,1155.2 1743.0,1113.9 1732.5,1130.3 1722.0,1127.5 1711.5,1191.4 1701.0,1233.9 1690.5,1169.5 1680.0,1136.6 1669.5,1106.4 1659.0,1101.9 1648.5,1111.9 1638.0,1197.7 1627.5,1207.3 1617.0,1173.5 1606.5,1140.1 1596.0,1135.0 1585.5,1119.0 1575.0,1147.3 1564.5,1211.2 1554.0,1230.7 1543.5,1192.2 1533.0,1157.4 1522.5,1125.7 1512.0,1150.6 1501.5,1151.1 1491.0,1224.1 1480.5,1244.2 1470.0,1216.2 1459.5,1188.6 1449.0,1187.4 1438.5,1191.2 1428.0,1195.6 1417.5,1228.3 1407.0,1251.4 1396.5,1213.0 1386.0,1181.8 1375.5,1169.8 1365.0,1174.4 1354.5,1151.3 1344.0,1202.9 1333.5,1242.5 1323.0,1187.4 1312.5,1177.7 1302.0,1164.6 1291.5,1160.6 1281.0,1186.9 1270.5,1238.9 1260.0,1245.1 1249.5,1237.4 1239.0,1213.2 1228.5,1196.8 1218.0,1172.1 1207.5,1158.5 1197.0,1230.4 1186.5,1248.7 1176.0,1213.5 1165.5,1199.1 1155.0,1183.5 1144.5,1193.0 1134.0,1198.0 1123.5,1217.0 1113.0,1237.0 1102.5,1207.1 1092.0,1177.0 1081.5,1112.8 1071.0,1092.2 1060.5,1200.0 1050.0,1252.3 1039.5,1267.1 1029.0,1251.8 1018.5,1245.9 1008.0,1237.1 997.5,1232.5 987.0,1247.0 976.5,1260.5 966.0,1276.0 955.5,1261.5 945.0,1258.8 934.5,1255.3 924.0,1259.5 913.5,1254.9 903.0,1271.5 892.5,1280.0 882.0,1268.5 871.5,1260.0 861.0,1259.5 850.5,1257.5 840.0,1259.7 829.5,1275.8 819.0,1280.7 808.5,1272.7 798.0,1275.0 787.5,1269.8 777.0,1264.8 766.5,1261.7 756.0,1277.5 745.5,1279.6 735.0,1266.7 724.5,1259.0 714.0,1247.8 703.5,1241.9 693.0,1232.5 682.5,1261.4 672.0,1265.2 661.5,1238.1 651.0,1223.0 640.5,1192.6 630.0,1238.9 619.5,1254.3 609.0,1274.0 598.5,1278.9 588.0,1262.1 577.5,1258.8 567.0,1256.4 556.5,1258.3 546.0,1252.8 535.5,1273.9 525.0,1276.5 514.5,1271.5 504.0,1254.6 493.5,1246.4 483.0,1254.8 472.5,1254.3 462.0,1278.2 451.5,1278.8 441.0,1262.1 430.5,1259.2 420.0,1260.4 409.5,1243.1 399.0,1246.4 388.5,1270.1 378.0,1281.6 367.5,1261.8 357.0,1255.9 346.5,1261.4 336.0,1278.3 325.5,1279.0 315.0,1291.0 304.5,1291.4" fill="#669de9"/><polyline points="1039.5,1291.4 1050.0,1291.1 1060.5,1290.0 1071.0,1287.0 1081.5,1285.5 1092.0,1286.4 1102.5,1287.3 1113.0,1288.5 1123.5,1287.0 1134.0,1285.3 1144.5,1284.4 1155.0,1283.0 1165.5,1285.7 1176.0,1287.9 1186.5,1290.1 1197.0,1290.5 1207.5,1291.4" fill="none" stroke="#f7a0ec" stroke-width="1.3" stroke-linejoin="round"/><polyline points="1365.0,1291.2 1375.5,1291.0 1386.0,1290.8 1396.5,1290.9 1407.0,1291.1 1417.5,1290.7 1428.0,1290.2 1438.5,1290.0 1449.0,1289.8 1459.5,1289.6 1470.0,1290.0 1480.5,1290.5 1491.0,1290.0 1501.5,1288.2 1512.0,1288.0 1522.5,1287.3 1533.0,1288.1 1543.5,1289.0 1554.0,1289.9 1564.5,1289.4 1575.0,1287.9 1585.5,1287.2 1596.0,1287.3 1606.5,1287.0 1617.0,1287.7 1627.5,1288.6 1638.0,1288.0 1648.5,1284.6 1659.0,1283.8 1669.5,1284.5 1680.0,1286.1 1690.5,1287.6 1701.0,1289.8 1711.5,1288.9 1722.0,1287.7 1732.5,1287.8 1743.0,1287.4 1753.5,1288.4 1764.0,1288.5 1774.5,1289.8 1785.0,1288.7 1795.5,1287.5 1806.0,1287.3 1816.5,1287.6 1827.0,1287.6 1837.5,1288.7 1848.0,1289.9 1858.5,1288.7 1869.0,1287.1 1879.5,1287.4 1890.0,1288.0 1900.5,1288.7 1911.0,1288.3" fill="none" stroke="#f7a0ec" stroke-width="1.3" stroke-linejoin="round"/><polyline points="1155.0,1283.0 1165.5,1284.6 1176.0,1285.9 1186.5,1288.6 1197.0,1287.6 1207.5,1283.5 1218.0,1284.0 1228.5,1285.3 1239.0,1286.1 1249.5,1287.5 1260.0,1288.2 1270.5,1287.9 1281.0,1284.8 1291.5,1283.4 1302.0,1284.4 1312.5,1285.7 1323.0,1286.8 1333.5,1289.5 1344.0,1288.5 1354.5,1287.7 1365.0,1288.5 1375.5,1288.5 1386.0,1289.0 1396.5,1289.8 1407.0,1290.6 1417.5,1290.3 1428.0,1289.9 1438.5,1290.0" fill="none" stroke="#a16ff7" stroke-width="1.3" stroke-linejoin="round"/><polyline points="1522.5,1287.3 1533.0,1287.5 1543.5,1288.1 1554.0,1289.2 1564.5,1288.1 1575.0,1285.0 1585.5,1283.1 1596.0,1283.4 1606.5,1283.3 1617.0,1284.8 1627.5,1286.4 1638.0,1285.6 1648.5,1279.9 1659.0,1278.8 1669.5,1279.7 1680.0,1282.2 1690.5,1284.6 1701.0,1288.4 1711.5,1286.5 1722.0,1284.0 1732.5,1284.2 1743.0,1283.5 1753.5,1285.3 1764.0,1285.5 1774.5,1288.2 1785.0,1286.0 1795.5,1283.6 1806.0,1283.3 1816.5,1283.7 1827.0,1283.8 1837.5,1286.0 1848.0,1288.4 1858.5,1286.0 1869.0,1282.9 1879.5,1283.4 1890.0,1284.6 1900.5,1286.0 1911.0,1285.3" fill="none" stroke="#a16ff7" stroke-width="1.3" stroke-linejoin="round"/><polyline points="934.5,1291.4 945.0,1287.3 955.5,1284.3 966.0,1287.7 976.5,1283.9 987.0,1280.6 997.5,1276.9 1008.0,1278.5 1018.5,1281.1 1029.0,1284.7 1039.5,1288.6 1050.0,1288.4 1060.5,1287.0 1071.0,1287.0" fill="none" stroke="#ff7457" stroke-width="1.3" stroke-linejoin="round"/><polyline points="1365.0,1288.3 1375.5,1288.1 1386.0,1288.4 1396.5,1289.3 1407.0,1290.3 1417.5,1289.6 1428.0,1288.7 1438.5,1288.5 1449.0,1288.1 1459.5,1287.9 1470.0,1288.6 1480.5,1289.5 1491.0,1288.5 1501.5,1285.1 1512.0,1284.7 1522.5,1283.1 1533.0,1284.2 1543.5,1285.7 1554.0,1287.7 1564.5,1286.2 1575.0,1281.5 1585.5,1278.9 1596.0,1279.3 1606.5,1278.9 1617.0,1281.1 1627.5,1283.6 1638.0,1282.3 1648.5,1273.0 1659.0,1271.1 1669.5,1272.5 1680.0,1276.3 1690.5,1280.1 1701.0,1286.3 1711.5,1283.0 1722.0,1278.5 1732.5,1278.5 1743.0,1277.0 1753.5,1280.2 1764.0,1280.4 1774.5,1285.2 1785.0,1281.0 1795.5,1276.1 1806.0,1275.2 1816.5,1276.1 1827.0,1276.3 1837.5,1280.6 1848.0,1285.3 1858.5,1280.5 1869.0,1274.4 1879.5,1275.4 1890.0,1277.7 1900.5,1280.6 1911.0,1279.1" fill="none" stroke="#ff7457" stroke-width="1.3" stroke-linejoin="round"/><polyline points="829.5,1291.2 840.0,1290.8 850.5,1290.6 861.0,1290.4 871.5,1290.1 882.0,1290.2 892.5,1290.7 903.0,1290.0 913.5,1288.6 924.0,1288.7 934.5,1288.1 945.0,1285.0 955.5,1282.9 966.0,1287.0 976.5,1282.5 987.0,1278.6 997.5,1274.3 1008.0,1276.1 1018.5,1279.0 1029.0,1283.8 1039.5,1288.6 1050.0,1288.2 1060.5,1286.3 1071.0,1284.8 1081.5,1282.6 1092.0,1283.9 1102.5,1285.4 1113.0,1287.2 1123.5,1285.2 1134.0,1283.0 1144.5,1281.9 1155.0,1280.2 1165.5,1282.7 1176.0,1284.8 1186.5,1288.1 1197.0,1287.3" fill="none" stroke="#64d1d3" stroke-width="1.3" stroke-linejoin="round"/><polyline points="1249.5,1287.5 1260.0,1287.8 1270.5,1286.9 1281.0,1281.8 1291.5,1278.6 1302.0,1279.7 1312.5,1281.5 1323.0,1282.8 1333.5,1287.6 1344.0,1285.1 1354.5,1282.2 1365.0,1283.8 1375.5,1283.6 1386.0,1284.5 1396.5,1286.6 1407.0,1289.0 1417.5,1287.7 1428.0,1285.8 1438.5,1285.7 1449.0,1284.8 1459.5,1284.3 1470.0,1285.8 1480.5,1287.6 1491.0,1285.7 1501.5,1278.7 1512.0,1278.0 1522.5,1274.8 1533.0,1277.5 1543.5,1280.8 1554.0,1284.7 1564.5,1282.3 1575.0,1274.5 1585.5,1270.6 1596.0,1271.9 1606.5,1272.0 1617.0,1275.8 1627.5,1280.0 1638.0,1278.3 1648.5,1265.6 1659.0,1263.5 1669.5,1265.2 1680.0,1270.4 1690.5,1275.6 1701.0,1284.3 1711.5,1279.6 1722.0,1272.9 1732.5,1273.1 1743.0,1271.1 1753.5,1275.7 1764.0,1276.0 1774.5,1282.8 1785.0,1276.9 1795.5,1270.3 1806.0,1269.1 1816.5,1270.3 1827.0,1270.6 1837.5,1276.6 1848.0,1283.0 1858.5,1276.5 1869.0,1268.0 1879.5,1269.5 1890.0,1272.6 1900.5,1276.6 1911.0,1274.5" fill="none" stroke="#64d1d3" stroke-width="1.3" stroke-linejoin="round"/><polyline points="1039.5,1288.6 1050.0,1287.8 1060.5,1284.9 1071.0,1280.5 1081.5,1277.7 1092.0,1280.1 1102.5,1282.5 1113.0,1285.3 1123.5,1282.5 1134.0,1279.6 1144.5,1278.2 1155.0,1276.0 1165.5,1279.4 1176.0,1282.2 1186.5,1286.9 1197.0,1285.6 1207.5,1280.3 1218.0,1280.7 1228.5,1282.2 1239.0,1283.2 1249.5,1285.2 1260.0,1285.8 1270.5,1284.8 1281.0,1277.8 1291.5,1273.9 1302.0,1275.0 1312.5,1277.2 1323.0,1278.9 1333.5,1285.8 1344.0,1281.6 1354.5,1276.7 1365.0,1279.3 1375.5,1279.2 1386.0,1280.6 1396.5,1283.9 1407.0,1287.7 1417.5,1285.7 1428.0,1282.9 1438.5,1282.8 1449.0,1281.4 1459.5,1280.4 1470.0,1282.6 1480.5,1285.4 1491.0,1282.2 1501.5,1271.0 1512.0,1269.7 1522.5,1264.5 1533.0,1268.9 1543.5,1274.2 1554.0,1280.6 1564.5,1276.7 1575.0,1264.3 1585.5,1258.2 1596.0,1260.1 1606.5,1260.1 1617.0,1266.2 1627.5,1272.9 1638.0,1270.1 1648.5,1249.4 1659.0,1245.8 1669.5,1248.8 1680.0,1257.3 1690.5,1265.8 1701.0,1279.9 1711.5,1272.4 1722.0,1261.8 1732.5,1262.3 1743.0,1259.2 1753.5,1266.6 1764.0,1267.1 1774.5,1277.9 1785.0,1268.8 1795.5,1258.7 1806.0,1256.9 1816.5,1258.9 1827.0,1259.3 1837.5,1268.5 1848.0,1278.5 1858.5,1268.3 1869.0,1255.2 1879.5,1257.0 1890.0,1261.5 1900.5,1267.4 1911.0,1263.8" fill="none" stroke="#7b1fae" stroke-width="1.3" stroke-linejoin="round"/><polyline points="598.5,1291.4 609.0,1289.9 619.5,1284.7 630.0,1283.4 640.5,1278.4 651.0,1282.6 661.5,1284.7 672.0,1288.2 682.5,1287.9 693.0,1284.7 703.5,1286.1 714.0,1287.0 724.5,1288.4 735.0,1289.3 745.5,1290.5 756.0,1290.4 766.5,1289.4 777.0,1289.8 787.5,1290.3 798.0,1290.6 808.5,1290.5 819.0,1290.9 829.5,1290.7 840.0,1290.0 850.5,1289.9 861.0,1289.6 871.5,1289.2 882.0,1289.6 892.5,1290.4 903.0,1289.4 913.5,1287.4 924.0,1287.6 934.5,1286.8 945.0,1283.9 955.5,1281.9 966.0,1286.4 976.5,1281.3 987.0,1276.8 997.5,1271.8 1008.0,1273.7 1018.5,1276.9 1029.0,1281.8 1039.5,1287.2 1050.0,1286.3 1060.5,1282.7 1071.0,1278.3 1081.5,1274.7 1092.0,1277.6 1102.5,1280.6 1113.0,1284.0 1123.5,1280.8 1134.0,1277.3 1144.5,1275.7 1155.0,1273.2 1165.5,1277.5 1176.0,1281.1 1186.5,1286.5 1197.0,1285.3 1207.5,1280.3 1218.0,1279.9 1228.5,1281.0 1239.0,1281.6 1249.5,1283.7 1260.0,1284.4 1270.5,1283.1 1281.0,1274.2 1291.5,1269.1 1302.0,1270.3 1312.5,1272.9 1323.0,1274.9 1333.5,1283.9 1344.0,1278.2 1354.5,1271.1 1365.0,1274.9 1375.5,1274.7 1386.0,1276.7 1396.5,1281.2 1407.0,1286.4 1417.5,1283.7 1428.0,1280.1 1438.5,1280.0 1449.0,1278.3 1459.5,1277.2 1470.0,1280.2 1480.5,1283.8 1491.0,1279.9 1501.5,1266.1 1512.0,1264.6 1522.5,1258.3 1533.0,1263.9 1543.5,1270.6 1554.0,1278.4 1564.5,1273.8 1575.0,1259.1 1585.5,1251.9 1596.0,1254.7 1606.5,1255.1 1617.0,1262.4 1627.5,1270.3 1638.0,1267.4 1648.5,1244.4 1659.0,1240.8 1669.5,1243.7 1680.0,1252.8 1690.5,1262.1 1701.0,1278.1 1711.5,1269.1 1722.0,1256.3 1732.5,1256.8 1743.0,1253.3 1753.5,1262.1 1764.0,1262.7 1774.5,1275.5 1785.0,1264.8 1795.5,1252.8 1806.0,1250.8 1816.5,1252.8 1827.0,1253.0 1837.5,1263.7 1848.0,1275.7 1858.5,1263.1 1869.0,1246.6 1879.5,1249.0 1890.0,1254.6 1900.5,1262.1 1911.0,1257.6" fill="none" stroke="#93bb33" stroke-width="1.3" stroke-linejoin="round"/><polyline points="357.0,1291.4 367.5,1288.4 378.0,1289.4 388.5,1287.3 399.0,1283.0 409.5,1282.7 420.0,1284.7 430.5,1282.9 441.0,1281.6 451.5,1287.3 462.0,1287.2 472.5,1279.8 483.0,1280.3 493.5,1278.1 504.0,1281.0 514.5,1286.1 525.0,1287.6 535.5,1287.3 546.0,1282.9 556.5,1283.9 567.0,1283.2 577.5,1283.6 588.0,1284.2 598.5,1288.3 609.0,1287.0 619.5,1282.0 630.0,1281.0 640.5,1275.8 651.0,1280.4 661.5,1282.7 672.0,1287.1 682.5,1286.3 693.0,1281.3 703.5,1283.1 714.0,1284.2 724.5,1286.2 735.0,1287.5 745.5,1289.6 756.0,1289.4 766.5,1287.4 777.0,1288.2 787.5,1289.2 798.0,1289.8 808.5,1289.6 819.0,1290.4 829.5,1290.0 840.0,1288.5 850.5,1288.4 861.0,1288.1 871.5,1287.8 882.0,1288.5 892.5,1289.8 903.0,1288.4 913.5,1285.5 924.0,1285.9 934.5,1284.8 945.0,1282.3 955.5,1280.5 966.0,1285.7 976.5,1279.9 987.0,1274.8 997.5,1269.2 1008.0,1271.3 1018.5,1274.9 1029.0,1279.8 1039.5,1285.8 1050.0,1284.6 1060.5,1279.8 1071.0,1273.9 1081.5,1269.8 1092.0,1273.8 1102.5,1277.9 1113.0,1282.4 1123.5,1278.6 1134.0,1274.6 1144.5,1273.0 1155.0,1270.4 1165.5,1275.4 1176.0,1279.5 1186.5,1285.7 1197.0,1284.5 1207.5,1278.7 1218.0,1278.1 1228.5,1279.1 1239.0,1279.7 1249.5,1282.1 1260.0,1283.1 1270.5,1281.7 1281.0,1271.6 1291.5,1265.9 1302.0,1267.1 1312.5,1270.1 1323.0,1272.3 1333.5,1282.6 1344.0,1275.9 1354.5,1267.4 1365.0,1271.8 1375.5,1271.4 1386.0,1273.8 1396.5,1279.0 1407.0,1285.2 1417.5,1281.9 1428.0,1277.4 1438.5,1277.1 1449.0,1275.4 1459.5,1274.4 1470.0,1278.2 1480.5,1282.6 1491.0,1278.2 1501.5,1262.4 1512.0,1261.0 1522.5,1254.1 1533.0,1260.6 1543.5,1268.1 1554.0,1276.9 1564.5,1271.8 1575.0,1255.6 1585.5,1247.8 1596.0,1250.9 1606.5,1251.3 1617.0,1259.5 1627.5,1268.1 1638.0,1264.9 1648.5,1239.7 1659.0,1235.8 1669.5,1238.9 1680.0,1248.9 1690.5,1259.1 1701.0,1276.7 1711.5,1266.8 1722.0,1252.6 1732.5,1253.2 1743.0,1249.3 1753.5,1259.0 1764.0,1259.8 1774.5,1273.9 1785.0,1262.1 1795.5,1249.0 1806.0,1246.7 1816.5,1249.0 1827.0,1249.2 1837.5,1261.1 1848.0,1274.1 1858.5,1260.4 1869.0,1242.4 1879.5,1245.0 1890.0,1251.2 1900.5,1259.4 1911.0,1254.6" fill="none" stroke="#2b77e0" stroke-width="1.3" stroke-linejoin="round"/><polyline points="441.0,1281.6 451.5,1286.5 462.0,1285.5 472.5,1272.7 483.0,1270.7 493.5,1263.0 504.0,1269.0 514.5,1279.7 525.0,1283.0 535.5,1281.9 546.0,1271.3 556.5,1273.7 567.0,1272.2 577.5,1273.1 588.0,1274.6 598.5,1284.1 609.0,1282.2 619.5,1273.9 630.0,1272.6 640.5,1264.1 651.0,1272.4 661.5,1276.5 672.0,1284.0 682.5,1282.9 693.0,1274.6 703.5,1277.1 714.0,1278.6 724.5,1281.7 735.0,1283.9 745.5,1287.8 756.0,1287.4 766.5,1283.5 777.0,1285.1 787.5,1287.1 798.0,1288.2 808.5,1287.8 819.0,1289.4 829.5,1288.5 840.0,1285.7 850.5,1285.4 861.0,1285.4 871.5,1285.1 882.0,1286.6 892.5,1288.9 903.0,1286.8 913.5,1282.7 924.0,1283.5 934.5,1282.2 945.0,1280.4 955.5,1279.1 966.0,1285.0 976.5,1278.5 987.0,1272.8 997.5,1266.7 1008.0,1268.9 1018.5,1272.8 1029.0,1277.4 1039.5,1284.1 1050.0,1282.6 1060.5,1276.5 1071.0,1269.5 1081.5,1265.9 1092.0,1271.3 1102.5,1276.0 1113.0,1281.1 1123.5,1276.8 1134.0,1272.3 1144.5,1270.5 1155.0,1267.6 1165.5,1273.0 1176.0,1277.5 1186.5,1284.7 1197.0,1283.0 1207.5,1275.6 1218.0,1275.1 1228.5,1276.7 1239.0,1277.6 1249.5,1280.6 1260.0,1281.7 1270.5,1280.0 1281.0,1267.9 1291.5,1261.1 1302.0,1262.4 1312.5,1265.8 1323.0,1268.4 1333.5,1280.7 1344.0,1272.4 1354.5,1261.9 1365.0,1267.3 1375.5,1266.9 1386.0,1269.9 1396.5,1276.4 1407.0,1283.9 1417.5,1279.9 1428.0,1274.5 1438.5,1274.2 1449.0,1272.1 1459.5,1270.8 1470.0,1275.4 1480.5,1280.7 1491.0,1275.3 1501.5,1256.1 1512.0,1254.3 1522.5,1245.8 1533.0,1253.9 1543.5,1263.2 1554.0,1273.9 1564.5,1267.9 1575.0,1248.6 1585.5,1239.5 1596.0,1243.5 1606.5,1244.4 1617.0,1254.2 1627.5,1264.5 1638.0,1261.0 1648.5,1232.3 1659.0,1228.2 1669.5,1231.3 1680.0,1242.5 1690.5,1253.9 1701.0,1274.2 1711.5,1262.4 1722.0,1245.2 1732.5,1246.2 1743.0,1241.9 1753.5,1253.6 1764.0,1254.7 1774.5,1271.1 1785.0,1257.7 1795.5,1242.9 1806.0,1240.7 1816.5,1242.9 1827.0,1242.9 1837.5,1256.3 1848.0,1271.4 1858.5,1255.2 1869.0,1233.9 1879.5,1237.0 1890.0,1244.4 1900.5,1254.0 1911.0,1248.4" fill="none" stroke="#d5054a" stroke-width="1.3" stroke-linejoin="round"/><polyline points="378.0,1289.4 388.5,1284.6 399.0,1271.6 409.5,1264.4 420.0,1273.3 430.5,1271.5 441.0,1271.8 451.5,1282.8 462.0,1282.1 472.5,1264.7 483.0,1264.3 493.5,1257.2 504.0,1263.3 514.5,1276.1 525.0,1279.9 535.5,1277.8 546.0,1261.3 556.5,1265.4 567.0,1263.8 577.5,1265.6 588.0,1268.1 598.5,1281.4 609.0,1279.0 619.5,1268.5 630.0,1267.8 640.5,1258.9 651.0,1268.5 661.5,1273.3 672.0,1282.4 682.5,1280.9 693.0,1270.4 703.5,1273.5 714.0,1275.4 724.5,1279.3 735.0,1282.1 745.5,1286.8 756.0,1286.2 766.5,1280.9 777.0,1282.6 787.5,1284.9 798.0,1286.6 808.5,1286.2 819.0,1288.5 829.5,1287.3 840.0,1283.4 850.5,1283.1 861.0,1283.3 871.5,1283.1 882.0,1285.2 892.5,1288.2 903.0,1285.7 913.5,1280.6 924.0,1281.7 934.5,1280.2 945.0,1278.4 955.5,1277.2 966.0,1284.0 976.5,1276.4 987.0,1269.7 997.5,1262.4 1008.0,1264.8 1018.5,1269.3 1029.0,1274.5 1039.5,1282.4 1050.0,1280.6 1060.5,1273.3 1071.0,1265.1 1081.5,1262.0 1092.0,1268.8 1102.5,1274.1 1113.0,1279.8 1123.5,1275.0 1134.0,1270.1 1144.5,1268.0 1155.0,1264.8 1165.5,1270.7 1176.0,1275.6 1186.5,1283.6 1197.0,1281.5 1207.5,1272.4 1218.0,1272.1 1228.5,1274.2 1239.0,1275.4 1249.5,1279.0 1260.0,1280.5 1270.5,1278.6 1281.0,1265.3 1291.5,1257.9 1302.0,1259.3 1312.5,1263.0 1323.0,1265.7 1333.5,1279.5 1344.0,1270.1 1354.5,1258.2 1365.0,1264.2 1375.5,1263.7 1386.0,1266.9 1396.5,1274.2 1407.0,1282.8 1417.5,1278.2 1428.0,1271.8 1438.5,1271.4 1449.0,1269.0 1459.5,1267.6 1470.0,1272.9 1480.5,1279.1 1491.0,1273.0 1501.5,1251.1 1512.0,1249.2 1522.5,1239.6 1533.0,1249.1 1543.5,1259.8 1554.0,1271.8 1564.5,1265.3 1575.0,1244.1 1585.5,1234.3 1596.0,1238.9 1606.5,1240.0 1617.0,1250.8 1627.5,1262.1 1638.0,1258.4 1648.5,1227.5 1659.0,1223.2 1669.5,1226.3 1680.0,1238.3 1690.5,1250.6 1701.0,1272.6 1711.5,1259.6 1722.0,1240.6 1732.5,1241.8 1743.0,1237.1 1753.5,1250.1 1764.0,1251.3 1774.5,1269.4 1785.0,1254.9 1795.5,1238.9 1806.0,1236.6 1816.5,1238.8 1827.0,1238.5 1837.5,1253.0 1848.0,1269.3 1858.5,1251.4 1869.0,1227.5 1879.5,1231.0 1890.0,1239.3 1900.5,1249.9 1911.0,1243.8" fill="none" stroke="#f9c501" stroke-width="1.3" stroke-linejoin="round"/><polyline points="304.5,1291.4 315.0,1291.0 325.5,1279.0 336.0,1279.6 346.5,1270.1 357.0,1272.9 367.5,1268.9 378.0,1281.6 388.5,1272.0 399.0,1254.5 409.5,1256.1 420.0,1268.0 430.5,1266.1 441.0,1267.0 451.5,1280.9 462.0,1280.3 472.5,1260.1 483.0,1260.4 493.5,1253.0 504.0,1260.0 514.5,1274.4 525.0,1278.6 535.5,1276.4 546.0,1258.2 556.5,1262.7 567.0,1260.9 577.5,1262.9 588.0,1265.6 598.5,1280.4 609.0,1278.2 619.5,1268.5" fill="none" stroke="#23977e" stroke-width="1.3" stroke-linejoin="round"/><polyline points="693.0,1270.4 703.5,1272.8 714.0,1274.1 724.5,1277.8 735.0,1280.6 745.5,1285.9 756.0,1285.1 766.5,1278.4 777.0,1280.2 787.5,1282.8 798.0,1285.0 808.5,1284.4 819.0,1287.5 829.5,1285.9 840.0,1280.5 850.5,1280.1 861.0,1280.5 871.5,1280.5 882.0,1283.3 892.5,1287.3 903.0,1284.1 913.5,1277.8 924.0,1279.4 934.5,1277.6 945.0,1276.2 955.5,1275.3 966.0,1283.0 976.5,1274.5 987.0,1267.1 997.5,1259.0 1008.0,1261.6 1018.5,1266.6 1029.0,1272.2 1039.5,1281.0 1050.0,1278.9 1060.5,1270.4 1071.0,1260.8 1081.5,1258.0 1092.0,1266.2 1102.5,1272.2 1113.0,1278.6 1123.5,1273.3 1134.0,1267.8 1144.5,1265.6 1155.0,1262.0 1165.5,1268.3 1176.0,1273.6 1186.5,1282.6 1197.0,1280.0 1207.5,1269.3 1218.0,1268.8 1228.5,1271.1 1239.0,1272.5 1249.5,1276.7 1260.0,1278.4 1270.5,1276.2 1281.0,1260.3 1291.5,1251.5 1302.0,1253.0 1312.5,1257.3 1323.0,1260.5 1333.5,1277.0 1344.0,1265.5 1354.5,1250.9 1365.0,1258.2 1375.5,1257.5 1386.0,1261.5 1396.5,1270.5 1407.0,1281.0 1417.5,1275.3 1428.0,1267.5 1438.5,1267.1 1449.0,1264.4 1459.5,1263.0 1470.0,1269.5 1480.5,1276.9 1491.0,1269.8 1501.5,1244.3 1512.0,1242.2 1522.5,1231.3 1533.0,1242.4 1543.5,1254.9 1554.0,1268.9 1564.5,1261.4 1575.0,1237.1 1585.5,1226.0 1596.0,1231.3 1606.5,1232.4 1617.0,1244.8 1627.5,1257.8 1638.0,1253.5 1648.5,1217.9 1659.0,1212.9 1669.5,1216.6 1680.0,1230.4 1690.5,1244.6 1701.0,1269.8 1711.5,1254.9 1722.0,1233.2 1732.5,1234.6 1743.0,1229.2 1753.5,1244.0 1764.0,1245.5 1774.5,1266.1 1785.0,1249.5 1795.5,1231.1 1806.0,1228.5 1816.5,1231.4 1827.0,1231.6 1837.5,1248.2 1848.0,1266.8 1858.5,1247.1 1869.0,1221.1 1879.5,1225.1 1890.0,1234.1 1900.5,1245.9 1911.0,1239.2" fill="none" stroke="#23977e" stroke-width="1.3" stroke-linejoin="round"/><polyline points="598.5,1280.4 609.0,1277.8 619.5,1266.5 630.0,1265.4 640.5,1255.0 651.0,1264.5 661.5,1269.1 672.0,1279.7 682.5,1277.3 693.0,1262.0 703.5,1265.6 714.0,1267.7 724.5,1273.0 735.0,1276.8 745.5,1284.1 756.0,1283.0 766.5,1273.9 777.0,1276.2 787.5,1279.5 798.0,1282.7 808.5,1281.8 819.0,1286.1 829.5,1284.0 840.0,1276.8 850.5,1276.3 861.0,1277.0 871.5,1277.0 882.0,1280.8 892.5,1286.0 903.0,1281.9 913.5,1273.9 924.0,1275.9 934.5,1273.7 945.0,1273.2 955.5,1272.9 966.0,1281.8 976.5,1272.0 987.0,1263.3 997.5,1253.9 1008.0,1256.8 1018.5,1262.4 1029.0,1268.7 1039.5,1278.9 1050.0,1276.3 1060.5,1266.0 1071.0,1254.2 1081.5,1251.2 1092.0,1261.2 1102.5,1268.3 1113.0,1275.8 1123.5,1269.3 1134.0,1262.4 1144.5,1259.6 1155.0,1255.0 1165.5,1262.7 1176.0,1269.1 1186.5,1280.3 1197.0,1276.9 1207.5,1262.9 1218.0,1262.5 1228.5,1265.6 1239.0,1267.5 1249.5,1272.9 1260.0,1275.1 1270.5,1272.4 1281.0,1252.7 1291.5,1241.9 1302.0,1243.6 1312.5,1248.8 1323.0,1252.6 1333.5,1273.2 1344.0,1258.6 1354.5,1239.8 1365.0,1249.0 1375.5,1248.2 1386.0,1253.1 1396.5,1264.6 1407.0,1278.0 1417.5,1270.7 1428.0,1260.6 1438.5,1259.9 1449.0,1257.1 1459.5,1256.0 1470.0,1264.4 1480.5,1273.8 1491.0,1265.4 1501.5,1235.3 1512.0,1233.3 1522.5,1221.0 1533.0,1234.1 1543.5,1248.7 1554.0,1265.1 1564.5,1256.5 1575.0,1228.4 1585.5,1215.6 1596.0,1222.0 1606.5,1223.6 1617.0,1238.1 1627.5,1253.0 1638.0,1248.2 1648.5,1208.0 1659.0,1202.7 1669.5,1206.9 1680.0,1222.5 1690.5,1238.5 1701.0,1267.1 1711.5,1250.2 1722.0,1225.8 1732.5,1227.3 1743.0,1221.3 1753.5,1238.0 1764.0,1239.6 1774.5,1262.9 1785.0,1244.1 1795.5,1223.4 1806.0,1220.4 1816.5,1223.1 1827.0,1222.8 1837.5,1241.5 1848.0,1262.7 1858.5,1239.4 1869.0,1208.3 1879.5,1213.1 1890.0,1223.9 1900.5,1237.8 1911.0,1230.0" fill="none" stroke="#cf6b1b" stroke-width="1.3" stroke-linejoin="round"/><polyline points="598.5,1280.4 609.0,1275.5 619.5,1256.4 630.0,1241.3 640.5,1196.5 651.0,1226.1 661.5,1240.9 672.0,1266.7 682.5,1263.4 693.0,1236.7 703.5,1245.5 714.0,1251.0 724.5,1261.4 735.0,1268.6 745.5,1280.5 756.0,1278.5 766.5,1263.9 777.0,1266.8 787.5,1271.5 798.0,1277.2 808.5,1276.3 819.0,1283.4 829.5,1280.5 840.0,1270.8 850.5,1271.1 861.0,1272.1 871.5,1272.2 882.0,1277.3 892.5,1284.3 903.0,1279.0 913.5,1268.5 924.0,1271.2 934.5,1268.4 945.0,1269.0 955.5,1269.6 966.0,1280.0 976.5,1268.4 987.0,1258.2 997.5,1247.0 1008.0,1250.4 1018.5,1256.9 1029.0,1264.0 1039.5,1276.1 1050.0,1273.1 1060.5,1260.9 1071.0,1247.6 1081.5,1244.3 1092.0,1256.2 1102.5,1264.3 1113.0,1273.1 1123.5,1265.3 1134.0,1257.1 1144.5,1253.6 1155.0,1247.9 1165.5,1257.0 1176.0,1264.6 1186.5,1277.9 1197.0,1273.8 1207.5,1256.6 1218.0,1256.6 1228.5,1260.7 1239.0,1263.2 1249.5,1269.8 1260.0,1272.8 1270.5,1270.3 1281.0,1249.4 1291.5,1238.8 1302.0,1240.3 1312.5,1245.5 1323.0,1249.3 1333.5,1271.6 1344.0,1255.4 1354.5,1234.3 1365.0,1244.2 1375.5,1242.8 1386.0,1248.1 1396.5,1260.8 1407.0,1276.0 1417.5,1267.4 1428.0,1255.3 1438.5,1254.2 1449.0,1251.6 1459.5,1251.0 1470.0,1261.1 1480.5,1271.9 1491.0,1263.0 1501.5,1230.8 1512.0,1229.3 1522.5,1216.8 1533.0,1230.9 1543.5,1246.5 1554.0,1263.8 1564.5,1254.9 1575.0,1225.6 1585.5,1212.5 1596.0,1219.2 1606.5,1221.1 1617.0,1236.2 1627.5,1251.7 1638.0,1246.8 1648.5,1205.5 1659.0,1200.1 1669.5,1204.4 1680.0,1220.3 1690.5,1236.9 1701.0,1266.3 1711.5,1248.9 1722.0,1223.6 1732.5,1225.2 1743.0,1218.9 1753.5,1236.1 1764.0,1237.8 1774.5,1261.9 1785.0,1242.5 1795.5,1221.1 1806.0,1217.9 1816.5,1220.8 1827.0,1220.5 1837.5,1239.9 1848.0,1261.8 1858.5,1237.7 1869.0,1205.7 1879.5,1210.7 1890.0,1221.8 1900.5,1236.1 1911.0,1228.1" fill="none" stroke="#125d9e" stroke-width="1.3" stroke-linejoin="round"/><polyline points="1207.5,1256.6 1218.0,1255.4 1228.5,1258.8 1239.0,1260.8 1249.5,1267.5 1260.0,1270.1 1270.5,1266.6 1281.0,1240.5 1291.5,1226.0 1302.0,1227.7 1312.5,1234.1 1323.0,1238.7 1333.5,1266.5 1344.0,1246.2 1354.5,1219.5 1365.0,1232.1 1375.5,1230.6 1386.0,1237.3 1396.5,1253.3 1407.0,1272.3 1417.5,1261.6 1428.0,1246.9 1438.5,1245.6 1449.0,1243.1 1459.5,1242.8 1470.0,1255.4 1480.5,1268.4 1491.0,1258.2 1501.5,1221.3 1512.0,1220.1 1522.5,1206.5 1533.0,1222.6 1543.5,1240.4 1554.0,1260.1 1564.5,1250.0 1575.0,1216.9 1585.5,1202.1 1596.0,1209.4 1606.5,1211.0 1617.0,1228.0 1627.5,1245.7 1638.0,1239.8 1648.5,1191.5 1659.0,1184.8 1669.5,1188.4 1680.0,1206.2 1690.5,1225.1 1701.0,1260.4 1711.5,1238.1 1722.0,1205.1 1732.5,1204.8 1743.0,1194.1 1753.5,1215.3 1764.0,1215.8 1774.5,1248.7 1785.0,1218.9 1795.5,1184.7 1806.0,1177.3 1816.5,1184.5 1827.0,1186.5 1837.5,1216.9 1848.0,1249.6 1858.5,1217.4 1869.0,1175.9 1879.5,1182.8 1890.0,1197.9 1900.5,1217.3 1911.0,1206.7" fill="none" stroke="#f7a0ec" stroke-width="1.3" stroke-linejoin="round"/><polyline points="325.5,1279.0 336.0,1278.3 346.5,1261.4 357.0,1255.9 367.5,1261.8 378.0,1281.6 388.5,1270.1 399.0,1246.4 409.5,1243.1 420.0,1260.4 430.5,1259.2 441.0,1262.1 451.5,1278.9 462.0,1278.4 472.5,1255.5 483.0,1256.4 493.5,1248.9 504.0,1256.8 514.5,1272.8 525.0,1277.5 535.5,1275.2 546.0,1255.8 556.5,1260.8 567.0,1259.0 577.5,1261.1 588.0,1264.1 598.5,1279.8 609.0,1275.0 619.5,1256.4" fill="none" stroke="#a16ff7" stroke-width="1.3" stroke-linejoin="round"/><polyline points="640.5,1196.5 651.0,1225.7 661.5,1240.3 672.0,1266.3 682.5,1262.7 693.0,1235.1 703.5,1244.4 714.0,1250.2 724.5,1261.0 735.0,1268.4" fill="none" stroke="#a16ff7" stroke-width="1.3" stroke-linejoin="round"/><polyline points="798.0,1277.0 808.5,1275.9 819.0,1283.0 829.5,1279.8 840.0,1269.1 850.5,1268.8 861.0,1269.9 871.5,1270.1 882.0,1275.7 892.5,1283.5 903.0,1277.6 913.5,1265.9 924.0,1268.9 934.5,1265.8 945.0,1266.8 955.5,1267.7 966.0,1279.1 976.5,1266.8 987.0,1256.1 997.5,1244.5 1008.0,1247.9 1018.5,1254.9 1029.0,1262.0 1039.5,1274.7 1050.0,1271.3 1060.5,1257.3 1071.0,1241.0 1081.5,1238.4 1092.0,1252.4 1102.5,1261.4 1113.0,1271.2 1123.5,1262.6 1134.0,1253.7 1144.5,1249.8 1155.0,1243.7 1165.5,1253.0 1176.0,1260.9 1186.5,1275.7 1197.0,1270.4 1207.5,1248.7 1218.0,1248.4 1228.5,1253.3 1239.0,1256.3 1249.5,1264.4 1260.0,1267.4 1270.5,1263.4 1281.0,1234.2 1291.5,1218.0 1302.0,1219.9 1312.5,1227.0 1323.0,1232.1 1333.5,1263.4 1344.0,1240.4 1354.5,1210.3 1365.0,1224.5 1375.5,1222.9 1386.0,1230.5 1396.5,1248.4 1407.0,1269.8 1417.5,1257.9 1428.0,1241.3 1438.5,1239.9 1449.0,1237.1 1459.5,1236.8 1470.0,1250.9 1480.5,1265.6 1491.0,1254.1 1501.5,1212.7 1512.0,1211.4 1522.5,1196.1 1533.0,1214.3 1543.5,1234.2 1554.0,1256.4 1564.5,1245.1 1575.0,1208.1 1585.5,1191.7 1596.0,1199.8 1606.5,1201.6 1617.0,1220.6 1627.5,1240.3 1638.0,1233.7 1648.5,1179.7 1659.0,1172.1 1669.5,1176.1 1680.0,1195.8 1690.5,1216.9 1701.0,1256.5 1711.5,1231.4 1722.0,1194.0 1732.5,1194.2 1743.0,1182.7 1753.5,1206.8 1764.0,1207.7 1774.5,1244.4 1785.0,1211.8 1795.5,1174.7 1806.0,1167.2 1816.5,1174.3 1827.0,1175.8 1837.5,1208.9 1848.0,1244.8 1858.5,1208.3 1869.0,1161.0 1879.5,1168.8 1890.0,1185.9 1900.5,1207.8 1911.0,1195.9" fill="none" stroke="#a16ff7" stroke-width="1.3" stroke-linejoin="round"/><polyline points="1092.0,1252.4 1102.5,1261.0 1113.0,1270.6 1123.5,1261.3 1134.0,1251.4 1144.5,1246.7 1155.0,1239.5 1165.5,1245.5 1176.0,1251.4 1186.5,1268.8 1197.0,1258.2 1207.5,1217.1 1218.0,1220.6 1228.5,1231.8 1239.0,1239.0 1249.5,1252.8 1260.0,1257.9 1270.5,1253.1 1281.0,1214.3 1291.5,1194.1 1302.0,1196.9 1312.5,1206.6 1323.0,1213.7 1333.5,1254.8 1344.0,1225.1 1354.5,1186.3 1365.0,1204.3 1375.5,1201.6 1386.0,1211.2 1396.5,1234.5 1407.0,1262.6 1417.5,1246.4 1428.0,1223.7 1438.5,1221.3 1449.0,1218.6 1459.5,1219.4 1470.0,1238.8 1480.5,1258.3 1491.0,1244.3 1501.5,1193.2 1512.0,1192.8 1522.5,1175.4 1533.0,1197.6 1543.5,1222.0 1554.0,1248.9 1564.5,1235.3 1575.0,1190.7 1585.5,1170.9 1596.0,1181.9 1606.5,1185.2 1617.0,1208.4 1627.5,1232.1 1638.0,1225.1 1648.5,1164.2 1659.0,1156.9 1669.5,1159.5 1680.0,1180.5 1690.5,1203.7 1701.0,1249.8 1711.5,1218.8 1722.0,1171.8 1732.5,1173.4 1743.0,1160.9 1753.5,1190.9 1764.0,1193.0 1774.5,1236.7 1785.0,1199.7 1795.5,1158.2 1806.0,1150.9 1816.5,1159.6 1827.0,1162.0 1837.5,1199.4 1848.0,1239.7 1858.5,1199.7 1869.0,1148.2 1879.5,1156.8 1890.0,1175.7 1900.5,1199.7 1911.0,1186.7" fill="none" stroke="#ff7457" stroke-width="1.3" stroke-linejoin="round"/><polyline points="997.5,1244.5 1008.0,1246.7 1018.5,1252.8 1029.0,1258.2 1039.5,1271.3 1050.0,1257.7 1060.5,1210.2 1071.0,1109.7 1081.5,1130.4 1092.0,1189.5 1102.5,1217.4 1113.0,1244.3 1123.5,1228.1 1134.0,1213.3 1144.5,1210.6 1155.0,1204.5 1165.5,1217.2 1176.0,1228.9 1186.5,1257.2 1197.0,1242.7 1207.5,1185.4 1218.0,1196.1 1228.5,1215.9 1239.0,1228.9 1249.5,1248.2 1260.0,1254.3 1270.5,1249.3 1281.0,1207.4 1291.5,1186.1 1302.0,1189.4 1312.5,1200.0 1323.0,1207.8 1333.5,1252.1 1344.0,1220.3 1354.5,1179.0 1365.0,1198.3 1375.5,1195.5 1386.0,1205.8 1396.5,1230.7 1407.0,1260.8 1417.5,1243.6 1428.0,1219.5 1438.5,1217.0 1449.0,1213.9 1459.5,1214.5 1470.0,1235.0 1480.5,1255.8 1491.0,1240.6 1501.5,1185.1 1512.0,1184.3 1522.5,1165.1 1533.0,1189.3 1543.5,1215.9 1554.0,1245.2 1564.5,1230.4 1575.0,1181.9 1585.5,1160.5 1596.0,1172.6 1606.5,1176.3 1617.0,1201.6 1627.5,1227.3 1638.0,1219.9 1648.5,1154.4 1659.0,1146.6 1669.5,1149.7 1680.0,1172.6 1690.5,1197.7 1701.0,1247.0 1711.5,1214.1 1722.0,1164.4 1732.5,1166.0 1743.0,1152.5 1753.5,1184.3 1764.0,1186.4 1774.5,1232.9 1785.0,1193.3 1795.5,1148.8 1806.0,1140.8 1816.5,1150.0 1827.0,1152.5 1837.5,1192.7 1848.0,1235.9 1858.5,1192.9 1869.0,1137.5 1879.5,1146.4 1890.0,1166.3 1900.5,1192.0 1911.0,1177.5" fill="none" stroke="#64d1d3" stroke-width="1.3" stroke-linejoin="round"/><polyline points="619.5,1256.4 630.0,1240.9 640.5,1195.2 651.0,1225.0 661.5,1239.9 672.0,1266.1" fill="none" stroke="#7b1fae" stroke-width="1.3" stroke-linejoin="round"/><polyline points="787.5,1271.5 798.0,1276.3 808.5,1274.4 819.0,1281.7 829.5,1277.4 840.0,1263.1 850.5,1261.3 861.0,1263.2 871.5,1263.8 882.0,1271.4 892.5,1281.4 903.0,1274.2 913.5,1260.0 924.0,1264.0 934.5,1260.5 945.0,1262.4 955.5,1263.9 966.0,1277.1 976.5,1262.6 987.0,1249.8 997.5,1235.9 1008.0,1239.9 1018.5,1248.0 1029.0,1253.8 1039.5,1268.5 1050.0,1254.3 1060.5,1204.4 1071.0,1100.9 1081.5,1121.6 1092.0,1183.2 1102.5,1212.3 1113.0,1240.8 1123.5,1222.8 1134.0,1206.0 1144.5,1202.3 1155.0,1194.7 1165.5,1208.3 1176.0,1220.9 1186.5,1252.6 1197.0,1235.8 1207.5,1169.6 1218.0,1182.8 1228.5,1206.0 1239.0,1221.5 1249.5,1243.5 1260.0,1250.1 1270.5,1244.5 1281.0,1197.4 1291.5,1173.4 1302.0,1177.1 1312.5,1189.1 1323.0,1197.9 1333.5,1247.5 1344.0,1212.1 1354.5,1166.1 1365.0,1187.2 1375.5,1183.7 1386.0,1194.8 1396.5,1222.7 1407.0,1256.6 1417.5,1236.7 1428.0,1208.8 1438.5,1205.5 1449.0,1202.0 1459.5,1202.8 1470.0,1226.4 1480.5,1250.5 1491.0,1233.0 1501.5,1169.2 1512.0,1168.5 1522.5,1146.4 1533.0,1174.0 1543.5,1204.4 1554.0,1238.1 1564.5,1221.0 1575.0,1164.7 1585.5,1139.8 1596.0,1153.9 1606.5,1158.4 1617.0,1187.7 1627.5,1217.5 1638.0,1209.0 1648.5,1133.6 1659.0,1124.8 1669.5,1127.8 1680.0,1153.7 1690.5,1182.4 1701.0,1239.6 1711.5,1200.9 1722.0,1142.3 1732.5,1144.7 1743.0,1129.7 1753.5,1167.3 1764.0,1170.2 1774.5,1224.2 1785.0,1179.1 1795.5,1128.9 1806.0,1120.5 1816.5,1128.3 1827.0,1128.6 1837.5,1173.8 1848.0,1224.3 1858.5,1170.3 1869.0,1099.2 1879.5,1109.4 1890.0,1133.8 1900.5,1165.6 1911.0,1146.8" fill="none" stroke="#7b1fae" stroke-width="1.3" stroke-linejoin="round"/><polyline points="462.0,1278.2 472.5,1254.3 483.0,1254.8 493.5,1246.4 504.0,1254.6 514.5,1271.5 525.0,1276.5 535.5,1273.9 546.0,1252.8 556.5,1258.3 567.0,1256.4 577.5,1258.8 588.0,1262.1 598.5,1278.9 609.0,1274.0 619.5,1254.3 630.0,1238.9 640.5,1192.6 651.0,1223.0 661.5,1238.1 672.0,1265.2 682.5,1261.4 693.0,1232.5 703.5,1241.9 714.0,1247.8 724.5,1259.0 735.0,1266.7 745.5,1279.6 756.0,1277.5 766.5,1261.7 777.0,1264.8 787.5,1269.8 798.0,1275.0 808.5,1272.7 819.0,1280.7 829.5,1275.8 840.0,1259.7 850.5,1257.5 861.0,1259.5 871.5,1260.0 882.0,1268.5 892.5,1280.0 903.0,1271.5 913.5,1254.9 924.0,1259.5 934.5,1255.3 945.0,1258.8 955.5,1261.5 966.0,1276.0 976.5,1260.5 987.0,1247.0 997.5,1232.5 1008.0,1237.1 1018.5,1245.9 1029.0,1251.8 1039.5,1267.1 1050.0,1252.3 1060.5,1200.0 1071.0,1092.2 1081.5,1112.8 1092.0,1177.0 1102.5,1207.1 1113.0,1237.0 1123.5,1217.0 1134.0,1198.0 1144.5,1193.0 1155.0,1183.5 1165.5,1199.1 1176.0,1213.5 1186.5,1248.7 1197.0,1230.4 1207.5,1158.5 1218.0,1172.1 1228.5,1196.8 1239.0,1213.2 1249.5,1237.4 1260.0,1245.1 1270.5,1238.9 1281.0,1186.9 1291.5,1160.6 1302.0,1164.6 1312.5,1177.7 1323.0,1187.4 1333.5,1242.5 1344.0,1202.9 1354.5,1151.3 1365.0,1174.4 1375.5,1169.8 1386.0,1181.8 1396.5,1213.0 1407.0,1251.4 1417.5,1228.3 1428.0,1195.6 1438.5,1191.2 1449.0,1187.4 1459.5,1188.6 1470.0,1216.2 1480.5,1244.2 1491.0,1224.1 1501.5,1151.1 1512.0,1150.6 1522.5,1125.7 1533.0,1157.4 1543.5,1192.2 1554.0,1230.7 1564.5,1211.2 1575.0,1147.3 1585.5,1119.0 1596.0,1135.0 1606.5,1140.1 1617.0,1173.5 1627.5,1207.3 1638.0,1197.7 1648.5,1111.9 1659.0,1101.9 1669.5,1106.4 1680.0,1136.6 1690.5,1169.5 1701.0,1233.9 1711.5,1191.4 1722.0,1127.5 1732.5,1130.3 1743.0,1113.9 1753.5,1155.2 1764.0,1158.4 1774.5,1217.7 1785.0,1168.4 1795.5,1113.4 1806.0,1104.3 1816.5,1114.0 1827.0,1115.4 1837.5,1165.0 1848.0,1219.7 1858.5,1162.8 1869.0,1088.5 1879.5,1100.5 1890.0,1127.0 1900.5,1160.9 1911.0,1142.2" fill="none" stroke="#93bb33" stroke-width="1.3" stroke-linejoin="round"/><polyline points="409.5,1243.1 420.0,1255.6 430.5,1247.5 441.0,1242.5 451.5,1270.0 462.0,1268.4 472.5,1225.6 483.0,1225.1 493.5,1208.0 504.0,1222.3 514.5,1253.4 525.0,1262.5 535.5,1257.0 546.0,1214.1 556.5,1227.7 567.0,1226.6 577.5,1233.2 588.0,1240.9 598.5,1270.6 609.0,1261.1 619.5,1224.0 630.0,1211.3 640.5,1161.4 651.0,1199.9 661.5,1219.0 672.0,1255.2 682.5,1249.3 693.0,1207.3 703.5,1219.7 714.0,1227.3 724.5,1243.0 735.0,1254.0 745.5,1273.2 756.0,1267.7 766.5,1234.8 777.0,1233.9 787.5,1237.5 798.0,1251.2 808.5,1246.6 819.0,1266.3 829.5,1255.4 840.0,1219.7 850.5,1216.1 861.0,1222.4 871.5,1225.2 882.0,1244.4 892.5,1268.5 903.0,1252.6 913.5,1221.9 924.0,1232.0 934.5,1225.7 945.0,1234.8 955.5,1241.6 966.0,1266.3 976.5,1242.2 987.0,1222.4 997.5,1201.8 1008.0,1207.3 1018.5,1219.7 1029.0,1232.0 1039.5,1256.7 1050.0,1240.3 1060.5,1181.2 1071.0,1068.1 1081.5,1089.2 1092.0,1160.6 1102.5,1192.0 1113.0,1225.2 1123.5,1198.0 1134.0,1170.2 1144.5,1159.3 1155.0,1141.4 1165.5,1166.1 1176.0,1188.1 1186.5,1236.1 1197.0,1214.2 1207.5,1126.9 1218.0,1138.7 1228.5,1166.1 1239.0,1184.0 1249.5,1214.2 1260.0,1227.3 1270.5,1221.0 1281.0,1155.1 1291.5,1125.5 1302.0,1129.6 1312.5,1145.5 1323.0,1157.1 1333.5,1227.9 1344.0,1175.7 1354.5,1107.1 1365.0,1135.9 1375.5,1128.2 1386.0,1142.8 1396.5,1184.0 1407.0,1236.1 1417.5,1203.2 1428.0,1156.0 1438.5,1148.3 1449.0,1145.5 1459.5,1149.6 1470.0,1189.5 1480.5,1228.4 1491.0,1203.2 1501.5,1110.4 1512.0,1112.6 1522.5,1084.3 1533.0,1124.9 1543.5,1168.9 1554.0,1216.9 1564.5,1193.6 1575.0,1116.7 1585.5,1083.7 1596.0,1104.3 1606.5,1111.6 1617.0,1152.2 1627.5,1192.8 1638.0,1182.2 1648.5,1083.7 1659.0,1073.6 1669.5,1079.2 1680.0,1114.2 1690.5,1152.2 1701.0,1225.8 1711.5,1177.6 1722.0,1105.3 1732.5,1108.6 1743.0,1090.1 1753.5,1137.0 1764.0,1140.8 1774.5,1208.0 1785.0,1152.2 1795.5,1090.1 1806.0,1079.9 1816.5,1092.6 1827.0,1095.9 1837.5,1152.2 1848.0,1213.1 1858.5,1152.2 1869.0,1073.6 1879.5,1087.5 1890.0,1116.7 1900.5,1153.5 1911.0,1134.5" fill="none" stroke="#2b77e0" stroke-width="2.0" stroke-linejoin="round"/><line x1="157.5" y1="1290.6" x2="1911.0" y2="1290.6" stroke="#eaa2ee" stroke-width="1.6"/></svg><div class="b" style="left:99.00px;top:1011.20px;width:28.00px;height:15.00px;background:#e4e5e8;border-radius:3px;filter:blur(3.2px);"></div><div class="b" style="left:99.00px;top:1065.80px;width:28.00px;height:15.00px;background:#e4e5e8;border-radius:3px;filter:blur(3.2px);"></div><div class="b" style="left:99.00px;top:1120.40px;width:28.00px;height:15.00px;background:#e4e5e8;border-radius:3px;filter:blur(3.2px);"></div><div class="b" style="left:99.00px;top:1174.90px;width:28.00px;height:15.00px;background:#e4e5e8;border-radius:3px;filter:blur(3.2px);"></div><div class="b" style="left:99.00px;top:1229.50px;width:28.00px;height:15.00px;background:#e4e5e8;border-radius:3px;filter:blur(3.2px);"></div><div class="t" style="top:1284.99px;font-size:13.0px;line-height:13.0px;font-weight:400;color:#4b5160;left:-1376.00px;width:1500px;text-align:right;">0</div><div class="t" style="top:1302.05px;font-size:13.4px;line-height:13.4px;font-weight:400;color:#4b5160;left:-498.00px;width:1500px;text-align:center;">Jan 10</div><div class="t" style="top:1302.05px;font-size:13.4px;line-height:13.4px;font-weight:400;color:#4b5160;left:-351.00px;width:1500px;text-align:center;">Jan 24</div><div class="t" style="top:1302.05px;font-size:13.4px;line-height:13.4px;font-weight:400;color:#4b5160;left:-204.00px;width:1500px;text-align:center;">Feb 7</div><div class="t" style="top:1302.05px;font-size:13.4px;line-height:13.4px;font-weight:400;color:#4b5160;left:-57.00px;width:1500px;text-align:center;">Feb 21</div><div class="t" style="top:1302.05px;font-size:13.4px;line-height:13.4px;font-weight:400;color:#4b5160;left:90.00px;width:1500px;text-align:center;">Mar 7</div><div class="t" style="top:1302.05px;font-size:13.4px;line-height:13.4px;font-weight:400;color:#4b5160;left:237.00px;width:1500px;text-align:center;">Mar 21</div><div class="t" style="top:1302.05px;font-size:13.4px;line-height:13.4px;font-weight:400;color:#4b5160;left:384.00px;width:1500px;text-align:center;">Apr 4</div><div class="t" style="top:1302.05px;font-size:13.4px;line-height:13.4px;font-weight:400;color:#4b5160;left:531.00px;width:1500px;text-align:center;">Apr 18</div><div class="t" style="top:1302.05px;font-size:13.4px;line-height:13.4px;font-weight:400;color:#4b5160;left:678.00px;width:1500px;text-align:center;">May 2</div><div class="t" style="top:1302.05px;font-size:13.4px;line-height:13.4px;font-weight:400;color:#4b5160;left:825.00px;width:1500px;text-align:center;">May 16</div><div class="t" style="top:1302.05px;font-size:13.4px;line-height:13.4px;font-weight:400;color:#4b5160;left:972.00px;width:1500px;text-align:center;">May 30</div><div class="t" style="top:1302.05px;font-size:13.4px;line-height:13.4px;font-weight:400;color:#4b5160;left:1119.00px;width:1500px;text-align:center;">Jun 13</div><div class="b" style="left:170.90px;top:1341.60px;width:13.20px;height:13.20px;background:#2b77e0;border-radius:50%;"></div><div class="t" style="top:1341.09px;font-size:14.3px;line-height:14.3px;font-weight:400;color:#4b5160;left:195.30px;">keyword A</div><div class="b" style="left:282.90px;top:1341.60px;width:13.20px;height:13.20px;background:#93bb33;border-radius:50%;"></div><div class="t" style="top:1341.09px;font-size:14.3px;line-height:14.3px;font-weight:400;color:#4b5160;left:307.30px;">keyword B</div><div class="b" style="left:394.70px;top:1341.60px;width:13.20px;height:13.20px;background:#7b1fae;border-radius:50%;"></div><div class="t" style="top:1341.09px;font-size:14.3px;line-height:14.3px;font-weight:400;color:#4b5160;left:419.10px;">keyword C</div><div class="b" style="left:506.40px;top:1341.60px;width:13.20px;height:13.20px;background:#64d1d3;border-radius:50%;"></div><div class="t" style="top:1341.09px;font-size:14.3px;line-height:14.3px;font-weight:400;color:#4b5160;left:530.80px;">keyword D</div><div class="b" style="left:618.80px;top:1341.60px;width:13.20px;height:13.20px;background:#ff7457;border-radius:50%;"></div><div class="t" style="top:1341.09px;font-size:14.3px;line-height:14.3px;font-weight:400;color:#4b5160;left:643.20px;">keyword E</div><div class="b" style="left:729.30px;top:1341.60px;width:13.20px;height:13.20px;background:#a16ff7;border-radius:50%;"></div><div class="t" style="top:1341.09px;font-size:14.3px;line-height:14.3px;font-weight:400;color:#4b5160;left:753.70px;">keyword F</div><div class="b" style="left:840.20px;top:1341.60px;width:13.20px;height:13.20px;background:#f7a0ec;border-radius:50%;"></div><div class="t" style="top:1341.09px;font-size:14.3px;line-height:14.3px;font-weight:400;color:#4b5160;left:864.60px;">keyword G</div><div class="b" style="left:953.80px;top:1341.60px;width:13.20px;height:13.20px;background:#125d9e;border-radius:50%;"></div><div class="t" style="top:1341.09px;font-size:14.3px;line-height:14.3px;font-weight:400;color:#4b5160;left:978.20px;">keyword H</div><div class="b" style="left:1066.90px;top:1341.60px;width:13.20px;height:13.20px;background:#cf6b1b;border-radius:50%;"></div><div class="t" style="top:1341.09px;font-size:14.3px;line-height:14.3px;font-weight:400;color:#4b5160;left:1091.30px;">keyword I</div><div class="b" style="left:1175.10px;top:1341.60px;width:13.20px;height:13.20px;background:#23977e;border-radius:50%;"></div><div class="t" style="top:1341.09px;font-size:14.3px;line-height:14.3px;font-weight:400;color:#4b5160;left:1199.50px;">keyword J</div><div class="b" style="left:1285.40px;top:1341.60px;width:13.20px;height:13.20px;background:#f9c501;border-radius:50%;"></div><div class="t" style="top:1341.09px;font-size:14.3px;line-height:14.3px;font-weight:400;color:#4b5160;left:1309.80px;">keyword K</div><div class="b" style="left:1397.40px;top:1341.60px;width:13.20px;height:13.20px;background:#d5054a;border-radius:50%;"></div><div class="t" style="top:1341.09px;font-size:14.3px;line-height:14.3px;font-weight:400;color:#4b5160;left:1421.80px;">keyword L</div><div class="b" style="left:1507.40px;top:1341.60px;width:13.20px;height:13.20px;background:#2b77e0;border-radius:50%;"></div><div class="t" style="top:1341.09px;font-size:14.3px;line-height:14.3px;font-weight:400;color:#4b5160;left:1531.80px;">keyword M</div><div class="b" style="left:1621.40px;top:1341.60px;width:13.20px;height:13.20px;background:#93bb33;border-radius:50%;"></div><div class="t" style="top:1341.09px;font-size:14.3px;line-height:14.3px;font-weight:400;color:#4b5160;left:1645.80px;">keyword N</div><div class="b" style="left:1734.10px;top:1341.60px;width:13.20px;height:13.20px;background:#7b1fae;border-radius:50%;"></div><div class="t" style="top:1341.09px;font-size:14.3px;line-height:14.3px;font-weight:400;color:#4b5160;left:1758.50px;">keyword O</div><div class="b" style="left:1846.50px;top:1346.10px;width:4.20px;height:4.20px;background:#4b5160;border-radius:50%;"></div><div class="b" style="left:1853.40px;top:1346.10px;width:4.20px;height:4.20px;background:#4b5160;border-radius:50%;"></div><div class="b" style="left:1860.30px;top:1346.10px;width:4.20px;height:4.20px;background:#4b5160;border-radius:50%;"></div><svg class="b" style="left:140px;top:1590px" width="850" height="320" viewBox="140 1590 850 320"><defs><pattern id="hb" patternUnits="userSpaceOnUse" width="9" height="9" patternTransform="rotate(45)"><rect width="9" height="9" fill="#d6e4f8"/><rect width="4" height="9" fill="#aecbf3"/></pattern><pattern id="hg" patternUnits="userSpaceOnUse" width="9" height="9" patternTransform="rotate(45)"><rect width="9" height="9" fill="#e8f0d8"/><rect width="4" height="9" fill="#d2e3b0"/></pattern></defs><line x1="150.9" y1="1601.2" x2="977" y2="1601.2" stroke="#d3d6da" stroke-width="1" stroke-dasharray="1.2 1.2"/><line x1="150.9" y1="1676.0" x2="977" y2="1676.0" stroke="#d3d6da" stroke-width="1" stroke-dasharray="1.2 1.2"/><line x1="150.9" y1="1750.9" x2="977" y2="1750.9" stroke="#d3d6da" stroke-width="1" stroke-dasharray="1.2 1.2"/><line x1="150.9" y1="1825.7" x2="977" y2="1825.7" stroke="#d3d6da" stroke-width="1" stroke-dasharray="1.2 1.2"/><line x1="150.9" y1="1900.5" x2="977" y2="1900.5" stroke="#d3d6da" stroke-width="1" stroke-dasharray="1.2 1.2"/><rect x="201.1" y="1601.2" width="148" height="299.3" fill="#2b77e0"/><rect x="365.6" y="1601.2" width="148" height="299.3" fill="#93bb33"/><rect x="613.6" y="1601.3" width="147.6" height="138.6" fill="url(#hb)"/><rect x="613.6" y="1741.5" width="147.6" height="159" fill="#2b77e0"/><rect x="779.3" y="1601.3" width="147.4" height="147.7" fill="url(#hg)"/><rect x="779.3" y="1750.5" width="147.4" height="150" fill="#93bb33"/></svg><div class="t" style="top:1595.87px;font-size:12.67px;line-height:12.67px;font-weight:400;color:#4b5160;left:-1366.10px;width:1500px;text-align:right;">100%</div><div class="t" style="top:1670.70px;font-size:12.67px;line-height:12.67px;font-weight:400;color:#4b5160;left:-1366.10px;width:1500px;text-align:right;">75%</div><div class="t" style="top:1745.53px;font-size:12.67px;line-height:12.67px;font-weight:400;color:#4b5160;left:-1366.10px;width:1500px;text-align:right;">50%</div><div class="t" style="top:1820.36px;font-size:12.67px;line-height:12.67px;font-weight:400;color:#4b5160;left:-1366.10px;width:1500px;text-align:right;">25%</div><div class="t" style="top:1895.19px;font-size:12.67px;line-height:12.67px;font-weight:400;color:#4b5160;left:-1366.10px;width:1500px;text-align:right;">0%</div><div class="t" style="top:1910.49px;font-size:14.07px;line-height:14.07px;font-weight:400;color:#4b5160;left:-392.50px;width:1500px;text-align:center;">Blog Post Viewed (SEO, Thought Leadership)</div><div class="t" style="top:1909.82px;font-size:13.91px;line-height:13.91px;font-weight:400;color:#4b5160;left:20.80px;width:1500px;text-align:center;">CTA Clicked</div><div class="b" style="left:427.90px;top:1935.10px;width:13.20px;height:13.20px;background:#2b77e0;border-radius:50%;"></div><div class="t" style="top:1935.15px;font-size:13.4px;line-height:13.4px;font-weight:400;color:#4b5160;left:452.90px;">SEO</div><div class="b" style="left:499.60px;top:1935.10px;width:13.20px;height:13.20px;background:#93bb33;border-radius:50%;"></div><div class="t" style="top:1934.59px;font-size:14.07px;line-height:14.07px;font-weight:400;color:#4b5160;left:524.30px;">Thought Leadership</div><div class="t" style="top:1607.27px;font-size:16.1px;line-height:16.1px;font-weight:400;color:#1e2228;-webkit-text-stroke:0.55px #1e2228;left:1050.70px;">Top events performed after</div><div class="b" style="left:1248.70px;top:1605.70px;width:114.30px;height:19.80px;background:#e1e3e6;border-radius:2px;"></div><div class="t" style="top:1609.37px;font-size:13.15px;line-height:13.15px;font-weight:400;color:#1e2228;left:1253.20px;">Blog Post Viewed</div><div class="b" style="left:1050.00px;top:1652.50px;width:104.90px;height:19.80px;background:#e1e3e6;border-radius:2px;"></div><div class="b" style="left:1055.00px;top:1655.50px;width:17.00px;height:14.00px;background:#c4c6c9;border-radius:3px;filter:blur(1.8px);"></div><div class="t" style="top:1657.05px;font-size:12.81px;line-height:12.81px;font-weight:400;color:#1e2228;left:1077.30px;">End Session</div><div class="t" style="top:1655.42px;font-size:15.8px;line-height:15.8px;font-weight:400;color:#4b5160;left:1160.40px;">62.8%</div><div class="b" style="left:1050.00px;top:1679.50px;width:889.00px;height:13.20px;background:#999999;"></div><div class="b" style="left:1050.00px;top:1679.50px;width:8.00px;height:13.20px;background:#111317;"></div><div class="b" style="left:1050.00px;top:1705.90px;width:81.80px;height:19.80px;background:#e1e3e6;border-radius:2px;"></div><div class="t" style="top:1710.45px;font-size:12.81px;line-height:12.81px;font-weight:400;color:#1e2228;left:1056.50px;">CTA Clicked</div><div class="t" style="top:1708.82px;font-size:15.8px;line-height:15.8px;font-weight:400;color:#4b5160;left:1137.30px;">19.7%</div><div class="b" style="left:1050.00px;top:1732.90px;width:279.50px;height:13.20px;background:#d4e5ad;"></div><div class="b" style="left:1050.00px;top:1732.90px;width:8.00px;height:13.20px;background:#93bb33;"></div><div class="b" style="left:1050.00px;top:1759.70px;width:87.70px;height:19.80px;background:#e1e3e6;border-radius:2px;"></div><div class="t" style="top:1764.25px;font-size:12.81px;line-height:12.81px;font-weight:400;color:#1e2228;left:1056.50px;">Page Viewed</div><div class="t" style="top:1762.62px;font-size:15.8px;line-height:15.8px;font-weight:400;color:#4b5160;left:1143.20px;">14.7%</div><div class="b" style="left:1050.00px;top:1786.70px;width:209.00px;height:13.20px;background:#d0a5e0;"></div><div class="b" style="left:1050.00px;top:1786.70px;width:8.00px;height:13.20px;background:#7b1fae;"></div><div class="b" style="left:1050.00px;top:1812.40px;width:45.10px;height:19.80px;background:#e1e3e6;border-radius:2px;"></div><div class="t" style="top:1816.95px;font-size:12.81px;line-height:12.81px;font-weight:400;color:#1e2228;left:1056.50px;">Other</div><div class="t" style="top:1815.32px;font-size:15.8px;line-height:15.8px;font-weight:400;color:#4b5160;left:1100.60px;">2.77%</div><div class="b" style="left:1050.00px;top:1839.40px;width:39.90px;height:13.20px;background:#c3eced;"></div><div class="b" style="left:1050.00px;top:1839.40px;width:8.00px;height:13.20px;background:#64d1d3;"></div>
</body></html>
